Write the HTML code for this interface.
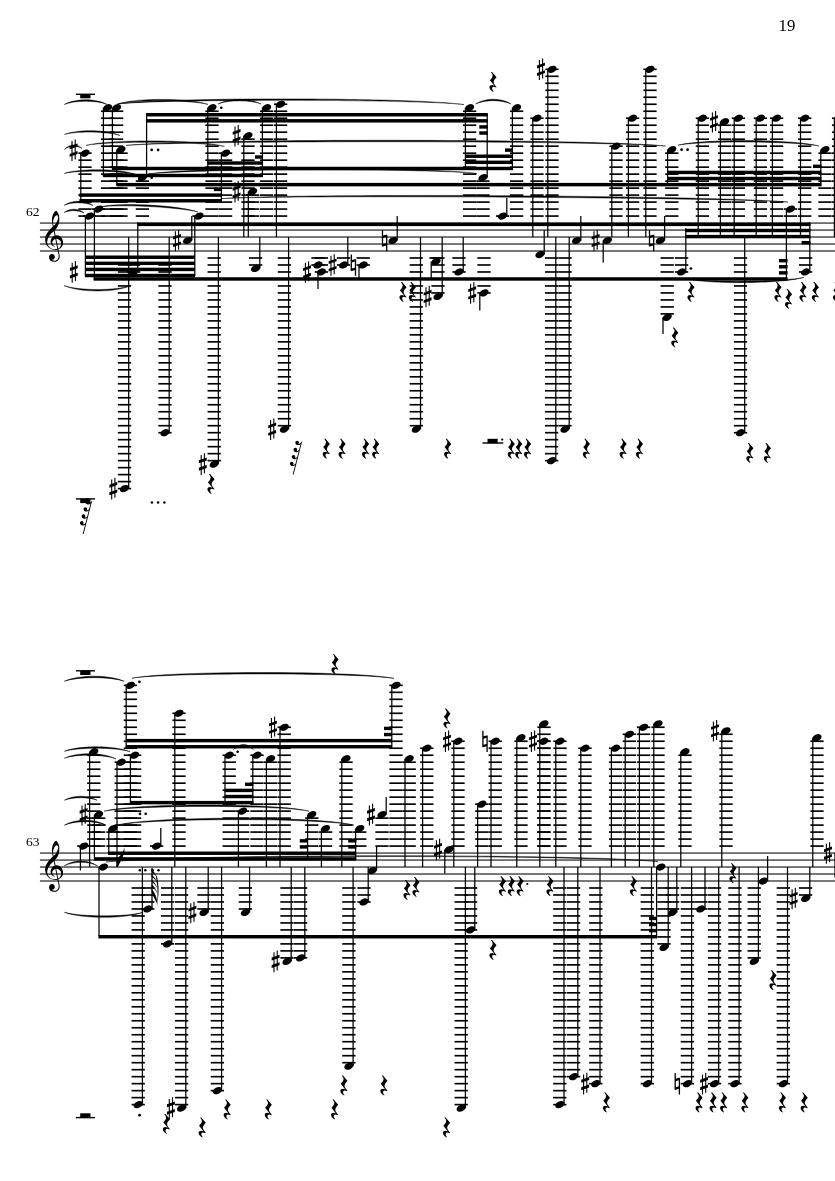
<!DOCTYPE html>
<html><head><meta charset="utf-8"><title>19</title>
<style>
html,body{margin:0;padding:0;background:#fff}
body{width:835px;height:1181px;overflow:hidden}
svg{display:block}
text{font-family:"Liberation Serif","DejaVu Serif",serif;fill:#000;filter:grayscale(1)}
</style></head>
<body>
<svg width="835" height="1181" viewBox="0 0 835 1181" fill="#000">
<rect x="0" y="0" width="835" height="1181" fill="#fff"/>
<text x="778.6" y="31.2" font-size="16.2" textLength="16.8" lengthAdjust="spacingAndGlyphs">19</text>
<rect x="39.9" y="250.48" width="795.1" height="1.05"/>
<rect x="39.9" y="243.49" width="795.1" height="1.05"/>
<rect x="39.9" y="236.5" width="795.1" height="1.05"/>
<rect x="39.9" y="229.52" width="795.1" height="1.05"/>
<rect x="39.9" y="222.53" width="795.1" height="1.05"/>
<path transform="translate(43.62 250.11) scale(0.02943 -0.02943)" d="M314 801Q300 854 291.0 906.0Q282 958 282 1012Q282 1059 288.5 1100.5Q295 1142 307 1177Q320 1217 341.0 1252.5Q362 1288 385.5 1311.0Q409 1334 427 1334Q451 1334 493 1249Q514 1206 524.0 1156.0Q534 1106 534 1049Q534 978 515.0 907.5Q496 837 459.5 775.0Q423 713 372 666L407 498Q422 500 432.0 501.0Q442 502 447 502Q508 502 556.0 467.5Q604 433 632.5 377.0Q661 321 661 254Q661 177 621.5 115.5Q582 54 503 25Q508 8 532 -117Q538 -147 541.0 -164.5Q544 -182 545.0 -195.0Q546 -208 546 -225Q546 -275 521.5 -314.5Q497 -354 455.5 -376.0Q414 -398 363 -398Q311 -398 271.0 -378.5Q231 -359 208.0 -324.5Q185 -290 185 -245Q185 -197 211.5 -165.0Q238 -133 287 -133Q329 -133 355.5 -163.5Q382 -194 382 -236Q382 -272 357.0 -299.0Q332 -326 292 -326H282Q308 -365 364 -365Q433 -365 472.0 -320.0Q511 -275 511 -205Q511 -188 507.0 -159.5Q503 -131 493 -91Q483 -51 477.5 -25.0Q472 1 470 12Q436 2 390 2Q304 2 222 52Q142 102 96.0 184.0Q50 266 50 361Q50 451 91 530Q132 609 192.5 675.0Q253 741 314 801ZM341 826Q364 838 390.0 870.5Q416 903 440.0 945.0Q464 987 479.0 1029.5Q494 1072 494 1106Q494 1142 483.0 1163.0Q472 1184 445 1184Q421 1184 398.5 1162.0Q376 1140 358.5 1103.5Q341 1067 331.0 1022.0Q321 977 321 930Q321 898 327.5 872.0Q334 846 341 826ZM398 379Q371 373 347.0 353.5Q323 334 308.5 306.5Q294 279 294 248Q294 223 307.0 196.5Q320 170 339 154Q352 142 365 136Q380 129 380 123Q380 120 370 117Q332 126 301.5 151.0Q271 176 253.5 211.5Q236 247 236 287Q236 330 253.5 370.0Q271 410 302.5 442.0Q334 474 374 490L345 641Q229 547 174.5 456.5Q120 366 120 277Q120 212 154.0 156.0Q188 100 247.0 65.5Q306 31 380 31Q400 31 420.5 35.0Q441 39 464 45ZM495 55Q593 97 593 227Q593 270 571.0 305.5Q549 341 512.0 362.0Q475 383 429 383Z"/>
<path d="M71.65 262.7h1.1v20.0h-1.1zM74.85 261.1h1.1v20.0h-1.1zM69.85 268.1l7.9 -2.8v2.9l-7.9 2.8zM69.85 275.6l7.9 -2.8v2.9l-7.9 2.8z"/>
<text x="26" y="216" font-size="13.2" textLength="13.6" lengthAdjust="spacingAndGlyphs">62</text>
<rect x="76" y="93.6" width="19" height="1.4"/>
<rect x="80.2" y="94.1" width="10.3" height="4.2"/>
<rect x="100.95" y="215.24" width="13.3" height="1.65"/>
<rect x="100.95" y="208.25" width="13.3" height="1.65"/>
<rect x="100.95" y="201.27" width="13.3" height="1.65"/>
<rect x="100.95" y="194.28" width="13.3" height="1.65"/>
<rect x="100.95" y="187.29" width="13.3" height="1.65"/>
<rect x="100.95" y="180.3" width="13.3" height="1.65"/>
<rect x="100.95" y="173.31" width="13.3" height="1.65"/>
<rect x="100.95" y="166.32" width="13.3" height="1.65"/>
<rect x="100.95" y="159.34" width="13.3" height="1.65"/>
<rect x="100.95" y="152.35" width="13.3" height="1.65"/>
<rect x="100.95" y="145.36" width="13.3" height="1.65"/>
<rect x="100.95" y="138.37" width="13.3" height="1.65"/>
<rect x="100.95" y="131.38" width="13.3" height="1.65"/>
<rect x="100.95" y="124.4" width="13.3" height="1.65"/>
<rect x="100.95" y="117.41" width="13.3" height="1.65"/>
<rect x="100.95" y="110.42" width="13.3" height="1.65"/>
<rect x="102.77" y="107.75" width="1.25" height="68.85"/>
<ellipse cx="107.6" cy="107.75" rx="4.85" ry="3.3" transform="rotate(-25 107.6 107.75)"/>
<rect x="109.95" y="215.24" width="13.3" height="1.65"/>
<rect x="109.95" y="208.25" width="13.3" height="1.65"/>
<rect x="109.95" y="201.27" width="13.3" height="1.65"/>
<rect x="109.95" y="194.28" width="13.3" height="1.65"/>
<rect x="109.95" y="187.29" width="13.3" height="1.65"/>
<rect x="109.95" y="180.3" width="13.3" height="1.65"/>
<rect x="109.95" y="173.31" width="13.3" height="1.65"/>
<rect x="109.95" y="166.32" width="13.3" height="1.65"/>
<rect x="109.95" y="159.34" width="13.3" height="1.65"/>
<rect x="109.95" y="152.35" width="13.3" height="1.65"/>
<rect x="109.95" y="145.36" width="13.3" height="1.65"/>
<rect x="109.95" y="138.37" width="13.3" height="1.65"/>
<rect x="109.95" y="131.38" width="13.3" height="1.65"/>
<rect x="109.95" y="124.4" width="13.3" height="1.65"/>
<rect x="109.95" y="117.41" width="13.3" height="1.65"/>
<rect x="109.95" y="110.42" width="13.3" height="1.65"/>
<rect x="111.77" y="107.75" width="1.25" height="62.05"/>
<ellipse cx="116.6" cy="107.75" rx="4.85" ry="3.3" transform="rotate(-25 116.6 107.75)"/>
<rect x="114.35" y="215.24" width="13.3" height="1.65"/>
<rect x="114.35" y="208.25" width="13.3" height="1.65"/>
<rect x="114.35" y="201.27" width="13.3" height="1.65"/>
<rect x="114.35" y="194.28" width="13.3" height="1.65"/>
<rect x="114.35" y="187.29" width="13.3" height="1.65"/>
<rect x="114.35" y="180.3" width="13.3" height="1.65"/>
<rect x="114.35" y="173.31" width="13.3" height="1.65"/>
<rect x="114.35" y="166.32" width="13.3" height="1.65"/>
<rect x="114.35" y="159.34" width="13.3" height="1.65"/>
<rect x="114.35" y="152.35" width="13.3" height="1.65"/>
<rect x="116.17" y="149.68" width="1.25" height="36.12"/>
<ellipse cx="121" cy="149.68" rx="4.85" ry="3.3" transform="rotate(-25 121 149.68)"/>
<rect x="78.35" y="215.24" width="13.3" height="1.65"/>
<rect x="78.35" y="208.25" width="13.3" height="1.65"/>
<rect x="78.35" y="201.27" width="13.3" height="1.65"/>
<rect x="78.35" y="194.28" width="13.3" height="1.65"/>
<rect x="78.35" y="187.29" width="13.3" height="1.65"/>
<rect x="78.35" y="180.3" width="13.3" height="1.65"/>
<rect x="78.35" y="173.31" width="13.3" height="1.65"/>
<rect x="78.35" y="166.32" width="13.3" height="1.65"/>
<rect x="78.35" y="159.34" width="13.3" height="1.65"/>
<rect x="78.35" y="152.35" width="13.3" height="1.65"/>
<rect x="80.17" y="153.17" width="1.25" height="48.83"/>
<ellipse cx="85" cy="153.17" rx="4.85" ry="3.3" transform="rotate(-25 85 153.17)"/>
<path d="M71.45 141h1.1v20.0h-1.1zM74.65 139.4h1.1v20.0h-1.1zM69.65 146.4l7.9 -2.8v2.9l-7.9 2.8zM69.65 153.9l7.9 -2.8v2.9l-7.9 2.8z"/>
<rect x="135.75" y="215.24" width="13.3" height="1.65"/>
<rect x="135.75" y="208.25" width="13.3" height="1.65"/>
<rect x="135.75" y="201.27" width="13.3" height="1.65"/>
<rect x="135.75" y="194.28" width="13.3" height="1.65"/>
<rect x="135.75" y="187.29" width="13.3" height="1.65"/>
<rect x="135.75" y="180.3" width="13.3" height="1.65"/>
<rect x="145.97" y="113.4" width="1.25" height="64.23"/>
<ellipse cx="142.4" cy="177.63" rx="4.85" ry="3.3" transform="rotate(-25 142.4 177.63)"/>
<circle cx="151.7" cy="177.63" r="1.35"/>
<rect x="205.35" y="215.24" width="13.3" height="1.65"/>
<rect x="205.35" y="208.25" width="13.3" height="1.65"/>
<rect x="205.35" y="201.27" width="13.3" height="1.65"/>
<rect x="205.35" y="194.28" width="13.3" height="1.65"/>
<rect x="205.35" y="187.29" width="13.3" height="1.65"/>
<rect x="205.35" y="180.3" width="13.3" height="1.65"/>
<rect x="205.35" y="173.31" width="13.3" height="1.65"/>
<rect x="205.35" y="166.32" width="13.3" height="1.65"/>
<rect x="205.35" y="159.34" width="13.3" height="1.65"/>
<rect x="205.35" y="152.35" width="13.3" height="1.65"/>
<rect x="205.35" y="145.36" width="13.3" height="1.65"/>
<rect x="205.35" y="138.37" width="13.3" height="1.65"/>
<rect x="205.35" y="131.38" width="13.3" height="1.65"/>
<rect x="205.35" y="124.4" width="13.3" height="1.65"/>
<rect x="205.35" y="117.41" width="13.3" height="1.65"/>
<rect x="205.35" y="110.42" width="13.3" height="1.65"/>
<rect x="207.18" y="107.75" width="1.25" height="68.85"/>
<ellipse cx="212" cy="107.75" rx="4.85" ry="3.3" transform="rotate(-25 212 107.75)"/>
<circle cx="221.3" cy="107.75" r="1.35"/>
<rect x="218.95" y="215.24" width="13.3" height="1.65"/>
<rect x="218.95" y="208.25" width="13.3" height="1.65"/>
<rect x="218.95" y="201.27" width="13.3" height="1.65"/>
<rect x="218.95" y="194.28" width="13.3" height="1.65"/>
<rect x="218.95" y="187.29" width="13.3" height="1.65"/>
<rect x="218.95" y="180.3" width="13.3" height="1.65"/>
<rect x="218.95" y="173.31" width="13.3" height="1.65"/>
<rect x="218.95" y="166.32" width="13.3" height="1.65"/>
<rect x="218.95" y="159.34" width="13.3" height="1.65"/>
<rect x="218.95" y="152.35" width="13.3" height="1.65"/>
<rect x="220.78" y="153.17" width="1.25" height="48.83"/>
<ellipse cx="225.6" cy="153.17" rx="4.85" ry="3.3" transform="rotate(-25 225.6 153.17)"/>
<rect x="241.35" y="215.24" width="13.3" height="1.65"/>
<rect x="241.35" y="208.25" width="13.3" height="1.65"/>
<rect x="241.35" y="201.27" width="13.3" height="1.65"/>
<rect x="241.35" y="194.28" width="13.3" height="1.65"/>
<rect x="241.35" y="187.29" width="13.3" height="1.65"/>
<rect x="241.35" y="180.3" width="13.3" height="1.65"/>
<rect x="241.35" y="173.31" width="13.3" height="1.65"/>
<rect x="241.35" y="166.32" width="13.3" height="1.65"/>
<rect x="241.35" y="159.34" width="13.3" height="1.65"/>
<rect x="241.35" y="152.35" width="13.3" height="1.65"/>
<rect x="241.35" y="145.36" width="13.3" height="1.65"/>
<rect x="241.35" y="138.37" width="13.3" height="1.65"/>
<rect x="243.18" y="135.7" width="1.25" height="101.33"/>
<ellipse cx="248" cy="135.7" rx="4.85" ry="3.3" transform="rotate(-25 248 135.7)"/>
<path d="M234.45 126.5h1.1v20.0h-1.1zM237.65 124.9h1.1v20.0h-1.1zM232.65 131.9l7.9 -2.8v2.9l-7.9 2.8zM232.65 139.4l7.9 -2.8v2.9l-7.9 2.8z"/>
<rect x="245.95" y="215.24" width="13.3" height="1.65"/>
<rect x="245.95" y="208.25" width="13.3" height="1.65"/>
<rect x="245.95" y="201.27" width="13.3" height="1.65"/>
<rect x="245.95" y="194.28" width="13.3" height="1.65"/>
<rect x="247.68" y="191.61" width="1.25" height="45.42"/>
<ellipse cx="252.6" cy="191.61" rx="4.85" ry="3.3" transform="rotate(-25 252.6 191.61)"/>
<path d="M234.45 182.41h1.1v20.0h-1.1zM237.65 180.81h1.1v20.0h-1.1zM232.65 187.81l7.9 -2.8v2.9l-7.9 2.8zM232.65 195.31l7.9 -2.8v2.9l-7.9 2.8z"/>
<rect x="259.95" y="215.24" width="13.3" height="1.65"/>
<rect x="259.95" y="208.25" width="13.3" height="1.65"/>
<rect x="259.95" y="201.27" width="13.3" height="1.65"/>
<rect x="259.95" y="194.28" width="13.3" height="1.65"/>
<rect x="259.95" y="187.29" width="13.3" height="1.65"/>
<rect x="259.95" y="180.3" width="13.3" height="1.65"/>
<rect x="259.95" y="173.31" width="13.3" height="1.65"/>
<rect x="259.95" y="166.32" width="13.3" height="1.65"/>
<rect x="259.95" y="159.34" width="13.3" height="1.65"/>
<rect x="259.95" y="152.35" width="13.3" height="1.65"/>
<rect x="259.95" y="145.36" width="13.3" height="1.65"/>
<rect x="259.95" y="138.37" width="13.3" height="1.65"/>
<rect x="259.95" y="131.38" width="13.3" height="1.65"/>
<rect x="259.95" y="124.4" width="13.3" height="1.65"/>
<rect x="259.95" y="117.41" width="13.3" height="1.65"/>
<rect x="259.95" y="110.42" width="13.3" height="1.65"/>
<rect x="261.78" y="107.75" width="1.25" height="68.85"/>
<ellipse cx="266.6" cy="107.75" rx="4.85" ry="3.3" transform="rotate(-25 266.6 107.75)"/>
<rect x="273.95" y="215.24" width="13.3" height="1.65"/>
<rect x="273.95" y="208.25" width="13.3" height="1.65"/>
<rect x="273.95" y="201.27" width="13.3" height="1.65"/>
<rect x="273.95" y="194.28" width="13.3" height="1.65"/>
<rect x="273.95" y="187.29" width="13.3" height="1.65"/>
<rect x="273.95" y="180.3" width="13.3" height="1.65"/>
<rect x="273.95" y="173.31" width="13.3" height="1.65"/>
<rect x="273.95" y="166.32" width="13.3" height="1.65"/>
<rect x="273.95" y="159.34" width="13.3" height="1.65"/>
<rect x="273.95" y="152.35" width="13.3" height="1.65"/>
<rect x="273.95" y="145.36" width="13.3" height="1.65"/>
<rect x="273.95" y="138.37" width="13.3" height="1.65"/>
<rect x="273.95" y="131.38" width="13.3" height="1.65"/>
<rect x="273.95" y="124.4" width="13.3" height="1.65"/>
<rect x="273.95" y="117.41" width="13.3" height="1.65"/>
<rect x="273.95" y="110.42" width="13.3" height="1.65"/>
<rect x="273.95" y="103.43" width="13.3" height="1.65"/>
<rect x="275.78" y="104.26" width="1.25" height="132.77"/>
<ellipse cx="280.6" cy="104.26" rx="4.85" ry="3.3" transform="rotate(-25 280.6 104.26)"/>
<rect x="462.95" y="215.24" width="13.3" height="1.65"/>
<rect x="462.95" y="208.25" width="13.3" height="1.65"/>
<rect x="462.95" y="201.27" width="13.3" height="1.65"/>
<rect x="462.95" y="194.28" width="13.3" height="1.65"/>
<rect x="462.95" y="187.29" width="13.3" height="1.65"/>
<rect x="462.95" y="180.3" width="13.3" height="1.65"/>
<rect x="462.95" y="173.31" width="13.3" height="1.65"/>
<rect x="462.95" y="166.32" width="13.3" height="1.65"/>
<rect x="462.95" y="159.34" width="13.3" height="1.65"/>
<rect x="462.95" y="152.35" width="13.3" height="1.65"/>
<rect x="462.95" y="145.36" width="13.3" height="1.65"/>
<rect x="462.95" y="138.37" width="13.3" height="1.65"/>
<rect x="462.95" y="131.38" width="13.3" height="1.65"/>
<rect x="462.95" y="124.4" width="13.3" height="1.65"/>
<rect x="462.95" y="117.41" width="13.3" height="1.65"/>
<rect x="462.95" y="110.42" width="13.3" height="1.65"/>
<rect x="464.78" y="107.75" width="1.25" height="62.05"/>
<ellipse cx="469.6" cy="107.75" rx="4.85" ry="3.3" transform="rotate(-25 469.6 107.75)"/>
<rect x="476.35" y="215.24" width="13.3" height="1.65"/>
<rect x="476.35" y="208.25" width="13.3" height="1.65"/>
<rect x="476.35" y="201.27" width="13.3" height="1.65"/>
<rect x="476.35" y="194.28" width="13.3" height="1.65"/>
<rect x="476.35" y="187.29" width="13.3" height="1.65"/>
<rect x="476.35" y="180.3" width="13.3" height="1.65"/>
<rect x="486.57" y="113.4" width="1.25" height="64.23"/>
<ellipse cx="483" cy="177.63" rx="4.85" ry="3.3" transform="rotate(-25 483 177.63)"/>
<rect x="509.95" y="215.24" width="13.3" height="1.65"/>
<rect x="509.95" y="208.25" width="13.3" height="1.65"/>
<rect x="509.95" y="201.27" width="13.3" height="1.65"/>
<rect x="509.95" y="194.28" width="13.3" height="1.65"/>
<rect x="509.95" y="187.29" width="13.3" height="1.65"/>
<rect x="509.95" y="180.3" width="13.3" height="1.65"/>
<rect x="509.95" y="173.31" width="13.3" height="1.65"/>
<rect x="509.95" y="166.32" width="13.3" height="1.65"/>
<rect x="509.95" y="159.34" width="13.3" height="1.65"/>
<rect x="509.95" y="152.35" width="13.3" height="1.65"/>
<rect x="509.95" y="145.36" width="13.3" height="1.65"/>
<rect x="509.95" y="138.37" width="13.3" height="1.65"/>
<rect x="509.95" y="131.38" width="13.3" height="1.65"/>
<rect x="509.95" y="124.4" width="13.3" height="1.65"/>
<rect x="509.95" y="117.41" width="13.3" height="1.65"/>
<rect x="509.95" y="110.42" width="13.3" height="1.65"/>
<rect x="511.77" y="107.75" width="1.25" height="62.05"/>
<ellipse cx="516.6" cy="107.75" rx="4.85" ry="3.3" transform="rotate(-25 516.6 107.75)"/>
<rect x="530.35" y="215.24" width="13.3" height="1.65"/>
<rect x="530.35" y="208.25" width="13.3" height="1.65"/>
<rect x="530.35" y="201.27" width="13.3" height="1.65"/>
<rect x="530.35" y="194.28" width="13.3" height="1.65"/>
<rect x="530.35" y="187.29" width="13.3" height="1.65"/>
<rect x="530.35" y="180.3" width="13.3" height="1.65"/>
<rect x="530.35" y="173.31" width="13.3" height="1.65"/>
<rect x="530.35" y="166.32" width="13.3" height="1.65"/>
<rect x="530.35" y="159.34" width="13.3" height="1.65"/>
<rect x="530.35" y="152.35" width="13.3" height="1.65"/>
<rect x="530.35" y="145.36" width="13.3" height="1.65"/>
<rect x="530.35" y="138.37" width="13.3" height="1.65"/>
<rect x="530.35" y="131.38" width="13.3" height="1.65"/>
<rect x="530.35" y="124.4" width="13.3" height="1.65"/>
<rect x="530.35" y="117.41" width="13.3" height="1.65"/>
<rect x="532.17" y="118.23" width="1.25" height="118.8"/>
<ellipse cx="537" cy="118.23" rx="4.85" ry="3.3" transform="rotate(-25 537 118.23)"/>
<rect x="545.35" y="215.24" width="13.3" height="1.65"/>
<rect x="545.35" y="208.25" width="13.3" height="1.65"/>
<rect x="545.35" y="201.27" width="13.3" height="1.65"/>
<rect x="545.35" y="194.28" width="13.3" height="1.65"/>
<rect x="545.35" y="187.29" width="13.3" height="1.65"/>
<rect x="545.35" y="180.3" width="13.3" height="1.65"/>
<rect x="545.35" y="173.31" width="13.3" height="1.65"/>
<rect x="545.35" y="166.32" width="13.3" height="1.65"/>
<rect x="545.35" y="159.34" width="13.3" height="1.65"/>
<rect x="545.35" y="152.35" width="13.3" height="1.65"/>
<rect x="545.35" y="145.36" width="13.3" height="1.65"/>
<rect x="545.35" y="138.37" width="13.3" height="1.65"/>
<rect x="545.35" y="131.38" width="13.3" height="1.65"/>
<rect x="545.35" y="124.4" width="13.3" height="1.65"/>
<rect x="545.35" y="117.41" width="13.3" height="1.65"/>
<rect x="545.35" y="110.42" width="13.3" height="1.65"/>
<rect x="545.35" y="103.43" width="13.3" height="1.65"/>
<rect x="545.35" y="96.44" width="13.3" height="1.65"/>
<rect x="545.35" y="89.46" width="13.3" height="1.65"/>
<rect x="545.35" y="82.47" width="13.3" height="1.65"/>
<rect x="545.35" y="75.48" width="13.3" height="1.65"/>
<rect x="545.35" y="68.49" width="13.3" height="1.65"/>
<rect x="547.17" y="69.32" width="1.25" height="167.71"/>
<ellipse cx="552" cy="69.32" rx="4.85" ry="3.3" transform="rotate(-25 552 69.32)"/>
<path d="M538.85 60.12h1.1v20.0h-1.1zM542.05 58.52h1.1v20.0h-1.1zM537.05 65.52l7.9 -2.8v2.9l-7.9 2.8zM537.05 73.02l7.9 -2.8v2.9l-7.9 2.8z"/>
<rect x="609.35" y="215.24" width="13.3" height="1.65"/>
<rect x="609.35" y="208.25" width="13.3" height="1.65"/>
<rect x="609.35" y="201.27" width="13.3" height="1.65"/>
<rect x="609.35" y="194.28" width="13.3" height="1.65"/>
<rect x="609.35" y="187.29" width="13.3" height="1.65"/>
<rect x="609.35" y="180.3" width="13.3" height="1.65"/>
<rect x="609.35" y="173.31" width="13.3" height="1.65"/>
<rect x="609.35" y="166.32" width="13.3" height="1.65"/>
<rect x="609.35" y="159.34" width="13.3" height="1.65"/>
<rect x="609.35" y="152.35" width="13.3" height="1.65"/>
<rect x="609.35" y="145.36" width="13.3" height="1.65"/>
<rect x="611.17" y="146.19" width="1.25" height="90.84"/>
<ellipse cx="616" cy="146.19" rx="4.85" ry="3.3" transform="rotate(-25 616 146.19)"/>
<rect x="625.95" y="215.24" width="13.3" height="1.65"/>
<rect x="625.95" y="208.25" width="13.3" height="1.65"/>
<rect x="625.95" y="201.27" width="13.3" height="1.65"/>
<rect x="625.95" y="194.28" width="13.3" height="1.65"/>
<rect x="625.95" y="187.29" width="13.3" height="1.65"/>
<rect x="625.95" y="180.3" width="13.3" height="1.65"/>
<rect x="625.95" y="173.31" width="13.3" height="1.65"/>
<rect x="625.95" y="166.32" width="13.3" height="1.65"/>
<rect x="625.95" y="159.34" width="13.3" height="1.65"/>
<rect x="625.95" y="152.35" width="13.3" height="1.65"/>
<rect x="625.95" y="145.36" width="13.3" height="1.65"/>
<rect x="625.95" y="138.37" width="13.3" height="1.65"/>
<rect x="625.95" y="131.38" width="13.3" height="1.65"/>
<rect x="625.95" y="124.4" width="13.3" height="1.65"/>
<rect x="625.95" y="117.41" width="13.3" height="1.65"/>
<rect x="627.77" y="118.23" width="1.25" height="118.8"/>
<ellipse cx="632.6" cy="118.23" rx="4.85" ry="3.3" transform="rotate(-25 632.6 118.23)"/>
<rect x="643.35" y="215.24" width="13.3" height="1.65"/>
<rect x="643.35" y="208.25" width="13.3" height="1.65"/>
<rect x="643.35" y="201.27" width="13.3" height="1.65"/>
<rect x="643.35" y="194.28" width="13.3" height="1.65"/>
<rect x="643.35" y="187.29" width="13.3" height="1.65"/>
<rect x="643.35" y="180.3" width="13.3" height="1.65"/>
<rect x="643.35" y="173.31" width="13.3" height="1.65"/>
<rect x="643.35" y="166.32" width="13.3" height="1.65"/>
<rect x="643.35" y="159.34" width="13.3" height="1.65"/>
<rect x="643.35" y="152.35" width="13.3" height="1.65"/>
<rect x="643.35" y="145.36" width="13.3" height="1.65"/>
<rect x="643.35" y="138.37" width="13.3" height="1.65"/>
<rect x="643.35" y="131.38" width="13.3" height="1.65"/>
<rect x="643.35" y="124.4" width="13.3" height="1.65"/>
<rect x="643.35" y="117.41" width="13.3" height="1.65"/>
<rect x="643.35" y="110.42" width="13.3" height="1.65"/>
<rect x="643.35" y="103.43" width="13.3" height="1.65"/>
<rect x="643.35" y="96.44" width="13.3" height="1.65"/>
<rect x="643.35" y="89.46" width="13.3" height="1.65"/>
<rect x="643.35" y="82.47" width="13.3" height="1.65"/>
<rect x="643.35" y="75.48" width="13.3" height="1.65"/>
<rect x="643.35" y="68.49" width="13.3" height="1.65"/>
<rect x="645.17" y="69.32" width="1.25" height="167.71"/>
<ellipse cx="650" cy="69.32" rx="4.85" ry="3.3" transform="rotate(-25 650 69.32)"/>
<rect x="665.15" y="215.24" width="13.3" height="1.65"/>
<rect x="665.15" y="208.25" width="13.3" height="1.65"/>
<rect x="665.15" y="201.27" width="13.3" height="1.65"/>
<rect x="665.15" y="194.28" width="13.3" height="1.65"/>
<rect x="665.15" y="187.29" width="13.3" height="1.65"/>
<rect x="665.15" y="180.3" width="13.3" height="1.65"/>
<rect x="665.15" y="173.31" width="13.3" height="1.65"/>
<rect x="665.15" y="166.32" width="13.3" height="1.65"/>
<rect x="665.15" y="159.34" width="13.3" height="1.65"/>
<rect x="665.15" y="152.35" width="13.3" height="1.65"/>
<rect x="666.97" y="149.68" width="1.25" height="36.12"/>
<ellipse cx="671.8" cy="149.68" rx="4.85" ry="3.3" transform="rotate(-25 671.8 149.68)"/>
<circle cx="681.6" cy="149.68" r="1.35"/>
<circle cx="687.6" cy="149.68" r="1.35"/>
<rect x="695.75" y="215.24" width="13.3" height="1.65"/>
<rect x="695.75" y="208.25" width="13.3" height="1.65"/>
<rect x="695.75" y="201.27" width="13.3" height="1.65"/>
<rect x="695.75" y="194.28" width="13.3" height="1.65"/>
<rect x="695.75" y="187.29" width="13.3" height="1.65"/>
<rect x="695.75" y="180.3" width="13.3" height="1.65"/>
<rect x="695.75" y="173.31" width="13.3" height="1.65"/>
<rect x="695.75" y="166.32" width="13.3" height="1.65"/>
<rect x="695.75" y="159.34" width="13.3" height="1.65"/>
<rect x="695.75" y="152.35" width="13.3" height="1.65"/>
<rect x="695.75" y="145.36" width="13.3" height="1.65"/>
<rect x="695.75" y="138.37" width="13.3" height="1.65"/>
<rect x="695.75" y="131.38" width="13.3" height="1.65"/>
<rect x="695.75" y="124.4" width="13.3" height="1.65"/>
<rect x="695.75" y="117.41" width="13.3" height="1.65"/>
<rect x="697.57" y="118.23" width="1.25" height="118.8"/>
<ellipse cx="702.4" cy="118.23" rx="4.85" ry="3.3" transform="rotate(-25 702.4 118.23)"/>
<rect x="717.95" y="215.24" width="13.3" height="1.65"/>
<rect x="717.95" y="208.25" width="13.3" height="1.65"/>
<rect x="717.95" y="201.27" width="13.3" height="1.65"/>
<rect x="717.95" y="194.28" width="13.3" height="1.65"/>
<rect x="717.95" y="187.29" width="13.3" height="1.65"/>
<rect x="717.95" y="180.3" width="13.3" height="1.65"/>
<rect x="717.95" y="173.31" width="13.3" height="1.65"/>
<rect x="717.95" y="166.32" width="13.3" height="1.65"/>
<rect x="717.95" y="159.34" width="13.3" height="1.65"/>
<rect x="717.95" y="152.35" width="13.3" height="1.65"/>
<rect x="717.95" y="145.36" width="13.3" height="1.65"/>
<rect x="717.95" y="138.37" width="13.3" height="1.65"/>
<rect x="717.95" y="131.38" width="13.3" height="1.65"/>
<rect x="717.95" y="124.4" width="13.3" height="1.65"/>
<rect x="719.77" y="121.73" width="1.25" height="115.3"/>
<ellipse cx="724.6" cy="121.73" rx="4.85" ry="3.3" transform="rotate(-25 724.6 121.73)"/>
<path d="M711.85 112.53h1.1v20.0h-1.1zM715.05 110.93h1.1v20.0h-1.1zM710.05 117.93l7.9 -2.8v2.9l-7.9 2.8zM710.05 125.43l7.9 -2.8v2.9l-7.9 2.8z"/>
<rect x="731.75" y="215.24" width="13.3" height="1.65"/>
<rect x="731.75" y="208.25" width="13.3" height="1.65"/>
<rect x="731.75" y="201.27" width="13.3" height="1.65"/>
<rect x="731.75" y="194.28" width="13.3" height="1.65"/>
<rect x="731.75" y="187.29" width="13.3" height="1.65"/>
<rect x="731.75" y="180.3" width="13.3" height="1.65"/>
<rect x="731.75" y="173.31" width="13.3" height="1.65"/>
<rect x="731.75" y="166.32" width="13.3" height="1.65"/>
<rect x="731.75" y="159.34" width="13.3" height="1.65"/>
<rect x="731.75" y="152.35" width="13.3" height="1.65"/>
<rect x="731.75" y="145.36" width="13.3" height="1.65"/>
<rect x="731.75" y="138.37" width="13.3" height="1.65"/>
<rect x="731.75" y="131.38" width="13.3" height="1.65"/>
<rect x="731.75" y="124.4" width="13.3" height="1.65"/>
<rect x="731.75" y="117.41" width="13.3" height="1.65"/>
<rect x="733.57" y="118.23" width="1.25" height="118.8"/>
<ellipse cx="738.4" cy="118.23" rx="4.85" ry="3.3" transform="rotate(-25 738.4 118.23)"/>
<rect x="753.75" y="215.24" width="13.3" height="1.65"/>
<rect x="753.75" y="208.25" width="13.3" height="1.65"/>
<rect x="753.75" y="201.27" width="13.3" height="1.65"/>
<rect x="753.75" y="194.28" width="13.3" height="1.65"/>
<rect x="753.75" y="187.29" width="13.3" height="1.65"/>
<rect x="753.75" y="180.3" width="13.3" height="1.65"/>
<rect x="753.75" y="173.31" width="13.3" height="1.65"/>
<rect x="753.75" y="166.32" width="13.3" height="1.65"/>
<rect x="753.75" y="159.34" width="13.3" height="1.65"/>
<rect x="753.75" y="152.35" width="13.3" height="1.65"/>
<rect x="753.75" y="145.36" width="13.3" height="1.65"/>
<rect x="753.75" y="138.37" width="13.3" height="1.65"/>
<rect x="753.75" y="131.38" width="13.3" height="1.65"/>
<rect x="753.75" y="124.4" width="13.3" height="1.65"/>
<rect x="753.75" y="117.41" width="13.3" height="1.65"/>
<rect x="755.57" y="118.23" width="1.25" height="118.8"/>
<ellipse cx="760.4" cy="118.23" rx="4.85" ry="3.3" transform="rotate(-25 760.4 118.23)"/>
<rect x="769.95" y="215.24" width="13.3" height="1.65"/>
<rect x="769.95" y="208.25" width="13.3" height="1.65"/>
<rect x="769.95" y="201.27" width="13.3" height="1.65"/>
<rect x="769.95" y="194.28" width="13.3" height="1.65"/>
<rect x="769.95" y="187.29" width="13.3" height="1.65"/>
<rect x="769.95" y="180.3" width="13.3" height="1.65"/>
<rect x="769.95" y="173.31" width="13.3" height="1.65"/>
<rect x="769.95" y="166.32" width="13.3" height="1.65"/>
<rect x="769.95" y="159.34" width="13.3" height="1.65"/>
<rect x="769.95" y="152.35" width="13.3" height="1.65"/>
<rect x="769.95" y="145.36" width="13.3" height="1.65"/>
<rect x="769.95" y="138.37" width="13.3" height="1.65"/>
<rect x="769.95" y="131.38" width="13.3" height="1.65"/>
<rect x="769.95" y="124.4" width="13.3" height="1.65"/>
<rect x="769.95" y="117.41" width="13.3" height="1.65"/>
<rect x="771.77" y="118.23" width="1.25" height="118.8"/>
<ellipse cx="776.6" cy="118.23" rx="4.85" ry="3.3" transform="rotate(-25 776.6 118.23)"/>
<rect x="798.05" y="215.24" width="13.3" height="1.65"/>
<rect x="798.05" y="208.25" width="13.3" height="1.65"/>
<rect x="798.05" y="201.27" width="13.3" height="1.65"/>
<rect x="798.05" y="194.28" width="13.3" height="1.65"/>
<rect x="798.05" y="187.29" width="13.3" height="1.65"/>
<rect x="798.05" y="180.3" width="13.3" height="1.65"/>
<rect x="798.05" y="173.31" width="13.3" height="1.65"/>
<rect x="798.05" y="166.32" width="13.3" height="1.65"/>
<rect x="798.05" y="159.34" width="13.3" height="1.65"/>
<rect x="798.05" y="152.35" width="13.3" height="1.65"/>
<rect x="798.05" y="145.36" width="13.3" height="1.65"/>
<rect x="798.05" y="138.37" width="13.3" height="1.65"/>
<rect x="798.05" y="131.38" width="13.3" height="1.65"/>
<rect x="798.05" y="124.4" width="13.3" height="1.65"/>
<rect x="798.05" y="117.41" width="13.3" height="1.65"/>
<rect x="799.88" y="118.23" width="1.25" height="118.8"/>
<ellipse cx="804.7" cy="118.23" rx="4.85" ry="3.3" transform="rotate(-25 804.7 118.23)"/>
<rect x="818.35" y="215.24" width="13.3" height="1.65"/>
<rect x="818.35" y="208.25" width="13.3" height="1.65"/>
<rect x="818.35" y="201.27" width="13.3" height="1.65"/>
<rect x="818.35" y="194.28" width="13.3" height="1.65"/>
<rect x="818.35" y="187.29" width="13.3" height="1.65"/>
<rect x="818.35" y="180.3" width="13.3" height="1.65"/>
<rect x="818.35" y="173.31" width="13.3" height="1.65"/>
<rect x="818.35" y="166.32" width="13.3" height="1.65"/>
<rect x="818.35" y="159.34" width="13.3" height="1.65"/>
<rect x="818.35" y="152.35" width="13.3" height="1.65"/>
<rect x="820.17" y="149.68" width="1.25" height="36.12"/>
<ellipse cx="825" cy="149.68" rx="4.85" ry="3.3" transform="rotate(-25 825 149.68)"/>
<rect x="831.95" y="215.24" width="13.3" height="1.65"/>
<rect x="831.95" y="208.25" width="13.3" height="1.65"/>
<rect x="831.95" y="201.27" width="13.3" height="1.65"/>
<rect x="831.95" y="194.28" width="13.3" height="1.65"/>
<rect x="831.95" y="187.29" width="13.3" height="1.65"/>
<rect x="831.95" y="180.3" width="13.3" height="1.65"/>
<rect x="831.95" y="173.31" width="13.3" height="1.65"/>
<rect x="831.95" y="166.32" width="13.3" height="1.65"/>
<rect x="831.95" y="159.34" width="13.3" height="1.65"/>
<rect x="831.95" y="152.35" width="13.3" height="1.65"/>
<rect x="831.95" y="145.36" width="13.3" height="1.65"/>
<rect x="831.95" y="138.37" width="13.3" height="1.65"/>
<rect x="831.95" y="131.38" width="13.3" height="1.65"/>
<rect x="831.95" y="124.4" width="13.3" height="1.65"/>
<rect x="831.95" y="117.41" width="13.3" height="1.65"/>
<rect x="833.77" y="118.23" width="1.25" height="118.8"/>
<ellipse cx="838.6" cy="118.23" rx="4.85" ry="3.3" transform="rotate(-25 838.6 118.23)"/>
<circle cx="151.7" cy="149.9" r="1.35"/>
<circle cx="158.1" cy="149.9" r="1.35"/>
<rect x="146.2" y="113" width="341.5" height="3.45"/>
<rect x="146.2" y="119.1" width="341.5" height="3.45"/>
<rect x="479.3" y="125.2" width="8.4" height="3.45"/>
<rect x="479.3" y="131.3" width="8.4" height="3.45"/>
<rect x="103.2" y="173.75" width="159.8" height="3.45"/>
<rect x="112" y="166.76" width="401" height="3.45"/>
<rect x="116.8" y="182.9" width="704.6" height="3.45"/>
<rect x="79.4" y="193.38" width="142.6" height="3.45"/>
<rect x="79.4" y="199.04" width="142.6" height="3.45"/>
<rect x="213.8" y="187.7" width="8.2" height="3.45"/>
<rect x="207.4" y="161.3" width="55.6" height="3.45"/>
<rect x="255" y="155.3" width="8" height="3.45"/>
<rect x="465" y="154.5" width="48" height="3.45"/>
<rect x="465" y="160.6" width="48" height="3.45"/>
<rect x="505" y="148.4" width="8" height="3.45"/>
<rect x="667.2" y="170.7" width="154.2" height="3.45"/>
<rect x="667.2" y="176.8" width="154.2" height="3.45"/>
<rect x="813" y="164.6" width="8.4" height="3.45"/>
<rect x="137.2" y="222.66" width="673.2" height="3.45"/>
<rect x="685" y="228.76" width="125.4" height="3.45"/>
<rect x="685" y="234.86" width="125.4" height="3.45"/>
<rect x="801.6" y="240.96" width="8.8" height="3.45"/>
<rect x="85" y="255.5" width="110" height="3.45"/>
<rect x="85" y="261.6" width="110" height="3.45"/>
<rect x="85" y="267.7" width="110" height="3.45"/>
<rect x="85" y="273.8" width="110" height="3.45"/>
<rect x="93.6" y="277.24" width="694" height="3.45"/>
<rect x="779" y="271.14" width="8.6" height="3.45"/>
<rect x="779" y="265.04" width="8.6" height="3.45"/>
<rect x="779" y="258.94" width="8.6" height="3.45"/>
<rect x="82.95" y="215.24" width="13.3" height="1.65"/>
<rect x="84.77" y="216.07" width="1.25" height="59.93"/>
<ellipse cx="89.6" cy="216.07" rx="4.85" ry="3.3" transform="rotate(-25 89.6 216.07)"/>
<rect x="91.95" y="215.24" width="13.3" height="1.65"/>
<rect x="91.95" y="208.25" width="13.3" height="1.65"/>
<rect x="93.77" y="209.08" width="1.25" height="70.92"/>
<ellipse cx="98.6" cy="209.08" rx="4.85" ry="3.3" transform="rotate(-25 98.6 209.08)"/>
<rect x="126.95" y="257.17" width="13.3" height="1.65"/>
<rect x="126.95" y="264.16" width="13.3" height="1.65"/>
<rect x="126.95" y="271.15" width="13.3" height="1.65"/>
<rect x="137.17" y="222.3" width="1.25" height="49.67"/>
<ellipse cx="133.6" cy="271.97" rx="4.85" ry="3.3" transform="rotate(-25 133.6 271.97)"/>
<rect x="191.17" y="216" width="1.25" height="24.52"/>
<ellipse cx="187.6" cy="240.52" rx="4.85" ry="3.3" transform="rotate(-25 187.6 240.52)"/>
<path d="M174.85 231.32h1.1v20.0h-1.1zM178.05 229.72h1.1v20.0h-1.1zM173.05 236.72l7.9 -2.8v2.9l-7.9 2.8zM173.05 244.22l7.9 -2.8v2.9l-7.9 2.8z"/>
<rect x="192.35" y="215.24" width="13.3" height="1.65"/>
<rect x="194.18" y="216.07" width="1.25" height="59.93"/>
<ellipse cx="199" cy="216.07" rx="4.85" ry="3.3" transform="rotate(-25 199 216.07)"/>
<rect x="248.95" y="257.17" width="13.3" height="1.65"/>
<rect x="248.95" y="264.16" width="13.3" height="1.65"/>
<rect x="259.18" y="237.03" width="1.25" height="31.45"/>
<ellipse cx="255.6" cy="268.48" rx="4.85" ry="3.3" transform="rotate(-25 255.6 268.48)"/>
<rect x="311.35" y="257.17" width="13.3" height="1.65"/>
<rect x="311.35" y="264.16" width="13.3" height="1.65"/>
<ellipse cx="318" cy="264.98" rx="4.85" ry="3.3" transform="rotate(-25 318 264.98)"/>
<rect x="314.75" y="257.17" width="13.3" height="1.65"/>
<rect x="314.75" y="264.16" width="13.3" height="1.65"/>
<rect x="314.75" y="271.15" width="13.3" height="1.65"/>
<rect x="317.38" y="271.97" width="1.25" height="17.03"/>
<ellipse cx="321.4" cy="271.97" rx="4.85" ry="3.3" transform="rotate(-25 321.4 271.97)"/>
<path d="M304.85 262.77h1.1v20.0h-1.1zM308.05 261.17h1.1v20.0h-1.1zM303.05 268.17l7.9 -2.8v2.9l-7.9 2.8zM303.05 275.67l7.9 -2.8v2.9l-7.9 2.8z"/>
<rect x="336.95" y="257.17" width="13.3" height="1.65"/>
<rect x="336.95" y="264.16" width="13.3" height="1.65"/>
<rect x="347.18" y="237.03" width="1.25" height="27.95"/>
<ellipse cx="343.6" cy="264.98" rx="4.85" ry="3.3" transform="rotate(-25 343.6 264.98)"/>
<path d="M330.45 255.78h1.1v20.0h-1.1zM333.65 254.18h1.1v20.0h-1.1zM328.65 261.18l7.9 -2.8v2.9l-7.9 2.8zM328.65 268.68l7.9 -2.8v2.9l-7.9 2.8z"/>
<rect x="356.55" y="257.17" width="13.3" height="1.65"/>
<rect x="356.55" y="264.16" width="13.3" height="1.65"/>
<rect x="358.38" y="264.98" width="1.25" height="15.02"/>
<ellipse cx="363.2" cy="264.98" rx="4.85" ry="3.3" transform="rotate(-25 363.2 264.98)"/>
<path fill-rule="evenodd" d="M350.65 254.38h1.3v5.7l2.9 -0.9h1.3v16.6h-1.3v-5.7l-2.9 0.9h-1.3zM351.95 262.48l2.9 -0.9v6.1l-2.9 0.9z"/>
<rect x="396.57" y="216" width="1.25" height="24.52"/>
<ellipse cx="393" cy="240.52" rx="4.85" ry="3.3" transform="rotate(-25 393 240.52)"/>
<path fill-rule="evenodd" d="M381.85 229.92h1.3v5.7l2.9 -0.9h1.3v16.6h-1.3v-5.7l-2.9 0.9h-1.3zM383.15 238.02l2.9 -0.9v6.1l-2.9 0.9z"/>
<rect x="429.35" y="257.17" width="13.3" height="1.65"/>
<rect x="430.57" y="261.49" width="1.25" height="17.51"/>
<ellipse cx="436" cy="261.49" rx="4.85" ry="3.3" transform="rotate(-25 436 261.49)"/>
<rect x="431.35" y="257.17" width="13.3" height="1.65"/>
<rect x="431.35" y="264.16" width="13.3" height="1.65"/>
<rect x="431.35" y="271.15" width="13.3" height="1.65"/>
<rect x="431.35" y="278.13" width="13.3" height="1.65"/>
<rect x="431.35" y="285.12" width="13.3" height="1.65"/>
<rect x="431.35" y="292.11" width="13.3" height="1.65"/>
<rect x="441.57" y="237.03" width="1.25" height="59.4"/>
<ellipse cx="438" cy="296.43" rx="4.85" ry="3.3" transform="rotate(-25 438 296.43)"/>
<path d="M425.45 287.23h1.1v20.0h-1.1zM428.65 285.63h1.1v20.0h-1.1zM423.65 292.63l7.9 -2.8v2.9l-7.9 2.8zM423.65 300.13l7.9 -2.8v2.9l-7.9 2.8z"/>
<rect x="452.35" y="257.17" width="13.3" height="1.65"/>
<rect x="452.35" y="264.16" width="13.3" height="1.65"/>
<rect x="452.35" y="271.15" width="13.3" height="1.65"/>
<rect x="462.57" y="237.03" width="1.25" height="34.94"/>
<ellipse cx="459" cy="271.97" rx="4.85" ry="3.3" transform="rotate(-25 459 271.97)"/>
<rect x="477.35" y="257.17" width="13.3" height="1.65"/>
<rect x="477.35" y="264.16" width="13.3" height="1.65"/>
<rect x="477.35" y="271.15" width="13.3" height="1.65"/>
<rect x="477.35" y="278.13" width="13.3" height="1.65"/>
<rect x="477.35" y="285.12" width="13.3" height="1.65"/>
<rect x="477.35" y="292.11" width="13.3" height="1.65"/>
<rect x="479.18" y="292.93" width="1.25" height="17.67"/>
<ellipse cx="484" cy="292.93" rx="4.85" ry="3.3" transform="rotate(-25 484 292.93)"/>
<path d="M470.05 283.73h1.1v20.0h-1.1zM473.25 282.13h1.1v20.0h-1.1zM468.25 289.13l7.9 -2.8v2.9l-7.9 2.8zM468.25 296.63l7.9 -2.8v2.9l-7.9 2.8z"/>
<rect x="495.95" y="215.24" width="13.3" height="1.65"/>
<rect x="506.18" y="198" width="1.25" height="18.07"/>
<ellipse cx="502.6" cy="216.07" rx="4.85" ry="3.3" transform="rotate(-25 502.6 216.07)"/>
<rect x="543.58" y="230" width="1.25" height="24.5"/>
<ellipse cx="540" cy="254.5" rx="4.85" ry="3.3" transform="rotate(-25 540 254.5)"/>
<rect x="580.18" y="216" width="1.25" height="24.52"/>
<ellipse cx="576.6" cy="240.52" rx="4.85" ry="3.3" transform="rotate(-25 576.6 240.52)"/>
<rect x="602.57" y="240.52" width="1.25" height="22.08"/>
<ellipse cx="607.4" cy="240.52" rx="4.85" ry="3.3" transform="rotate(-25 607.4 240.52)"/>
<path d="M593.45 231.32h1.1v20.0h-1.1zM596.65 229.72h1.1v20.0h-1.1zM591.65 236.72l7.9 -2.8v2.9l-7.9 2.8zM591.65 244.22l7.9 -2.8v2.9l-7.9 2.8z"/>
<rect x="663.98" y="216" width="1.25" height="24.52"/>
<ellipse cx="660.4" cy="240.52" rx="4.85" ry="3.3" transform="rotate(-25 660.4 240.52)"/>
<path fill-rule="evenodd" d="M648.85 229.92h1.3v5.7l2.9 -0.9h1.3v16.6h-1.3v-5.7l-2.9 0.9h-1.3zM650.15 238.02l2.9 -0.9v6.1l-2.9 0.9z"/>
<rect x="660.55" y="257.17" width="13.3" height="1.65"/>
<rect x="660.55" y="264.16" width="13.3" height="1.65"/>
<rect x="660.55" y="271.15" width="13.3" height="1.65"/>
<rect x="660.55" y="278.13" width="13.3" height="1.65"/>
<rect x="660.55" y="285.12" width="13.3" height="1.65"/>
<rect x="660.55" y="292.11" width="13.3" height="1.65"/>
<rect x="660.55" y="299.1" width="13.3" height="1.65"/>
<rect x="660.55" y="306.09" width="13.3" height="1.65"/>
<rect x="660.55" y="313.07" width="13.3" height="1.65"/>
<rect x="662.38" y="317.39" width="1.25" height="16.61"/>
<ellipse cx="667.2" cy="317.39" rx="4.85" ry="3.3" transform="rotate(-25 667.2 317.39)"/>
<rect x="674.95" y="257.17" width="13.3" height="1.65"/>
<rect x="674.95" y="264.16" width="13.3" height="1.65"/>
<rect x="674.95" y="271.15" width="13.3" height="1.65"/>
<rect x="685.18" y="228.2" width="1.25" height="43.77"/>
<ellipse cx="681.6" cy="271.97" rx="4.85" ry="3.3" transform="rotate(-25 681.6 271.97)"/>
<circle cx="690.9" cy="268.48" r="1.35"/>
<rect x="783.95" y="215.24" width="13.3" height="1.65"/>
<rect x="783.95" y="208.25" width="13.3" height="1.65"/>
<rect x="785.77" y="209.08" width="1.25" height="70.92"/>
<ellipse cx="790.6" cy="209.08" rx="4.85" ry="3.3" transform="rotate(-25 790.6 209.08)"/>
<rect x="798.95" y="257.17" width="13.3" height="1.65"/>
<rect x="798.95" y="264.16" width="13.3" height="1.65"/>
<rect x="798.95" y="271.15" width="13.3" height="1.65"/>
<rect x="809.18" y="222.3" width="1.25" height="49.67"/>
<ellipse cx="805.6" cy="271.97" rx="4.85" ry="3.3" transform="rotate(-25 805.6 271.97)"/>
<rect x="117.85" y="257.17" width="13.3" height="1.65"/>
<rect x="117.85" y="264.16" width="13.3" height="1.65"/>
<rect x="117.85" y="271.15" width="13.3" height="1.65"/>
<rect x="117.85" y="278.13" width="13.3" height="1.65"/>
<rect x="117.85" y="285.12" width="13.3" height="1.65"/>
<rect x="117.85" y="292.11" width="13.3" height="1.65"/>
<rect x="117.85" y="299.1" width="13.3" height="1.65"/>
<rect x="117.85" y="306.09" width="13.3" height="1.65"/>
<rect x="117.85" y="313.07" width="13.3" height="1.65"/>
<rect x="117.85" y="320.06" width="13.3" height="1.65"/>
<rect x="117.85" y="327.05" width="13.3" height="1.65"/>
<rect x="117.85" y="334.04" width="13.3" height="1.65"/>
<rect x="117.85" y="341.03" width="13.3" height="1.65"/>
<rect x="117.85" y="348.01" width="13.3" height="1.65"/>
<rect x="117.85" y="355" width="13.3" height="1.65"/>
<rect x="117.85" y="361.99" width="13.3" height="1.65"/>
<rect x="117.85" y="368.98" width="13.3" height="1.65"/>
<rect x="117.85" y="375.97" width="13.3" height="1.65"/>
<rect x="117.85" y="382.95" width="13.3" height="1.65"/>
<rect x="117.85" y="389.94" width="13.3" height="1.65"/>
<rect x="117.85" y="396.93" width="13.3" height="1.65"/>
<rect x="117.85" y="403.92" width="13.3" height="1.65"/>
<rect x="117.85" y="410.91" width="13.3" height="1.65"/>
<rect x="117.85" y="417.89" width="13.3" height="1.65"/>
<rect x="117.85" y="424.88" width="13.3" height="1.65"/>
<rect x="117.85" y="431.87" width="13.3" height="1.65"/>
<rect x="117.85" y="438.86" width="13.3" height="1.65"/>
<rect x="117.85" y="445.85" width="13.3" height="1.65"/>
<rect x="117.85" y="452.83" width="13.3" height="1.65"/>
<rect x="117.85" y="459.82" width="13.3" height="1.65"/>
<rect x="117.85" y="466.81" width="13.3" height="1.65"/>
<rect x="117.85" y="473.8" width="13.3" height="1.65"/>
<rect x="117.85" y="480.79" width="13.3" height="1.65"/>
<rect x="117.85" y="487.77" width="13.3" height="1.65"/>
<rect x="128.07" y="237.03" width="1.25" height="251.57"/>
<ellipse cx="124.5" cy="488.6" rx="4.85" ry="3.3" transform="rotate(-25 124.5 488.6)"/>
<path d="M111.15 479.4h1.1v20.0h-1.1zM114.35 477.8h1.1v20.0h-1.1zM109.35 484.8l7.9 -2.8v2.9l-7.9 2.8zM109.35 492.3l7.9 -2.8v2.9l-7.9 2.8z"/>
<rect x="158.35" y="257.17" width="13.3" height="1.65"/>
<rect x="158.35" y="264.16" width="13.3" height="1.65"/>
<rect x="158.35" y="271.15" width="13.3" height="1.65"/>
<rect x="158.35" y="278.13" width="13.3" height="1.65"/>
<rect x="158.35" y="285.12" width="13.3" height="1.65"/>
<rect x="158.35" y="292.11" width="13.3" height="1.65"/>
<rect x="158.35" y="299.1" width="13.3" height="1.65"/>
<rect x="158.35" y="306.09" width="13.3" height="1.65"/>
<rect x="158.35" y="313.07" width="13.3" height="1.65"/>
<rect x="158.35" y="320.06" width="13.3" height="1.65"/>
<rect x="158.35" y="327.05" width="13.3" height="1.65"/>
<rect x="158.35" y="334.04" width="13.3" height="1.65"/>
<rect x="158.35" y="341.03" width="13.3" height="1.65"/>
<rect x="158.35" y="348.01" width="13.3" height="1.65"/>
<rect x="158.35" y="355" width="13.3" height="1.65"/>
<rect x="158.35" y="361.99" width="13.3" height="1.65"/>
<rect x="158.35" y="368.98" width="13.3" height="1.65"/>
<rect x="158.35" y="375.97" width="13.3" height="1.65"/>
<rect x="158.35" y="382.95" width="13.3" height="1.65"/>
<rect x="158.35" y="389.94" width="13.3" height="1.65"/>
<rect x="158.35" y="396.93" width="13.3" height="1.65"/>
<rect x="158.35" y="403.92" width="13.3" height="1.65"/>
<rect x="158.35" y="410.91" width="13.3" height="1.65"/>
<rect x="158.35" y="417.89" width="13.3" height="1.65"/>
<rect x="158.35" y="424.88" width="13.3" height="1.65"/>
<rect x="158.35" y="431.87" width="13.3" height="1.65"/>
<rect x="168.57" y="237.03" width="1.25" height="195.66"/>
<ellipse cx="165" cy="432.69" rx="4.85" ry="3.3" transform="rotate(-25 165 432.69)"/>
<rect x="207.55" y="257.17" width="13.3" height="1.65"/>
<rect x="207.55" y="264.16" width="13.3" height="1.65"/>
<rect x="207.55" y="271.15" width="13.3" height="1.65"/>
<rect x="207.55" y="278.13" width="13.3" height="1.65"/>
<rect x="207.55" y="285.12" width="13.3" height="1.65"/>
<rect x="207.55" y="292.11" width="13.3" height="1.65"/>
<rect x="207.55" y="299.1" width="13.3" height="1.65"/>
<rect x="207.55" y="306.09" width="13.3" height="1.65"/>
<rect x="207.55" y="313.07" width="13.3" height="1.65"/>
<rect x="207.55" y="320.06" width="13.3" height="1.65"/>
<rect x="207.55" y="327.05" width="13.3" height="1.65"/>
<rect x="207.55" y="334.04" width="13.3" height="1.65"/>
<rect x="207.55" y="341.03" width="13.3" height="1.65"/>
<rect x="207.55" y="348.01" width="13.3" height="1.65"/>
<rect x="207.55" y="355" width="13.3" height="1.65"/>
<rect x="207.55" y="361.99" width="13.3" height="1.65"/>
<rect x="207.55" y="368.98" width="13.3" height="1.65"/>
<rect x="207.55" y="375.97" width="13.3" height="1.65"/>
<rect x="207.55" y="382.95" width="13.3" height="1.65"/>
<rect x="207.55" y="389.94" width="13.3" height="1.65"/>
<rect x="207.55" y="396.93" width="13.3" height="1.65"/>
<rect x="207.55" y="403.92" width="13.3" height="1.65"/>
<rect x="207.55" y="410.91" width="13.3" height="1.65"/>
<rect x="207.55" y="417.89" width="13.3" height="1.65"/>
<rect x="207.55" y="424.88" width="13.3" height="1.65"/>
<rect x="207.55" y="431.87" width="13.3" height="1.65"/>
<rect x="207.55" y="438.86" width="13.3" height="1.65"/>
<rect x="207.55" y="445.85" width="13.3" height="1.65"/>
<rect x="207.55" y="452.83" width="13.3" height="1.65"/>
<rect x="207.55" y="459.82" width="13.3" height="1.65"/>
<rect x="217.77" y="237.03" width="1.25" height="227.11"/>
<ellipse cx="214.2" cy="464.14" rx="4.85" ry="3.3" transform="rotate(-25 214.2 464.14)"/>
<path d="M200.65 454.94h1.1v20.0h-1.1zM203.85 453.34h1.1v20.0h-1.1zM198.85 460.34l7.9 -2.8v2.9l-7.9 2.8zM198.85 467.84l7.9 -2.8v2.9l-7.9 2.8z"/>
<rect x="277.75" y="257.17" width="13.3" height="1.65"/>
<rect x="277.75" y="264.16" width="13.3" height="1.65"/>
<rect x="277.75" y="271.15" width="13.3" height="1.65"/>
<rect x="277.75" y="278.13" width="13.3" height="1.65"/>
<rect x="277.75" y="285.12" width="13.3" height="1.65"/>
<rect x="277.75" y="292.11" width="13.3" height="1.65"/>
<rect x="277.75" y="299.1" width="13.3" height="1.65"/>
<rect x="277.75" y="306.09" width="13.3" height="1.65"/>
<rect x="277.75" y="313.07" width="13.3" height="1.65"/>
<rect x="277.75" y="320.06" width="13.3" height="1.65"/>
<rect x="277.75" y="327.05" width="13.3" height="1.65"/>
<rect x="277.75" y="334.04" width="13.3" height="1.65"/>
<rect x="277.75" y="341.03" width="13.3" height="1.65"/>
<rect x="277.75" y="348.01" width="13.3" height="1.65"/>
<rect x="277.75" y="355" width="13.3" height="1.65"/>
<rect x="277.75" y="361.99" width="13.3" height="1.65"/>
<rect x="277.75" y="368.98" width="13.3" height="1.65"/>
<rect x="277.75" y="375.97" width="13.3" height="1.65"/>
<rect x="277.75" y="382.95" width="13.3" height="1.65"/>
<rect x="277.75" y="389.94" width="13.3" height="1.65"/>
<rect x="277.75" y="396.93" width="13.3" height="1.65"/>
<rect x="277.75" y="403.92" width="13.3" height="1.65"/>
<rect x="277.75" y="410.91" width="13.3" height="1.65"/>
<rect x="277.75" y="417.89" width="13.3" height="1.65"/>
<rect x="277.75" y="424.88" width="13.3" height="1.65"/>
<rect x="287.97" y="237.03" width="1.25" height="192.17"/>
<ellipse cx="284.4" cy="429.2" rx="4.85" ry="3.3" transform="rotate(-25 284.4 429.2)"/>
<path d="M270.05 420h1.1v20.0h-1.1zM273.25 418.4h1.1v20.0h-1.1zM268.25 425.4l7.9 -2.8v2.9l-7.9 2.8zM268.25 432.9l7.9 -2.8v2.9l-7.9 2.8z"/>
<rect x="409.65" y="257.17" width="13.3" height="1.65"/>
<rect x="409.65" y="264.16" width="13.3" height="1.65"/>
<rect x="409.65" y="271.15" width="13.3" height="1.65"/>
<rect x="409.65" y="278.13" width="13.3" height="1.65"/>
<rect x="409.65" y="285.12" width="13.3" height="1.65"/>
<rect x="409.65" y="292.11" width="13.3" height="1.65"/>
<rect x="409.65" y="299.1" width="13.3" height="1.65"/>
<rect x="409.65" y="306.09" width="13.3" height="1.65"/>
<rect x="409.65" y="313.07" width="13.3" height="1.65"/>
<rect x="409.65" y="320.06" width="13.3" height="1.65"/>
<rect x="409.65" y="327.05" width="13.3" height="1.65"/>
<rect x="409.65" y="334.04" width="13.3" height="1.65"/>
<rect x="409.65" y="341.03" width="13.3" height="1.65"/>
<rect x="409.65" y="348.01" width="13.3" height="1.65"/>
<rect x="409.65" y="355" width="13.3" height="1.65"/>
<rect x="409.65" y="361.99" width="13.3" height="1.65"/>
<rect x="409.65" y="368.98" width="13.3" height="1.65"/>
<rect x="409.65" y="375.97" width="13.3" height="1.65"/>
<rect x="409.65" y="382.95" width="13.3" height="1.65"/>
<rect x="409.65" y="389.94" width="13.3" height="1.65"/>
<rect x="409.65" y="396.93" width="13.3" height="1.65"/>
<rect x="409.65" y="403.92" width="13.3" height="1.65"/>
<rect x="409.65" y="410.91" width="13.3" height="1.65"/>
<rect x="409.65" y="417.89" width="13.3" height="1.65"/>
<rect x="409.65" y="424.88" width="13.3" height="1.65"/>
<rect x="419.88" y="237.03" width="1.25" height="192.17"/>
<ellipse cx="416.3" cy="429.2" rx="4.85" ry="3.3" transform="rotate(-25 416.3 429.2)"/>
<rect x="544.95" y="257.17" width="13.3" height="1.65"/>
<rect x="544.95" y="264.16" width="13.3" height="1.65"/>
<rect x="544.95" y="271.15" width="13.3" height="1.65"/>
<rect x="544.95" y="278.13" width="13.3" height="1.65"/>
<rect x="544.95" y="285.12" width="13.3" height="1.65"/>
<rect x="544.95" y="292.11" width="13.3" height="1.65"/>
<rect x="544.95" y="299.1" width="13.3" height="1.65"/>
<rect x="544.95" y="306.09" width="13.3" height="1.65"/>
<rect x="544.95" y="313.07" width="13.3" height="1.65"/>
<rect x="544.95" y="320.06" width="13.3" height="1.65"/>
<rect x="544.95" y="327.05" width="13.3" height="1.65"/>
<rect x="544.95" y="334.04" width="13.3" height="1.65"/>
<rect x="544.95" y="341.03" width="13.3" height="1.65"/>
<rect x="544.95" y="348.01" width="13.3" height="1.65"/>
<rect x="544.95" y="355" width="13.3" height="1.65"/>
<rect x="544.95" y="361.99" width="13.3" height="1.65"/>
<rect x="544.95" y="368.98" width="13.3" height="1.65"/>
<rect x="544.95" y="375.97" width="13.3" height="1.65"/>
<rect x="544.95" y="382.95" width="13.3" height="1.65"/>
<rect x="544.95" y="389.94" width="13.3" height="1.65"/>
<rect x="544.95" y="396.93" width="13.3" height="1.65"/>
<rect x="544.95" y="403.92" width="13.3" height="1.65"/>
<rect x="544.95" y="410.91" width="13.3" height="1.65"/>
<rect x="544.95" y="417.89" width="13.3" height="1.65"/>
<rect x="544.95" y="424.88" width="13.3" height="1.65"/>
<rect x="544.95" y="431.87" width="13.3" height="1.65"/>
<rect x="544.95" y="438.86" width="13.3" height="1.65"/>
<rect x="544.95" y="445.85" width="13.3" height="1.65"/>
<rect x="544.95" y="452.83" width="13.3" height="1.65"/>
<rect x="544.95" y="459.82" width="13.3" height="1.65"/>
<rect x="555.18" y="237.03" width="1.25" height="223.62"/>
<ellipse cx="551.6" cy="460.65" rx="4.85" ry="3.3" transform="rotate(-25 551.6 460.65)"/>
<rect x="558.35" y="257.17" width="13.3" height="1.65"/>
<rect x="558.35" y="264.16" width="13.3" height="1.65"/>
<rect x="558.35" y="271.15" width="13.3" height="1.65"/>
<rect x="558.35" y="278.13" width="13.3" height="1.65"/>
<rect x="558.35" y="285.12" width="13.3" height="1.65"/>
<rect x="558.35" y="292.11" width="13.3" height="1.65"/>
<rect x="558.35" y="299.1" width="13.3" height="1.65"/>
<rect x="558.35" y="306.09" width="13.3" height="1.65"/>
<rect x="558.35" y="313.07" width="13.3" height="1.65"/>
<rect x="558.35" y="320.06" width="13.3" height="1.65"/>
<rect x="558.35" y="327.05" width="13.3" height="1.65"/>
<rect x="558.35" y="334.04" width="13.3" height="1.65"/>
<rect x="558.35" y="341.03" width="13.3" height="1.65"/>
<rect x="558.35" y="348.01" width="13.3" height="1.65"/>
<rect x="558.35" y="355" width="13.3" height="1.65"/>
<rect x="558.35" y="361.99" width="13.3" height="1.65"/>
<rect x="558.35" y="368.98" width="13.3" height="1.65"/>
<rect x="558.35" y="375.97" width="13.3" height="1.65"/>
<rect x="558.35" y="382.95" width="13.3" height="1.65"/>
<rect x="558.35" y="389.94" width="13.3" height="1.65"/>
<rect x="558.35" y="396.93" width="13.3" height="1.65"/>
<rect x="558.35" y="403.92" width="13.3" height="1.65"/>
<rect x="558.35" y="410.91" width="13.3" height="1.65"/>
<rect x="558.35" y="417.89" width="13.3" height="1.65"/>
<rect x="558.35" y="424.88" width="13.3" height="1.65"/>
<rect x="568.58" y="237.03" width="1.25" height="192.17"/>
<ellipse cx="565" cy="429.2" rx="4.85" ry="3.3" transform="rotate(-25 565 429.2)"/>
<rect x="733.85" y="257.17" width="13.3" height="1.65"/>
<rect x="733.85" y="264.16" width="13.3" height="1.65"/>
<rect x="733.85" y="271.15" width="13.3" height="1.65"/>
<rect x="733.85" y="278.13" width="13.3" height="1.65"/>
<rect x="733.85" y="285.12" width="13.3" height="1.65"/>
<rect x="733.85" y="292.11" width="13.3" height="1.65"/>
<rect x="733.85" y="299.1" width="13.3" height="1.65"/>
<rect x="733.85" y="306.09" width="13.3" height="1.65"/>
<rect x="733.85" y="313.07" width="13.3" height="1.65"/>
<rect x="733.85" y="320.06" width="13.3" height="1.65"/>
<rect x="733.85" y="327.05" width="13.3" height="1.65"/>
<rect x="733.85" y="334.04" width="13.3" height="1.65"/>
<rect x="733.85" y="341.03" width="13.3" height="1.65"/>
<rect x="733.85" y="348.01" width="13.3" height="1.65"/>
<rect x="733.85" y="355" width="13.3" height="1.65"/>
<rect x="733.85" y="361.99" width="13.3" height="1.65"/>
<rect x="733.85" y="368.98" width="13.3" height="1.65"/>
<rect x="733.85" y="375.97" width="13.3" height="1.65"/>
<rect x="733.85" y="382.95" width="13.3" height="1.65"/>
<rect x="733.85" y="389.94" width="13.3" height="1.65"/>
<rect x="733.85" y="396.93" width="13.3" height="1.65"/>
<rect x="733.85" y="403.92" width="13.3" height="1.65"/>
<rect x="733.85" y="410.91" width="13.3" height="1.65"/>
<rect x="733.85" y="417.89" width="13.3" height="1.65"/>
<rect x="733.85" y="424.88" width="13.3" height="1.65"/>
<rect x="733.85" y="431.87" width="13.3" height="1.65"/>
<rect x="744.08" y="237.03" width="1.25" height="195.66"/>
<ellipse cx="740.5" cy="432.69" rx="4.85" ry="3.3" transform="rotate(-25 740.5 432.69)"/>
<path transform="translate(488.01 95.28) scale(0.02788 -0.02655)" d="M147 878 307 683Q257 624 230.0 581.0Q203 538 203 494Q203 457 227.0 416.5Q251 376 303 314L287 292Q243 320 205 320Q177 320 163.0 301.5Q149 283 149 257Q149 225 162.5 196.5Q176 168 199 142L186 123Q117 173 84.0 214.0Q51 255 51 303Q51 346 78.0 366.0Q105 386 143 386Q173 386 221 363V365L67 570Q168 659 168 736Q168 797 104 878Z"/>
<path transform="translate(398.01 305.28) scale(0.02788 -0.02655)" d="M147 878 307 683Q257 624 230.0 581.0Q203 538 203 494Q203 457 227.0 416.5Q251 376 303 314L287 292Q243 320 205 320Q177 320 163.0 301.5Q149 283 149 257Q149 225 162.5 196.5Q176 168 199 142L186 123Q117 173 84.0 214.0Q51 255 51 303Q51 346 78.0 366.0Q105 386 143 386Q173 386 221 363V365L67 570Q168 659 168 736Q168 797 104 878Z"/>
<path transform="translate(407.41 305.28) scale(0.02788 -0.02655)" d="M147 878 307 683Q257 624 230.0 581.0Q203 538 203 494Q203 457 227.0 416.5Q251 376 303 314L287 292Q243 320 205 320Q177 320 163.0 301.5Q149 283 149 257Q149 225 162.5 196.5Q176 168 199 142L186 123Q117 173 84.0 214.0Q51 255 51 303Q51 346 78.0 366.0Q105 386 143 386Q173 386 221 363V365L67 570Q168 659 168 736Q168 797 104 878Z"/>
<path transform="translate(686.01 305.28) scale(0.02788 -0.02655)" d="M147 878 307 683Q257 624 230.0 581.0Q203 538 203 494Q203 457 227.0 416.5Q251 376 303 314L287 292Q243 320 205 320Q177 320 163.0 301.5Q149 283 149 257Q149 225 162.5 196.5Q176 168 199 142L186 123Q117 173 84.0 214.0Q51 255 51 303Q51 346 78.0 366.0Q105 386 143 386Q173 386 221 363V365L67 570Q168 659 168 736Q168 797 104 878Z"/>
<path transform="translate(773.01 305.28) scale(0.02788 -0.02655)" d="M147 878 307 683Q257 624 230.0 581.0Q203 538 203 494Q203 457 227.0 416.5Q251 376 303 314L287 292Q243 320 205 320Q177 320 163.0 301.5Q149 283 149 257Q149 225 162.5 196.5Q176 168 199 142L186 123Q117 173 84.0 214.0Q51 255 51 303Q51 346 78.0 366.0Q105 386 143 386Q173 386 221 363V365L67 570Q168 659 168 736Q168 797 104 878Z"/>
<path transform="translate(798.01 305.28) scale(0.02788 -0.02655)" d="M147 878 307 683Q257 624 230.0 581.0Q203 538 203 494Q203 457 227.0 416.5Q251 376 303 314L287 292Q243 320 205 320Q177 320 163.0 301.5Q149 283 149 257Q149 225 162.5 196.5Q176 168 199 142L186 123Q117 173 84.0 214.0Q51 255 51 303Q51 346 78.0 366.0Q105 386 143 386Q173 386 221 363V365L67 570Q168 659 168 736Q168 797 104 878Z"/>
<path transform="translate(810.41 305.28) scale(0.02788 -0.02655)" d="M147 878 307 683Q257 624 230.0 581.0Q203 538 203 494Q203 457 227.0 416.5Q251 376 303 314L287 292Q243 320 205 320Q177 320 163.0 301.5Q149 283 149 257Q149 225 162.5 196.5Q176 168 199 142L186 123Q117 173 84.0 214.0Q51 255 51 303Q51 346 78.0 366.0Q105 386 143 386Q173 386 221 363V365L67 570Q168 659 168 736Q168 797 104 878Z"/>
<path transform="translate(783.61 312.28) scale(0.02788 -0.02655)" d="M147 878 307 683Q257 624 230.0 581.0Q203 538 203 494Q203 457 227.0 416.5Q251 376 303 314L287 292Q243 320 205 320Q177 320 163.0 301.5Q149 283 149 257Q149 225 162.5 196.5Q176 168 199 142L186 123Q117 173 84.0 214.0Q51 255 51 303Q51 346 78.0 366.0Q105 386 143 386Q173 386 221 363V365L67 570Q168 659 168 736Q168 797 104 878Z"/>
<path transform="translate(831.51 305.28) scale(0.02788 -0.02655)" d="M147 878 307 683Q257 624 230.0 581.0Q203 538 203 494Q203 457 227.0 416.5Q251 376 303 314L287 292Q243 320 205 320Q177 320 163.0 301.5Q149 283 149 257Q149 225 162.5 196.5Q176 168 199 142L186 123Q117 173 84.0 214.0Q51 255 51 303Q51 346 78.0 366.0Q105 386 143 386Q173 386 221 363V365L67 570Q168 659 168 736Q168 797 104 878Z"/>
<path transform="translate(669.81 350.78) scale(0.02788 -0.02655)" d="M147 878 307 683Q257 624 230.0 581.0Q203 538 203 494Q203 457 227.0 416.5Q251 376 303 314L287 292Q243 320 205 320Q177 320 163.0 301.5Q149 283 149 257Q149 225 162.5 196.5Q176 168 199 142L186 123Q117 173 84.0 214.0Q51 255 51 303Q51 346 78.0 366.0Q105 386 143 386Q173 386 221 363V365L67 570Q168 659 168 736Q168 797 104 878Z"/>
<path transform="translate(206.01 497.28) scale(0.02788 -0.02655)" d="M147 878 307 683Q257 624 230.0 581.0Q203 538 203 494Q203 457 227.0 416.5Q251 376 303 314L287 292Q243 320 205 320Q177 320 163.0 301.5Q149 283 149 257Q149 225 162.5 196.5Q176 168 199 142L186 123Q117 173 84.0 214.0Q51 255 51 303Q51 346 78.0 366.0Q105 386 143 386Q173 386 221 363V365L67 570Q168 659 168 736Q168 797 104 878Z"/>
<path transform="translate(321.31 462.08) scale(0.02788 -0.02655)" d="M147 878 307 683Q257 624 230.0 581.0Q203 538 203 494Q203 457 227.0 416.5Q251 376 303 314L287 292Q243 320 205 320Q177 320 163.0 301.5Q149 283 149 257Q149 225 162.5 196.5Q176 168 199 142L186 123Q117 173 84.0 214.0Q51 255 51 303Q51 346 78.0 366.0Q105 386 143 386Q173 386 221 363V365L67 570Q168 659 168 736Q168 797 104 878Z"/>
<path transform="translate(337.11 462.08) scale(0.02788 -0.02655)" d="M147 878 307 683Q257 624 230.0 581.0Q203 538 203 494Q203 457 227.0 416.5Q251 376 303 314L287 292Q243 320 205 320Q177 320 163.0 301.5Q149 283 149 257Q149 225 162.5 196.5Q176 168 199 142L186 123Q117 173 84.0 214.0Q51 255 51 303Q51 346 78.0 366.0Q105 386 143 386Q173 386 221 363V365L67 570Q168 659 168 736Q168 797 104 878Z"/>
<path transform="translate(360.61 462.08) scale(0.02788 -0.02655)" d="M147 878 307 683Q257 624 230.0 581.0Q203 538 203 494Q203 457 227.0 416.5Q251 376 303 314L287 292Q243 320 205 320Q177 320 163.0 301.5Q149 283 149 257Q149 225 162.5 196.5Q176 168 199 142L186 123Q117 173 84.0 214.0Q51 255 51 303Q51 346 78.0 366.0Q105 386 143 386Q173 386 221 363V365L67 570Q168 659 168 736Q168 797 104 878Z"/>
<path transform="translate(370.71 462.08) scale(0.02788 -0.02655)" d="M147 878 307 683Q257 624 230.0 581.0Q203 538 203 494Q203 457 227.0 416.5Q251 376 303 314L287 292Q243 320 205 320Q177 320 163.0 301.5Q149 283 149 257Q149 225 162.5 196.5Q176 168 199 142L186 123Q117 173 84.0 214.0Q51 255 51 303Q51 346 78.0 366.0Q105 386 143 386Q173 386 221 363V365L67 570Q168 659 168 736Q168 797 104 878Z"/>
<path transform="translate(442.71 462.08) scale(0.02788 -0.02655)" d="M147 878 307 683Q257 624 230.0 581.0Q203 538 203 494Q203 457 227.0 416.5Q251 376 303 314L287 292Q243 320 205 320Q177 320 163.0 301.5Q149 283 149 257Q149 225 162.5 196.5Q176 168 199 142L186 123Q117 173 84.0 214.0Q51 255 51 303Q51 346 78.0 366.0Q105 386 143 386Q173 386 221 363V365L67 570Q168 659 168 736Q168 797 104 878Z"/>
<path transform="translate(506.31 462.08) scale(0.02788 -0.02655)" d="M147 878 307 683Q257 624 230.0 581.0Q203 538 203 494Q203 457 227.0 416.5Q251 376 303 314L287 292Q243 320 205 320Q177 320 163.0 301.5Q149 283 149 257Q149 225 162.5 196.5Q176 168 199 142L186 123Q117 173 84.0 214.0Q51 255 51 303Q51 346 78.0 366.0Q105 386 143 386Q173 386 221 363V365L67 570Q168 659 168 736Q168 797 104 878Z"/>
<path transform="translate(513.81 462.08) scale(0.02788 -0.02655)" d="M147 878 307 683Q257 624 230.0 581.0Q203 538 203 494Q203 457 227.0 416.5Q251 376 303 314L287 292Q243 320 205 320Q177 320 163.0 301.5Q149 283 149 257Q149 225 162.5 196.5Q176 168 199 142L186 123Q117 173 84.0 214.0Q51 255 51 303Q51 346 78.0 366.0Q105 386 143 386Q173 386 221 363V365L67 570Q168 659 168 736Q168 797 104 878Z"/>
<path transform="translate(522.61 462.08) scale(0.02788 -0.02655)" d="M147 878 307 683Q257 624 230.0 581.0Q203 538 203 494Q203 457 227.0 416.5Q251 376 303 314L287 292Q243 320 205 320Q177 320 163.0 301.5Q149 283 149 257Q149 225 162.5 196.5Q176 168 199 142L186 123Q117 173 84.0 214.0Q51 255 51 303Q51 346 78.0 366.0Q105 386 143 386Q173 386 221 363V365L67 570Q168 659 168 736Q168 797 104 878Z"/>
<path transform="translate(581.41 462.08) scale(0.02788 -0.02655)" d="M147 878 307 683Q257 624 230.0 581.0Q203 538 203 494Q203 457 227.0 416.5Q251 376 303 314L287 292Q243 320 205 320Q177 320 163.0 301.5Q149 283 149 257Q149 225 162.5 196.5Q176 168 199 142L186 123Q117 173 84.0 214.0Q51 255 51 303Q51 346 78.0 366.0Q105 386 143 386Q173 386 221 363V365L67 570Q168 659 168 736Q168 797 104 878Z"/>
<path transform="translate(618.21 462.08) scale(0.02788 -0.02655)" d="M147 878 307 683Q257 624 230.0 581.0Q203 538 203 494Q203 457 227.0 416.5Q251 376 303 314L287 292Q243 320 205 320Q177 320 163.0 301.5Q149 283 149 257Q149 225 162.5 196.5Q176 168 199 142L186 123Q117 173 84.0 214.0Q51 255 51 303Q51 346 78.0 366.0Q105 386 143 386Q173 386 221 363V365L67 570Q168 659 168 736Q168 797 104 878Z"/>
<path transform="translate(634.51 462.08) scale(0.02788 -0.02655)" d="M147 878 307 683Q257 624 230.0 581.0Q203 538 203 494Q203 457 227.0 416.5Q251 376 303 314L287 292Q243 320 205 320Q177 320 163.0 301.5Q149 283 149 257Q149 225 162.5 196.5Q176 168 199 142L186 123Q117 173 84.0 214.0Q51 255 51 303Q51 346 78.0 366.0Q105 386 143 386Q173 386 221 363V365L67 570Q168 659 168 736Q168 797 104 878Z"/>
<path transform="translate(744.91 466.28) scale(0.02788 -0.02655)" d="M147 878 307 683Q257 624 230.0 581.0Q203 538 203 494Q203 457 227.0 416.5Q251 376 303 314L287 292Q243 320 205 320Q177 320 163.0 301.5Q149 283 149 257Q149 225 162.5 196.5Q176 168 199 142L186 123Q117 173 84.0 214.0Q51 255 51 303Q51 346 78.0 366.0Q105 386 143 386Q173 386 221 363V365L67 570Q168 659 168 736Q168 797 104 878Z"/>
<path transform="translate(762.41 466.28) scale(0.02788 -0.02655)" d="M147 878 307 683Q257 624 230.0 581.0Q203 538 203 494Q203 457 227.0 416.5Q251 376 303 314L287 292Q243 320 205 320Q177 320 163.0 301.5Q149 283 149 257Q149 225 162.5 196.5Q176 168 199 142L186 123Q117 173 84.0 214.0Q51 255 51 303Q51 346 78.0 366.0Q105 386 143 386Q173 386 221 363V365L67 570Q168 659 168 736Q168 797 104 878Z"/>
<rect x="482.5" y="442.3" width="20.8" height="1.4"/>
<rect x="487.5" y="438.8" width="10.2" height="4.4"/>
<circle cx="502.2" cy="439.6" r="1.1"/>
<circle cx="151.9" cy="502.6" r="1.25"/>
<circle cx="158.1" cy="502.6" r="1.25"/>
<circle cx="164.4" cy="502.6" r="1.25"/>
<rect x="75.8" y="498.2" width="19.2" height="1.4"/>
<rect x="80.2" y="498.7" width="10.3" height="4.4"/>
<path transform="translate(78.7 530.37) scale(0.02572 -0.02795)" d="M155 -130 251 210Q230 191 203.5 183.0Q177 175 151 175Q108 175 79.0 198.0Q50 221 50 264Q50 291 70.0 311.0Q90 331 121 331Q150 331 168.5 312.5Q187 294 187 263Q187 241 177 224Q177 218 189 218Q230 218 267 264L319 454Q298 435 271.5 427.0Q245 419 219 419Q176 419 147.0 442.0Q118 465 118 508Q118 537 138.0 556.0Q158 575 189 575Q219 575 237.0 556.0Q255 537 255 507Q255 497 252.0 486.5Q249 476 245 468Q245 462 257 462Q298 462 334 507L390 708Q369 689 342.5 681.0Q316 673 290 673Q247 673 218.0 696.0Q189 719 189 762Q189 791 209.0 810.0Q229 829 260 829Q290 829 308.0 810.0Q326 791 326 761Q326 751 323.0 740.5Q320 730 316 722Q316 716 328 716Q368 716 405 761L460 960Q439 941 412.5 933.0Q386 925 360 925Q317 925 288.0 948.0Q259 971 259 1014Q259 1041 279.0 1061.0Q299 1081 330 1081Q359 1081 377.5 1062.5Q396 1044 396 1013Q396 991 386 974Q386 968 398 968Q453 968 503 1054H521L191 -130Z"/>
<path transform="translate(288.7 470.97) scale(0.02572 -0.02795)" d="M155 -130 251 210Q230 191 203.5 183.0Q177 175 151 175Q108 175 79.0 198.0Q50 221 50 264Q50 291 70.0 311.0Q90 331 121 331Q150 331 168.5 312.5Q187 294 187 263Q187 241 177 224Q177 218 189 218Q230 218 267 264L319 454Q298 435 271.5 427.0Q245 419 219 419Q176 419 147.0 442.0Q118 465 118 508Q118 537 138.0 556.0Q158 575 189 575Q219 575 237.0 556.0Q255 537 255 507Q255 497 252.0 486.5Q249 476 245 468Q245 462 257 462Q298 462 334 507L390 708Q369 689 342.5 681.0Q316 673 290 673Q247 673 218.0 696.0Q189 719 189 762Q189 791 209.0 810.0Q229 829 260 829Q290 829 308.0 810.0Q326 791 326 761Q326 751 323.0 740.5Q320 730 316 722Q316 716 328 716Q368 716 405 761L460 960Q439 941 412.5 933.0Q386 925 360 925Q317 925 288.0 948.0Q259 971 259 1014Q259 1041 279.0 1061.0Q299 1081 330 1081Q359 1081 377.5 1062.5Q396 1044 396 1013Q396 991 386 974Q386 968 398 968Q453 968 503 1054H521L191 -130Z"/>
<path d="M64.4 104.4C75.25 98.27 96.15 98.27 107 104.4C96.15 100.2 75.25 100.2 64.4 104.4Z" stroke="#000" stroke-width="0.45"/>
<path d="M117.6 104C135.97 97.68 189.63 97.92 208 104.4C189.63 99.85 135.97 99.61 117.6 104Z" stroke="#000" stroke-width="0.45"/>
<path d="M117.6 104C164.11 96.88 417.49 97.32 464 104.6C417.49 99.25 164.11 98.81 117.6 104Z" stroke="#000" stroke-width="0.45"/>
<path d="M218 104C228.92 97.87 250.08 97.87 261 104C250.08 99.8 228.92 99.8 218 104Z" stroke="#000" stroke-width="0.45"/>
<path d="M475.6 104C484.98 97.6 501.62 97.6 511 104C501.62 99.53 484.98 99.53 475.6 104Z" stroke="#000" stroke-width="0.45"/>
<path d="M64.4 134.4C77.62 129.04 106.78 129.56 120 135.4C106.78 131.5 77.62 130.97 64.4 134.4Z" stroke="#000" stroke-width="0.45"/>
<path d="M64.4 149.4C69.58 143.77 76.82 143.36 82 148.4C76.82 145.29 69.58 145.71 64.4 149.4Z" stroke="#000" stroke-width="0.45"/>
<path d="M86 145.4C109.94 138.91 200.46 139.56 224.4 146.4C200.46 141.49 109.94 140.84 86 145.4Z" stroke="#000" stroke-width="0.45"/>
<path d="M126 145.4C196.42 138.28 595.18 138.72 665.6 146C595.18 140.66 196.42 140.21 126 145.4Z" stroke="#000" stroke-width="0.45"/>
<path d="M64.4 173.4C80.47 167.88 121.93 168.78 138 175C121.93 170.72 80.47 169.82 64.4 173.4Z" stroke="#000" stroke-width="0.45"/>
<path d="M148 174C192.47 166.75 432.53 166.45 477 173.6C432.53 168.39 192.47 168.68 148 174Z" stroke="#000" stroke-width="0.45"/>
<path d="M678 145.2C702.22 138.67 794.78 139.2 819 146C794.78 141.13 702.22 140.6 678 145.2Z" stroke="#000" stroke-width="0.45"/>
<path d="M64.3 205.2C72.2 199.92 85.1 200.01 93 205.4C85.1 201.94 72.2 201.86 64.3 205.2Z" stroke="#000" stroke-width="0.45"/>
<path d="M64.3 212.4C70.03 207.98 78.27 208.15 84 212.8C78.27 210.08 70.03 209.92 64.3 212.4Z" stroke="#000" stroke-width="0.45"/>
<path d="M100 207C119.34 202.12 178.66 205.15 198 212C178.66 207.08 119.34 204.05 100 207Z" stroke="#000" stroke-width="0.45"/>
<path d="M222 198.6C295.79 192.91 714.21 195.42 788 202C714.21 197.36 295.79 194.84 222 198.6Z" stroke="#000" stroke-width="0.45"/>
<path d="M64 285.6C79.07 292.8 115.93 292.8 131 285.6C115.93 290.87 79.07 290.87 64 285.6Z" stroke="#000" stroke-width="0.45"/>
<path d="M686 278.6C707.7 284.51 782.3 283.75 804 277.4C782.3 281.82 707.7 282.58 686 278.6Z" stroke="#000" stroke-width="0.45"/>
<rect x="39.9" y="880.48" width="795.1" height="1.05"/>
<rect x="39.9" y="873.49" width="795.1" height="1.05"/>
<rect x="39.9" y="866.5" width="795.1" height="1.05"/>
<rect x="39.9" y="859.52" width="795.1" height="1.05"/>
<rect x="39.9" y="852.53" width="795.1" height="1.05"/>
<path transform="translate(43.62 880.11) scale(0.02943 -0.02943)" d="M314 801Q300 854 291.0 906.0Q282 958 282 1012Q282 1059 288.5 1100.5Q295 1142 307 1177Q320 1217 341.0 1252.5Q362 1288 385.5 1311.0Q409 1334 427 1334Q451 1334 493 1249Q514 1206 524.0 1156.0Q534 1106 534 1049Q534 978 515.0 907.5Q496 837 459.5 775.0Q423 713 372 666L407 498Q422 500 432.0 501.0Q442 502 447 502Q508 502 556.0 467.5Q604 433 632.5 377.0Q661 321 661 254Q661 177 621.5 115.5Q582 54 503 25Q508 8 532 -117Q538 -147 541.0 -164.5Q544 -182 545.0 -195.0Q546 -208 546 -225Q546 -275 521.5 -314.5Q497 -354 455.5 -376.0Q414 -398 363 -398Q311 -398 271.0 -378.5Q231 -359 208.0 -324.5Q185 -290 185 -245Q185 -197 211.5 -165.0Q238 -133 287 -133Q329 -133 355.5 -163.5Q382 -194 382 -236Q382 -272 357.0 -299.0Q332 -326 292 -326H282Q308 -365 364 -365Q433 -365 472.0 -320.0Q511 -275 511 -205Q511 -188 507.0 -159.5Q503 -131 493 -91Q483 -51 477.5 -25.0Q472 1 470 12Q436 2 390 2Q304 2 222 52Q142 102 96.0 184.0Q50 266 50 361Q50 451 91 530Q132 609 192.5 675.0Q253 741 314 801ZM341 826Q364 838 390.0 870.5Q416 903 440.0 945.0Q464 987 479.0 1029.5Q494 1072 494 1106Q494 1142 483.0 1163.0Q472 1184 445 1184Q421 1184 398.5 1162.0Q376 1140 358.5 1103.5Q341 1067 331.0 1022.0Q321 977 321 930Q321 898 327.5 872.0Q334 846 341 826ZM398 379Q371 373 347.0 353.5Q323 334 308.5 306.5Q294 279 294 248Q294 223 307.0 196.5Q320 170 339 154Q352 142 365 136Q380 129 380 123Q380 120 370 117Q332 126 301.5 151.0Q271 176 253.5 211.5Q236 247 236 287Q236 330 253.5 370.0Q271 410 302.5 442.0Q334 474 374 490L345 641Q229 547 174.5 456.5Q120 366 120 277Q120 212 154.0 156.0Q188 100 247.0 65.5Q306 31 380 31Q400 31 420.5 35.0Q441 39 464 45ZM495 55Q593 97 593 227Q593 270 571.0 305.5Q549 341 512.0 362.0Q475 383 429 383Z"/>
<text x="26" y="846" font-size="13.2" textLength="13.6" lengthAdjust="spacingAndGlyphs">63</text>
<rect x="76" y="670.1" width="19" height="1.4"/>
<rect x="80.2" y="670.6" width="10.3" height="4.4"/>
<rect x="75.8" y="1116.9" width="19.2" height="1.4"/>
<rect x="80.2" y="1113.3" width="10.3" height="4.4"/>
<rect x="123.75" y="845.24" width="13.3" height="1.65"/>
<rect x="123.75" y="838.25" width="13.3" height="1.65"/>
<rect x="123.75" y="831.26" width="13.3" height="1.65"/>
<rect x="123.75" y="824.28" width="13.3" height="1.65"/>
<rect x="123.75" y="817.29" width="13.3" height="1.65"/>
<rect x="123.75" y="810.3" width="13.3" height="1.65"/>
<rect x="123.75" y="803.31" width="13.3" height="1.65"/>
<rect x="123.75" y="796.32" width="13.3" height="1.65"/>
<rect x="123.75" y="789.34" width="13.3" height="1.65"/>
<rect x="123.75" y="782.35" width="13.3" height="1.65"/>
<rect x="123.75" y="775.36" width="13.3" height="1.65"/>
<rect x="123.75" y="768.37" width="13.3" height="1.65"/>
<rect x="123.75" y="761.38" width="13.3" height="1.65"/>
<rect x="123.75" y="754.4" width="13.3" height="1.65"/>
<rect x="123.75" y="747.41" width="13.3" height="1.65"/>
<rect x="123.75" y="740.42" width="13.3" height="1.65"/>
<rect x="123.75" y="733.43" width="13.3" height="1.65"/>
<rect x="123.75" y="726.44" width="13.3" height="1.65"/>
<rect x="123.75" y="719.46" width="13.3" height="1.65"/>
<rect x="123.75" y="712.47" width="13.3" height="1.65"/>
<rect x="123.75" y="705.48" width="13.3" height="1.65"/>
<rect x="123.75" y="698.49" width="13.3" height="1.65"/>
<rect x="123.75" y="691.5" width="13.3" height="1.65"/>
<rect x="123.75" y="684.52" width="13.3" height="1.65"/>
<rect x="125.58" y="685.34" width="1.25" height="63.06"/>
<ellipse cx="130.4" cy="685.34" rx="4.85" ry="3.3" transform="rotate(-25 130.4 685.34)"/>
<circle cx="139.4" cy="681.85" r="1.35"/>
<rect x="172.35" y="845.24" width="13.3" height="1.65"/>
<rect x="172.35" y="838.25" width="13.3" height="1.65"/>
<rect x="172.35" y="831.26" width="13.3" height="1.65"/>
<rect x="172.35" y="824.28" width="13.3" height="1.65"/>
<rect x="172.35" y="817.29" width="13.3" height="1.65"/>
<rect x="172.35" y="810.3" width="13.3" height="1.65"/>
<rect x="172.35" y="803.31" width="13.3" height="1.65"/>
<rect x="172.35" y="796.32" width="13.3" height="1.65"/>
<rect x="172.35" y="789.34" width="13.3" height="1.65"/>
<rect x="172.35" y="782.35" width="13.3" height="1.65"/>
<rect x="172.35" y="775.36" width="13.3" height="1.65"/>
<rect x="172.35" y="768.37" width="13.3" height="1.65"/>
<rect x="172.35" y="761.38" width="13.3" height="1.65"/>
<rect x="172.35" y="754.4" width="13.3" height="1.65"/>
<rect x="172.35" y="747.41" width="13.3" height="1.65"/>
<rect x="172.35" y="740.42" width="13.3" height="1.65"/>
<rect x="172.35" y="733.43" width="13.3" height="1.65"/>
<rect x="172.35" y="726.44" width="13.3" height="1.65"/>
<rect x="172.35" y="719.46" width="13.3" height="1.65"/>
<rect x="172.35" y="712.47" width="13.3" height="1.65"/>
<rect x="174.18" y="713.29" width="1.25" height="153.74"/>
<ellipse cx="179" cy="713.29" rx="4.85" ry="3.3" transform="rotate(-25 179 713.29)"/>
<rect x="87.15" y="845.24" width="13.3" height="1.65"/>
<rect x="87.15" y="838.25" width="13.3" height="1.65"/>
<rect x="87.15" y="831.26" width="13.3" height="1.65"/>
<rect x="87.15" y="824.28" width="13.3" height="1.65"/>
<rect x="87.15" y="817.29" width="13.3" height="1.65"/>
<rect x="87.15" y="810.3" width="13.3" height="1.65"/>
<rect x="87.15" y="803.31" width="13.3" height="1.65"/>
<rect x="87.15" y="796.32" width="13.3" height="1.65"/>
<rect x="87.15" y="789.34" width="13.3" height="1.65"/>
<rect x="87.15" y="782.35" width="13.3" height="1.65"/>
<rect x="87.15" y="775.36" width="13.3" height="1.65"/>
<rect x="87.15" y="768.37" width="13.3" height="1.65"/>
<rect x="87.15" y="761.38" width="13.3" height="1.65"/>
<rect x="87.15" y="754.4" width="13.3" height="1.65"/>
<rect x="88.97" y="751.73" width="1.25" height="115.3"/>
<ellipse cx="93.8" cy="751.73" rx="4.85" ry="3.3" transform="rotate(-25 93.8 751.73)"/>
<rect x="114.55" y="845.24" width="13.3" height="1.65"/>
<rect x="114.55" y="838.25" width="13.3" height="1.65"/>
<rect x="114.55" y="831.26" width="13.3" height="1.65"/>
<rect x="114.55" y="824.28" width="13.3" height="1.65"/>
<rect x="114.55" y="817.29" width="13.3" height="1.65"/>
<rect x="114.55" y="810.3" width="13.3" height="1.65"/>
<rect x="114.55" y="803.31" width="13.3" height="1.65"/>
<rect x="114.55" y="796.32" width="13.3" height="1.65"/>
<rect x="114.55" y="789.34" width="13.3" height="1.65"/>
<rect x="114.55" y="782.35" width="13.3" height="1.65"/>
<rect x="114.55" y="775.36" width="13.3" height="1.65"/>
<rect x="114.55" y="768.37" width="13.3" height="1.65"/>
<rect x="114.55" y="761.38" width="13.3" height="1.65"/>
<rect x="116.38" y="762.21" width="1.25" height="104.82"/>
<ellipse cx="121.2" cy="762.21" rx="4.85" ry="3.3" transform="rotate(-25 121.2 762.21)"/>
<rect x="127.95" y="845.24" width="13.3" height="1.65"/>
<rect x="127.95" y="838.25" width="13.3" height="1.65"/>
<rect x="127.95" y="831.26" width="13.3" height="1.65"/>
<rect x="127.95" y="824.28" width="13.3" height="1.65"/>
<rect x="127.95" y="817.29" width="13.3" height="1.65"/>
<rect x="127.95" y="810.3" width="13.3" height="1.65"/>
<rect x="127.95" y="803.31" width="13.3" height="1.65"/>
<rect x="127.95" y="796.32" width="13.3" height="1.65"/>
<rect x="127.95" y="789.34" width="13.3" height="1.65"/>
<rect x="127.95" y="782.35" width="13.3" height="1.65"/>
<rect x="127.95" y="775.36" width="13.3" height="1.65"/>
<rect x="127.95" y="768.37" width="13.3" height="1.65"/>
<rect x="127.95" y="761.38" width="13.3" height="1.65"/>
<rect x="127.95" y="754.4" width="13.3" height="1.65"/>
<rect x="129.78" y="755.22" width="1.25" height="49.08"/>
<ellipse cx="134.6" cy="755.22" rx="4.85" ry="3.3" transform="rotate(-25 134.6 755.22)"/>
<rect x="222.55" y="845.24" width="13.3" height="1.65"/>
<rect x="222.55" y="838.25" width="13.3" height="1.65"/>
<rect x="222.55" y="831.26" width="13.3" height="1.65"/>
<rect x="222.55" y="824.28" width="13.3" height="1.65"/>
<rect x="222.55" y="817.29" width="13.3" height="1.65"/>
<rect x="222.55" y="810.3" width="13.3" height="1.65"/>
<rect x="222.55" y="803.31" width="13.3" height="1.65"/>
<rect x="222.55" y="796.32" width="13.3" height="1.65"/>
<rect x="222.55" y="789.34" width="13.3" height="1.65"/>
<rect x="222.55" y="782.35" width="13.3" height="1.65"/>
<rect x="222.55" y="775.36" width="13.3" height="1.65"/>
<rect x="222.55" y="768.37" width="13.3" height="1.65"/>
<rect x="222.55" y="761.38" width="13.3" height="1.65"/>
<rect x="222.55" y="754.4" width="13.3" height="1.65"/>
<rect x="224.38" y="755.22" width="1.25" height="49.08"/>
<ellipse cx="229.2" cy="755.22" rx="4.85" ry="3.3" transform="rotate(-25 229.2 755.22)"/>
<circle cx="237.6" cy="751.73" r="1.35"/>
<rect x="250.35" y="845.24" width="13.3" height="1.65"/>
<rect x="250.35" y="838.25" width="13.3" height="1.65"/>
<rect x="250.35" y="831.26" width="13.3" height="1.65"/>
<rect x="250.35" y="824.28" width="13.3" height="1.65"/>
<rect x="250.35" y="817.29" width="13.3" height="1.65"/>
<rect x="250.35" y="810.3" width="13.3" height="1.65"/>
<rect x="250.35" y="803.31" width="13.3" height="1.65"/>
<rect x="250.35" y="796.32" width="13.3" height="1.65"/>
<rect x="250.35" y="789.34" width="13.3" height="1.65"/>
<rect x="250.35" y="782.35" width="13.3" height="1.65"/>
<rect x="250.35" y="775.36" width="13.3" height="1.65"/>
<rect x="250.35" y="768.37" width="13.3" height="1.65"/>
<rect x="250.35" y="761.38" width="13.3" height="1.65"/>
<rect x="250.35" y="754.4" width="13.3" height="1.65"/>
<rect x="252.18" y="755.22" width="1.25" height="49.08"/>
<ellipse cx="257" cy="755.22" rx="4.85" ry="3.3" transform="rotate(-25 257 755.22)"/>
<rect x="263.95" y="845.24" width="13.3" height="1.65"/>
<rect x="263.95" y="838.25" width="13.3" height="1.65"/>
<rect x="263.95" y="831.26" width="13.3" height="1.65"/>
<rect x="263.95" y="824.28" width="13.3" height="1.65"/>
<rect x="263.95" y="817.29" width="13.3" height="1.65"/>
<rect x="263.95" y="810.3" width="13.3" height="1.65"/>
<rect x="263.95" y="803.31" width="13.3" height="1.65"/>
<rect x="263.95" y="796.32" width="13.3" height="1.65"/>
<rect x="263.95" y="789.34" width="13.3" height="1.65"/>
<rect x="263.95" y="782.35" width="13.3" height="1.65"/>
<rect x="263.95" y="775.36" width="13.3" height="1.65"/>
<rect x="263.95" y="768.37" width="13.3" height="1.65"/>
<rect x="263.95" y="761.38" width="13.3" height="1.65"/>
<rect x="265.78" y="758.72" width="1.25" height="108.31"/>
<ellipse cx="270.6" cy="758.72" rx="4.85" ry="3.3" transform="rotate(-25 270.6 758.72)"/>
<rect x="277.55" y="845.24" width="13.3" height="1.65"/>
<rect x="277.55" y="838.25" width="13.3" height="1.65"/>
<rect x="277.55" y="831.26" width="13.3" height="1.65"/>
<rect x="277.55" y="824.28" width="13.3" height="1.65"/>
<rect x="277.55" y="817.29" width="13.3" height="1.65"/>
<rect x="277.55" y="810.3" width="13.3" height="1.65"/>
<rect x="277.55" y="803.31" width="13.3" height="1.65"/>
<rect x="277.55" y="796.32" width="13.3" height="1.65"/>
<rect x="277.55" y="789.34" width="13.3" height="1.65"/>
<rect x="277.55" y="782.35" width="13.3" height="1.65"/>
<rect x="277.55" y="775.36" width="13.3" height="1.65"/>
<rect x="277.55" y="768.37" width="13.3" height="1.65"/>
<rect x="277.55" y="761.38" width="13.3" height="1.65"/>
<rect x="277.55" y="754.4" width="13.3" height="1.65"/>
<rect x="277.55" y="747.41" width="13.3" height="1.65"/>
<rect x="277.55" y="740.42" width="13.3" height="1.65"/>
<rect x="277.55" y="733.43" width="13.3" height="1.65"/>
<rect x="277.55" y="726.44" width="13.3" height="1.65"/>
<rect x="279.38" y="727.27" width="1.25" height="139.76"/>
<ellipse cx="284.2" cy="727.27" rx="4.85" ry="3.3" transform="rotate(-25 284.2 727.27)"/>
<path d="M270.85 718.07h1.1v20.0h-1.1zM274.05 716.47h1.1v20.0h-1.1zM269.05 723.47l7.9 -2.8v2.9l-7.9 2.8zM269.05 730.97l7.9 -2.8v2.9l-7.9 2.8z"/>
<rect x="339.35" y="845.24" width="13.3" height="1.65"/>
<rect x="339.35" y="838.25" width="13.3" height="1.65"/>
<rect x="339.35" y="831.26" width="13.3" height="1.65"/>
<rect x="339.35" y="824.28" width="13.3" height="1.65"/>
<rect x="339.35" y="817.29" width="13.3" height="1.65"/>
<rect x="339.35" y="810.3" width="13.3" height="1.65"/>
<rect x="339.35" y="803.31" width="13.3" height="1.65"/>
<rect x="339.35" y="796.32" width="13.3" height="1.65"/>
<rect x="339.35" y="789.34" width="13.3" height="1.65"/>
<rect x="339.35" y="782.35" width="13.3" height="1.65"/>
<rect x="339.35" y="775.36" width="13.3" height="1.65"/>
<rect x="339.35" y="768.37" width="13.3" height="1.65"/>
<rect x="339.35" y="761.38" width="13.3" height="1.65"/>
<rect x="341.18" y="758.72" width="1.25" height="108.31"/>
<ellipse cx="346" cy="758.72" rx="4.85" ry="3.3" transform="rotate(-25 346 758.72)"/>
<rect x="389.35" y="845.24" width="13.3" height="1.65"/>
<rect x="389.35" y="838.25" width="13.3" height="1.65"/>
<rect x="389.35" y="831.26" width="13.3" height="1.65"/>
<rect x="389.35" y="824.28" width="13.3" height="1.65"/>
<rect x="389.35" y="817.29" width="13.3" height="1.65"/>
<rect x="389.35" y="810.3" width="13.3" height="1.65"/>
<rect x="389.35" y="803.31" width="13.3" height="1.65"/>
<rect x="389.35" y="796.32" width="13.3" height="1.65"/>
<rect x="389.35" y="789.34" width="13.3" height="1.65"/>
<rect x="389.35" y="782.35" width="13.3" height="1.65"/>
<rect x="389.35" y="775.36" width="13.3" height="1.65"/>
<rect x="389.35" y="768.37" width="13.3" height="1.65"/>
<rect x="389.35" y="761.38" width="13.3" height="1.65"/>
<rect x="389.35" y="754.4" width="13.3" height="1.65"/>
<rect x="389.35" y="747.41" width="13.3" height="1.65"/>
<rect x="389.35" y="740.42" width="13.3" height="1.65"/>
<rect x="389.35" y="733.43" width="13.3" height="1.65"/>
<rect x="389.35" y="726.44" width="13.3" height="1.65"/>
<rect x="389.35" y="719.46" width="13.3" height="1.65"/>
<rect x="389.35" y="712.47" width="13.3" height="1.65"/>
<rect x="389.35" y="705.48" width="13.3" height="1.65"/>
<rect x="389.35" y="698.49" width="13.3" height="1.65"/>
<rect x="389.35" y="691.5" width="13.3" height="1.65"/>
<rect x="389.35" y="684.52" width="13.3" height="1.65"/>
<rect x="391.18" y="685.34" width="1.25" height="63.06"/>
<ellipse cx="396" cy="685.34" rx="4.85" ry="3.3" transform="rotate(-25 396 685.34)"/>
<rect x="402.55" y="845.24" width="13.3" height="1.65"/>
<rect x="402.55" y="838.25" width="13.3" height="1.65"/>
<rect x="402.55" y="831.26" width="13.3" height="1.65"/>
<rect x="402.55" y="824.28" width="13.3" height="1.65"/>
<rect x="402.55" y="817.29" width="13.3" height="1.65"/>
<rect x="402.55" y="810.3" width="13.3" height="1.65"/>
<rect x="402.55" y="803.31" width="13.3" height="1.65"/>
<rect x="402.55" y="796.32" width="13.3" height="1.65"/>
<rect x="402.55" y="789.34" width="13.3" height="1.65"/>
<rect x="402.55" y="782.35" width="13.3" height="1.65"/>
<rect x="402.55" y="775.36" width="13.3" height="1.65"/>
<rect x="402.55" y="768.37" width="13.3" height="1.65"/>
<rect x="402.55" y="761.38" width="13.3" height="1.65"/>
<rect x="404.38" y="758.72" width="1.25" height="108.31"/>
<ellipse cx="409.2" cy="758.72" rx="4.85" ry="3.3" transform="rotate(-25 409.2 758.72)"/>
<rect x="420.15" y="845.24" width="13.3" height="1.65"/>
<rect x="420.15" y="838.25" width="13.3" height="1.65"/>
<rect x="420.15" y="831.26" width="13.3" height="1.65"/>
<rect x="420.15" y="824.28" width="13.3" height="1.65"/>
<rect x="420.15" y="817.29" width="13.3" height="1.65"/>
<rect x="420.15" y="810.3" width="13.3" height="1.65"/>
<rect x="420.15" y="803.31" width="13.3" height="1.65"/>
<rect x="420.15" y="796.32" width="13.3" height="1.65"/>
<rect x="420.15" y="789.34" width="13.3" height="1.65"/>
<rect x="420.15" y="782.35" width="13.3" height="1.65"/>
<rect x="420.15" y="775.36" width="13.3" height="1.65"/>
<rect x="420.15" y="768.37" width="13.3" height="1.65"/>
<rect x="420.15" y="761.38" width="13.3" height="1.65"/>
<rect x="420.15" y="754.4" width="13.3" height="1.65"/>
<rect x="420.15" y="747.41" width="13.3" height="1.65"/>
<rect x="421.98" y="748.23" width="1.25" height="118.8"/>
<ellipse cx="426.8" cy="748.23" rx="4.85" ry="3.3" transform="rotate(-25 426.8 748.23)"/>
<rect x="451.35" y="845.24" width="13.3" height="1.65"/>
<rect x="451.35" y="838.25" width="13.3" height="1.65"/>
<rect x="451.35" y="831.26" width="13.3" height="1.65"/>
<rect x="451.35" y="824.28" width="13.3" height="1.65"/>
<rect x="451.35" y="817.29" width="13.3" height="1.65"/>
<rect x="451.35" y="810.3" width="13.3" height="1.65"/>
<rect x="451.35" y="803.31" width="13.3" height="1.65"/>
<rect x="451.35" y="796.32" width="13.3" height="1.65"/>
<rect x="451.35" y="789.34" width="13.3" height="1.65"/>
<rect x="451.35" y="782.35" width="13.3" height="1.65"/>
<rect x="451.35" y="775.36" width="13.3" height="1.65"/>
<rect x="451.35" y="768.37" width="13.3" height="1.65"/>
<rect x="451.35" y="761.38" width="13.3" height="1.65"/>
<rect x="451.35" y="754.4" width="13.3" height="1.65"/>
<rect x="451.35" y="747.41" width="13.3" height="1.65"/>
<rect x="451.35" y="740.42" width="13.3" height="1.65"/>
<rect x="453.18" y="741.25" width="1.25" height="125.78"/>
<ellipse cx="458" cy="741.25" rx="4.85" ry="3.3" transform="rotate(-25 458 741.25)"/>
<path d="M444.85 732.05h1.1v20.0h-1.1zM448.05 730.45h1.1v20.0h-1.1zM443.05 737.45l7.9 -2.8v2.9l-7.9 2.8zM443.05 744.95l7.9 -2.8v2.9l-7.9 2.8z"/>
<rect x="488.55" y="845.24" width="13.3" height="1.65"/>
<rect x="488.55" y="838.25" width="13.3" height="1.65"/>
<rect x="488.55" y="831.26" width="13.3" height="1.65"/>
<rect x="488.55" y="824.28" width="13.3" height="1.65"/>
<rect x="488.55" y="817.29" width="13.3" height="1.65"/>
<rect x="488.55" y="810.3" width="13.3" height="1.65"/>
<rect x="488.55" y="803.31" width="13.3" height="1.65"/>
<rect x="488.55" y="796.32" width="13.3" height="1.65"/>
<rect x="488.55" y="789.34" width="13.3" height="1.65"/>
<rect x="488.55" y="782.35" width="13.3" height="1.65"/>
<rect x="488.55" y="775.36" width="13.3" height="1.65"/>
<rect x="488.55" y="768.37" width="13.3" height="1.65"/>
<rect x="488.55" y="761.38" width="13.3" height="1.65"/>
<rect x="488.55" y="754.4" width="13.3" height="1.65"/>
<rect x="488.55" y="747.41" width="13.3" height="1.65"/>
<rect x="488.55" y="740.42" width="13.3" height="1.65"/>
<rect x="490.38" y="741.25" width="1.25" height="125.78"/>
<ellipse cx="495.2" cy="741.25" rx="4.85" ry="3.3" transform="rotate(-25 495.2 741.25)"/>
<path fill-rule="evenodd" d="M482.25 730.65h1.3v5.7l2.9 -0.9h1.3v16.6h-1.3v-5.7l-2.9 0.9h-1.3zM483.55 738.75l2.9 -0.9v6.1l-2.9 0.9z"/>
<rect x="514.35" y="845.24" width="13.3" height="1.65"/>
<rect x="514.35" y="838.25" width="13.3" height="1.65"/>
<rect x="514.35" y="831.26" width="13.3" height="1.65"/>
<rect x="514.35" y="824.28" width="13.3" height="1.65"/>
<rect x="514.35" y="817.29" width="13.3" height="1.65"/>
<rect x="514.35" y="810.3" width="13.3" height="1.65"/>
<rect x="514.35" y="803.31" width="13.3" height="1.65"/>
<rect x="514.35" y="796.32" width="13.3" height="1.65"/>
<rect x="514.35" y="789.34" width="13.3" height="1.65"/>
<rect x="514.35" y="782.35" width="13.3" height="1.65"/>
<rect x="514.35" y="775.36" width="13.3" height="1.65"/>
<rect x="514.35" y="768.37" width="13.3" height="1.65"/>
<rect x="514.35" y="761.38" width="13.3" height="1.65"/>
<rect x="514.35" y="754.4" width="13.3" height="1.65"/>
<rect x="514.35" y="747.41" width="13.3" height="1.65"/>
<rect x="514.35" y="740.42" width="13.3" height="1.65"/>
<rect x="516.17" y="737.75" width="1.25" height="129.28"/>
<ellipse cx="521" cy="737.75" rx="4.85" ry="3.3" transform="rotate(-25 521 737.75)"/>
<rect x="537.35" y="845.24" width="13.3" height="1.65"/>
<rect x="537.35" y="838.25" width="13.3" height="1.65"/>
<rect x="537.35" y="831.26" width="13.3" height="1.65"/>
<rect x="537.35" y="824.28" width="13.3" height="1.65"/>
<rect x="537.35" y="817.29" width="13.3" height="1.65"/>
<rect x="537.35" y="810.3" width="13.3" height="1.65"/>
<rect x="537.35" y="803.31" width="13.3" height="1.65"/>
<rect x="537.35" y="796.32" width="13.3" height="1.65"/>
<rect x="537.35" y="789.34" width="13.3" height="1.65"/>
<rect x="537.35" y="782.35" width="13.3" height="1.65"/>
<rect x="537.35" y="775.36" width="13.3" height="1.65"/>
<rect x="537.35" y="768.37" width="13.3" height="1.65"/>
<rect x="537.35" y="761.38" width="13.3" height="1.65"/>
<rect x="537.35" y="754.4" width="13.3" height="1.65"/>
<rect x="537.35" y="747.41" width="13.3" height="1.65"/>
<rect x="537.35" y="740.42" width="13.3" height="1.65"/>
<rect x="537.35" y="733.43" width="13.3" height="1.65"/>
<rect x="537.35" y="726.44" width="13.3" height="1.65"/>
<rect x="539.17" y="723.78" width="1.25" height="143.25"/>
<ellipse cx="544" cy="723.78" rx="4.85" ry="3.3" transform="rotate(-25 544 723.78)"/>
<rect x="537.15" y="845.24" width="13.3" height="1.65"/>
<rect x="537.15" y="838.25" width="13.3" height="1.65"/>
<rect x="537.15" y="831.26" width="13.3" height="1.65"/>
<rect x="537.15" y="824.28" width="13.3" height="1.65"/>
<rect x="537.15" y="817.29" width="13.3" height="1.65"/>
<rect x="537.15" y="810.3" width="13.3" height="1.65"/>
<rect x="537.15" y="803.31" width="13.3" height="1.65"/>
<rect x="537.15" y="796.32" width="13.3" height="1.65"/>
<rect x="537.15" y="789.34" width="13.3" height="1.65"/>
<rect x="537.15" y="782.35" width="13.3" height="1.65"/>
<rect x="537.15" y="775.36" width="13.3" height="1.65"/>
<rect x="537.15" y="768.37" width="13.3" height="1.65"/>
<rect x="537.15" y="761.38" width="13.3" height="1.65"/>
<rect x="537.15" y="754.4" width="13.3" height="1.65"/>
<rect x="537.15" y="747.41" width="13.3" height="1.65"/>
<rect x="537.15" y="740.42" width="13.3" height="1.65"/>
<ellipse cx="543.8" cy="741.25" rx="4.85" ry="3.3" transform="rotate(-25 543.8 741.25)"/>
<path d="M530.85 732.05h1.1v20.0h-1.1zM534.05 730.45h1.1v20.0h-1.1zM529.05 737.45l7.9 -2.8v2.9l-7.9 2.8zM529.05 744.95l7.9 -2.8v2.9l-7.9 2.8z"/>
<rect x="553.35" y="845.24" width="13.3" height="1.65"/>
<rect x="553.35" y="838.25" width="13.3" height="1.65"/>
<rect x="553.35" y="831.26" width="13.3" height="1.65"/>
<rect x="553.35" y="824.28" width="13.3" height="1.65"/>
<rect x="553.35" y="817.29" width="13.3" height="1.65"/>
<rect x="553.35" y="810.3" width="13.3" height="1.65"/>
<rect x="553.35" y="803.31" width="13.3" height="1.65"/>
<rect x="553.35" y="796.32" width="13.3" height="1.65"/>
<rect x="553.35" y="789.34" width="13.3" height="1.65"/>
<rect x="553.35" y="782.35" width="13.3" height="1.65"/>
<rect x="553.35" y="775.36" width="13.3" height="1.65"/>
<rect x="553.35" y="768.37" width="13.3" height="1.65"/>
<rect x="553.35" y="761.38" width="13.3" height="1.65"/>
<rect x="553.35" y="754.4" width="13.3" height="1.65"/>
<rect x="553.35" y="747.41" width="13.3" height="1.65"/>
<rect x="553.35" y="740.42" width="13.3" height="1.65"/>
<rect x="555.17" y="741.25" width="1.25" height="125.78"/>
<ellipse cx="560" cy="741.25" rx="4.85" ry="3.3" transform="rotate(-25 560 741.25)"/>
<rect x="578.35" y="845.24" width="13.3" height="1.65"/>
<rect x="578.35" y="838.25" width="13.3" height="1.65"/>
<rect x="578.35" y="831.26" width="13.3" height="1.65"/>
<rect x="578.35" y="824.28" width="13.3" height="1.65"/>
<rect x="578.35" y="817.29" width="13.3" height="1.65"/>
<rect x="578.35" y="810.3" width="13.3" height="1.65"/>
<rect x="578.35" y="803.31" width="13.3" height="1.65"/>
<rect x="578.35" y="796.32" width="13.3" height="1.65"/>
<rect x="578.35" y="789.34" width="13.3" height="1.65"/>
<rect x="578.35" y="782.35" width="13.3" height="1.65"/>
<rect x="578.35" y="775.36" width="13.3" height="1.65"/>
<rect x="578.35" y="768.37" width="13.3" height="1.65"/>
<rect x="578.35" y="761.38" width="13.3" height="1.65"/>
<rect x="578.35" y="754.4" width="13.3" height="1.65"/>
<rect x="578.35" y="747.41" width="13.3" height="1.65"/>
<rect x="580.17" y="748.23" width="1.25" height="118.8"/>
<ellipse cx="585" cy="748.23" rx="4.85" ry="3.3" transform="rotate(-25 585 748.23)"/>
<rect x="608.95" y="845.24" width="13.3" height="1.65"/>
<rect x="608.95" y="838.25" width="13.3" height="1.65"/>
<rect x="608.95" y="831.26" width="13.3" height="1.65"/>
<rect x="608.95" y="824.28" width="13.3" height="1.65"/>
<rect x="608.95" y="817.29" width="13.3" height="1.65"/>
<rect x="608.95" y="810.3" width="13.3" height="1.65"/>
<rect x="608.95" y="803.31" width="13.3" height="1.65"/>
<rect x="608.95" y="796.32" width="13.3" height="1.65"/>
<rect x="608.95" y="789.34" width="13.3" height="1.65"/>
<rect x="608.95" y="782.35" width="13.3" height="1.65"/>
<rect x="608.95" y="775.36" width="13.3" height="1.65"/>
<rect x="608.95" y="768.37" width="13.3" height="1.65"/>
<rect x="608.95" y="761.38" width="13.3" height="1.65"/>
<rect x="608.95" y="754.4" width="13.3" height="1.65"/>
<rect x="608.95" y="747.41" width="13.3" height="1.65"/>
<rect x="610.77" y="748.23" width="1.25" height="118.8"/>
<ellipse cx="615.6" cy="748.23" rx="4.85" ry="3.3" transform="rotate(-25 615.6 748.23)"/>
<rect x="622.75" y="845.24" width="13.3" height="1.65"/>
<rect x="622.75" y="838.25" width="13.3" height="1.65"/>
<rect x="622.75" y="831.26" width="13.3" height="1.65"/>
<rect x="622.75" y="824.28" width="13.3" height="1.65"/>
<rect x="622.75" y="817.29" width="13.3" height="1.65"/>
<rect x="622.75" y="810.3" width="13.3" height="1.65"/>
<rect x="622.75" y="803.31" width="13.3" height="1.65"/>
<rect x="622.75" y="796.32" width="13.3" height="1.65"/>
<rect x="622.75" y="789.34" width="13.3" height="1.65"/>
<rect x="622.75" y="782.35" width="13.3" height="1.65"/>
<rect x="622.75" y="775.36" width="13.3" height="1.65"/>
<rect x="622.75" y="768.37" width="13.3" height="1.65"/>
<rect x="622.75" y="761.38" width="13.3" height="1.65"/>
<rect x="622.75" y="754.4" width="13.3" height="1.65"/>
<rect x="622.75" y="747.41" width="13.3" height="1.65"/>
<rect x="622.75" y="740.42" width="13.3" height="1.65"/>
<rect x="622.75" y="733.43" width="13.3" height="1.65"/>
<rect x="624.57" y="734.26" width="1.25" height="132.77"/>
<ellipse cx="629.4" cy="734.26" rx="4.85" ry="3.3" transform="rotate(-25 629.4 734.26)"/>
<rect x="636.95" y="845.24" width="13.3" height="1.65"/>
<rect x="636.95" y="838.25" width="13.3" height="1.65"/>
<rect x="636.95" y="831.26" width="13.3" height="1.65"/>
<rect x="636.95" y="824.28" width="13.3" height="1.65"/>
<rect x="636.95" y="817.29" width="13.3" height="1.65"/>
<rect x="636.95" y="810.3" width="13.3" height="1.65"/>
<rect x="636.95" y="803.31" width="13.3" height="1.65"/>
<rect x="636.95" y="796.32" width="13.3" height="1.65"/>
<rect x="636.95" y="789.34" width="13.3" height="1.65"/>
<rect x="636.95" y="782.35" width="13.3" height="1.65"/>
<rect x="636.95" y="775.36" width="13.3" height="1.65"/>
<rect x="636.95" y="768.37" width="13.3" height="1.65"/>
<rect x="636.95" y="761.38" width="13.3" height="1.65"/>
<rect x="636.95" y="754.4" width="13.3" height="1.65"/>
<rect x="636.95" y="747.41" width="13.3" height="1.65"/>
<rect x="636.95" y="740.42" width="13.3" height="1.65"/>
<rect x="636.95" y="733.43" width="13.3" height="1.65"/>
<rect x="636.95" y="726.44" width="13.3" height="1.65"/>
<rect x="638.77" y="727.27" width="1.25" height="139.76"/>
<ellipse cx="643.6" cy="727.27" rx="4.85" ry="3.3" transform="rotate(-25 643.6 727.27)"/>
<rect x="651.35" y="845.24" width="13.3" height="1.65"/>
<rect x="651.35" y="838.25" width="13.3" height="1.65"/>
<rect x="651.35" y="831.26" width="13.3" height="1.65"/>
<rect x="651.35" y="824.28" width="13.3" height="1.65"/>
<rect x="651.35" y="817.29" width="13.3" height="1.65"/>
<rect x="651.35" y="810.3" width="13.3" height="1.65"/>
<rect x="651.35" y="803.31" width="13.3" height="1.65"/>
<rect x="651.35" y="796.32" width="13.3" height="1.65"/>
<rect x="651.35" y="789.34" width="13.3" height="1.65"/>
<rect x="651.35" y="782.35" width="13.3" height="1.65"/>
<rect x="651.35" y="775.36" width="13.3" height="1.65"/>
<rect x="651.35" y="768.37" width="13.3" height="1.65"/>
<rect x="651.35" y="761.38" width="13.3" height="1.65"/>
<rect x="651.35" y="754.4" width="13.3" height="1.65"/>
<rect x="651.35" y="747.41" width="13.3" height="1.65"/>
<rect x="651.35" y="740.42" width="13.3" height="1.65"/>
<rect x="651.35" y="733.43" width="13.3" height="1.65"/>
<rect x="651.35" y="726.44" width="13.3" height="1.65"/>
<rect x="653.17" y="723.78" width="1.25" height="143.25"/>
<ellipse cx="658" cy="723.78" rx="4.85" ry="3.3" transform="rotate(-25 658 723.78)"/>
<rect x="678.35" y="845.24" width="13.3" height="1.65"/>
<rect x="678.35" y="838.25" width="13.3" height="1.65"/>
<rect x="678.35" y="831.26" width="13.3" height="1.65"/>
<rect x="678.35" y="824.28" width="13.3" height="1.65"/>
<rect x="678.35" y="817.29" width="13.3" height="1.65"/>
<rect x="678.35" y="810.3" width="13.3" height="1.65"/>
<rect x="678.35" y="803.31" width="13.3" height="1.65"/>
<rect x="678.35" y="796.32" width="13.3" height="1.65"/>
<rect x="678.35" y="789.34" width="13.3" height="1.65"/>
<rect x="678.35" y="782.35" width="13.3" height="1.65"/>
<rect x="678.35" y="775.36" width="13.3" height="1.65"/>
<rect x="678.35" y="768.37" width="13.3" height="1.65"/>
<rect x="678.35" y="761.38" width="13.3" height="1.65"/>
<rect x="678.35" y="754.4" width="13.3" height="1.65"/>
<rect x="680.17" y="751.73" width="1.25" height="115.3"/>
<ellipse cx="685" cy="751.73" rx="4.85" ry="3.3" transform="rotate(-25 685 751.73)"/>
<rect x="719.35" y="845.24" width="13.3" height="1.65"/>
<rect x="719.35" y="838.25" width="13.3" height="1.65"/>
<rect x="719.35" y="831.26" width="13.3" height="1.65"/>
<rect x="719.35" y="824.28" width="13.3" height="1.65"/>
<rect x="719.35" y="817.29" width="13.3" height="1.65"/>
<rect x="719.35" y="810.3" width="13.3" height="1.65"/>
<rect x="719.35" y="803.31" width="13.3" height="1.65"/>
<rect x="719.35" y="796.32" width="13.3" height="1.65"/>
<rect x="719.35" y="789.34" width="13.3" height="1.65"/>
<rect x="719.35" y="782.35" width="13.3" height="1.65"/>
<rect x="719.35" y="775.36" width="13.3" height="1.65"/>
<rect x="719.35" y="768.37" width="13.3" height="1.65"/>
<rect x="719.35" y="761.38" width="13.3" height="1.65"/>
<rect x="719.35" y="754.4" width="13.3" height="1.65"/>
<rect x="719.35" y="747.41" width="13.3" height="1.65"/>
<rect x="719.35" y="740.42" width="13.3" height="1.65"/>
<rect x="719.35" y="733.43" width="13.3" height="1.65"/>
<rect x="721.17" y="730.76" width="1.25" height="136.27"/>
<ellipse cx="726" cy="730.76" rx="4.85" ry="3.3" transform="rotate(-25 726 730.76)"/>
<path d="M712.85 721.56h1.1v20.0h-1.1zM716.05 719.96h1.1v20.0h-1.1zM711.05 726.96l7.9 -2.8v2.9l-7.9 2.8zM711.05 734.46l7.9 -2.8v2.9l-7.9 2.8z"/>
<rect x="810.35" y="845.24" width="13.3" height="1.65"/>
<rect x="810.35" y="838.25" width="13.3" height="1.65"/>
<rect x="810.35" y="831.26" width="13.3" height="1.65"/>
<rect x="810.35" y="824.28" width="13.3" height="1.65"/>
<rect x="810.35" y="817.29" width="13.3" height="1.65"/>
<rect x="810.35" y="810.3" width="13.3" height="1.65"/>
<rect x="810.35" y="803.31" width="13.3" height="1.65"/>
<rect x="810.35" y="796.32" width="13.3" height="1.65"/>
<rect x="810.35" y="789.34" width="13.3" height="1.65"/>
<rect x="810.35" y="782.35" width="13.3" height="1.65"/>
<rect x="810.35" y="775.36" width="13.3" height="1.65"/>
<rect x="810.35" y="768.37" width="13.3" height="1.65"/>
<rect x="810.35" y="761.38" width="13.3" height="1.65"/>
<rect x="810.35" y="754.4" width="13.3" height="1.65"/>
<rect x="810.35" y="747.41" width="13.3" height="1.65"/>
<rect x="810.35" y="740.42" width="13.3" height="1.65"/>
<rect x="812.17" y="737.75" width="1.25" height="129.28"/>
<ellipse cx="817" cy="737.75" rx="4.85" ry="3.3" transform="rotate(-25 817 737.75)"/>
<rect x="125.8" y="738.9" width="266.2" height="3.45"/>
<rect x="125.8" y="745" width="266.2" height="3.45"/>
<rect x="384" y="726.7" width="8" height="3.45"/>
<rect x="384" y="732.8" width="8" height="3.45"/>
<rect x="130.2" y="800.9" width="123.2" height="3.45"/>
<rect x="224.6" y="794.8" width="28.8" height="3.45"/>
<rect x="224.6" y="788.7" width="28.8" height="3.45"/>
<rect x="245" y="782.6" width="8.4" height="3.45"/>
<rect x="94" y="857.2" width="262.2" height="3.45"/>
<rect x="108" y="851.5" width="248.2" height="3.45"/>
<rect x="299.8" y="845.2" width="8.2" height="3.45"/>
<rect x="299.8" y="839.1" width="8.2" height="3.45"/>
<rect x="348.2" y="845.2" width="8.2" height="3.45"/>
<rect x="348.2" y="839.1" width="8.2" height="3.45"/>
<rect x="98.4" y="935" width="558.6" height="3.45"/>
<rect x="649" y="928.9" width="8" height="3.45"/>
<rect x="649" y="922.8" width="8" height="3.45"/>
<rect x="649" y="916.7" width="8" height="3.45"/>
<rect x="77.15" y="845.24" width="13.3" height="1.65"/>
<rect x="79.78" y="846.07" width="1.25" height="24.43"/>
<ellipse cx="83.8" cy="846.07" rx="4.85" ry="3.3" transform="rotate(-25 83.8 846.07)"/>
<rect x="91.95" y="845.24" width="13.3" height="1.65"/>
<rect x="91.95" y="838.25" width="13.3" height="1.65"/>
<rect x="91.95" y="831.26" width="13.3" height="1.65"/>
<rect x="91.95" y="824.28" width="13.3" height="1.65"/>
<rect x="91.95" y="817.29" width="13.3" height="1.65"/>
<rect x="93.77" y="814.62" width="1.25" height="43.38"/>
<ellipse cx="98.6" cy="814.62" rx="4.85" ry="3.3" transform="rotate(-25 98.6 814.62)"/>
<path d="M81.45 805.42h1.1v20.0h-1.1zM84.65 803.82h1.1v20.0h-1.1zM79.65 810.82l7.9 -2.8v2.9l-7.9 2.8zM79.65 818.32l7.9 -2.8v2.9l-7.9 2.8z"/>
<rect x="106.35" y="845.24" width="13.3" height="1.65"/>
<rect x="106.35" y="838.25" width="13.3" height="1.65"/>
<rect x="106.35" y="831.26" width="13.3" height="1.65"/>
<rect x="108.17" y="828.6" width="1.25" height="24.4"/>
<ellipse cx="113" cy="828.6" rx="4.85" ry="3.3" transform="rotate(-25 113 828.6)"/>
<rect x="98.38" y="867.03" width="1.25" height="68.97"/>
<ellipse cx="103.4" cy="867.03" rx="4.85" ry="3.3" transform="rotate(-25 103.4 867.03)"/>
<rect x="149.95" y="845.24" width="13.3" height="1.65"/>
<rect x="160.17" y="828" width="1.25" height="18.07"/>
<ellipse cx="156.6" cy="846.07" rx="4.85" ry="3.3" transform="rotate(-25 156.6 846.07)"/>
<rect x="235.95" y="845.24" width="13.3" height="1.65"/>
<rect x="235.95" y="838.25" width="13.3" height="1.65"/>
<rect x="235.95" y="831.26" width="13.3" height="1.65"/>
<rect x="235.95" y="824.28" width="13.3" height="1.65"/>
<rect x="235.95" y="817.29" width="13.3" height="1.65"/>
<rect x="235.95" y="810.3" width="13.3" height="1.65"/>
<rect x="237.78" y="811.13" width="1.25" height="55.9"/>
<ellipse cx="242.6" cy="811.13" rx="4.85" ry="3.3" transform="rotate(-25 242.6 811.13)"/>
<rect x="305.15" y="845.24" width="13.3" height="1.65"/>
<rect x="305.15" y="838.25" width="13.3" height="1.65"/>
<rect x="305.15" y="831.26" width="13.3" height="1.65"/>
<rect x="305.15" y="824.28" width="13.3" height="1.65"/>
<rect x="305.15" y="817.29" width="13.3" height="1.65"/>
<rect x="306.98" y="814.62" width="1.25" height="43.38"/>
<ellipse cx="311.8" cy="814.62" rx="4.85" ry="3.3" transform="rotate(-25 311.8 814.62)"/>
<rect x="318.95" y="845.24" width="13.3" height="1.65"/>
<rect x="318.95" y="838.25" width="13.3" height="1.65"/>
<rect x="318.95" y="831.26" width="13.3" height="1.65"/>
<rect x="320.78" y="828.6" width="1.25" height="38.43"/>
<ellipse cx="325.6" cy="828.6" rx="4.85" ry="3.3" transform="rotate(-25 325.6 828.6)"/>
<rect x="353.15" y="845.24" width="13.3" height="1.65"/>
<rect x="353.15" y="838.25" width="13.3" height="1.65"/>
<rect x="353.15" y="831.26" width="13.3" height="1.65"/>
<rect x="354.98" y="828.6" width="1.25" height="31.4"/>
<ellipse cx="359.8" cy="828.6" rx="4.85" ry="3.3" transform="rotate(-25 359.8 828.6)"/>
<rect x="375.97" y="846" width="1.25" height="24.52"/>
<ellipse cx="372.4" cy="870.52" rx="4.85" ry="3.3" transform="rotate(-25 372.4 870.52)"/>
<rect x="375.35" y="845.24" width="13.3" height="1.65"/>
<rect x="375.35" y="838.25" width="13.3" height="1.65"/>
<rect x="375.35" y="831.26" width="13.3" height="1.65"/>
<rect x="375.35" y="824.28" width="13.3" height="1.65"/>
<rect x="375.35" y="817.29" width="13.3" height="1.65"/>
<rect x="385.57" y="797" width="1.25" height="17.62"/>
<ellipse cx="382" cy="814.62" rx="4.85" ry="3.3" transform="rotate(-25 382 814.62)"/>
<path d="M368.85 805.42h1.1v20.0h-1.1zM372.05 803.82h1.1v20.0h-1.1zM367.05 810.82l7.9 -2.8v2.9l-7.9 2.8zM367.05 818.32l7.9 -2.8v2.9l-7.9 2.8z"/>
<rect x="444.18" y="849.56" width="1.25" height="23.94"/>
<ellipse cx="449" cy="849.56" rx="4.85" ry="3.3" transform="rotate(-25 449 849.56)"/>
<path d="M435.85 840.36h1.1v20.0h-1.1zM439.05 838.76h1.1v20.0h-1.1zM434.05 845.76l7.9 -2.8v2.9l-7.9 2.8zM434.05 853.26l7.9 -2.8v2.9l-7.9 2.8z"/>
<rect x="475.15" y="845.24" width="13.3" height="1.65"/>
<rect x="475.15" y="838.25" width="13.3" height="1.65"/>
<rect x="475.15" y="831.26" width="13.3" height="1.65"/>
<rect x="475.15" y="824.28" width="13.3" height="1.65"/>
<rect x="475.15" y="817.29" width="13.3" height="1.65"/>
<rect x="475.15" y="810.3" width="13.3" height="1.65"/>
<rect x="475.15" y="803.31" width="13.3" height="1.65"/>
<rect x="476.98" y="804.14" width="1.25" height="62.89"/>
<ellipse cx="481.8" cy="804.14" rx="4.85" ry="3.3" transform="rotate(-25 481.8 804.14)"/>
<rect x="655.97" y="867.03" width="1.25" height="70.97"/>
<ellipse cx="660.8" cy="867.03" rx="4.85" ry="3.3" transform="rotate(-25 660.8 867.03)"/>
<rect x="766.98" y="856" width="1.25" height="25.01"/>
<ellipse cx="763.4" cy="881.01" rx="4.85" ry="3.3" transform="rotate(-25 763.4 881.01)"/>
<rect x="834.38" y="853.05" width="1.25" height="24.45"/>
<ellipse cx="839.2" cy="853.05" rx="4.85" ry="3.3" transform="rotate(-25 839.2 853.05)"/>
<path d="M825.85 843.85h1.1v20.0h-1.1zM829.05 842.25h1.1v20.0h-1.1zM824.05 849.25l7.9 -2.8v2.9l-7.9 2.8zM824.05 856.75l7.9 -2.8v2.9l-7.9 2.8z"/>
<path d="M116.6 867.2 L116.6 859.5 C118.6 856.5 123.6 853.5 124.2 847.2 C125.6 853.5 121.6 858.5 117.8 867.2 Z"/>
<rect x="141.15" y="887.17" width="13.3" height="1.65"/>
<rect x="141.15" y="894.16" width="13.3" height="1.65"/>
<rect x="141.15" y="901.14" width="13.3" height="1.65"/>
<rect x="141.15" y="908.13" width="13.3" height="1.65"/>
<rect x="151.38" y="868.03" width="1.25" height="40.93"/>
<ellipse cx="147.8" cy="908.96" rx="4.85" ry="3.3" transform="rotate(-25 147.8 908.96)"/>
<path d="M151.6 868.6 c1.2 3.2 5.6 5.8 6.0 11.5 c-1.0 -4.6 -3.6 -6.4 -6.0 -7.9 z"/>
<path d="M151.6 873.5 c1.2 3.2 5.6 5.8 6.0 11.5 c-1.0 -4.6 -3.6 -6.4 -6.0 -7.9 z"/>
<path d="M151.6 878.4 c1.2 3.2 5.6 5.8 6.0 11.5 c-1.0 -4.6 -3.6 -6.4 -6.0 -7.9 z"/>
<path d="M151.6 883.3 c1.2 3.2 5.6 5.8 6.0 11.5 c-1.0 -4.6 -3.6 -6.4 -6.0 -7.9 z"/>
<path d="M151.6 888.2 c1.2 3.2 5.6 5.8 6.0 17.5 c-1.0 -4.6 -3.6 -6.4 -6.0 -13.9 z"/>
<path d="M156.6 876 C159.2 884 159.0 896 157.2 903 C158.0 894 157.6 884 155.8 877 Z"/>
<circle cx="139.8" cy="870.3" r="1.25"/>
<circle cx="145.3" cy="870.3" r="1.25"/>
<circle cx="152.7" cy="870.3" r="1.25"/>
<circle cx="158.5" cy="870.3" r="1.25"/>
<circle cx="140" cy="813.8" r="1.35"/>
<circle cx="145.7" cy="813.8" r="1.35"/>
<rect x="131.55" y="887.17" width="13.3" height="1.65"/>
<rect x="131.55" y="894.16" width="13.3" height="1.65"/>
<rect x="131.55" y="901.14" width="13.3" height="1.65"/>
<rect x="131.55" y="908.13" width="13.3" height="1.65"/>
<rect x="131.55" y="915.12" width="13.3" height="1.65"/>
<rect x="131.55" y="922.11" width="13.3" height="1.65"/>
<rect x="131.55" y="929.1" width="13.3" height="1.65"/>
<rect x="131.55" y="936.08" width="13.3" height="1.65"/>
<rect x="131.55" y="943.07" width="13.3" height="1.65"/>
<rect x="131.55" y="950.06" width="13.3" height="1.65"/>
<rect x="131.55" y="957.05" width="13.3" height="1.65"/>
<rect x="131.55" y="964.04" width="13.3" height="1.65"/>
<rect x="131.55" y="971.02" width="13.3" height="1.65"/>
<rect x="131.55" y="978.01" width="13.3" height="1.65"/>
<rect x="131.55" y="985" width="13.3" height="1.65"/>
<rect x="131.55" y="991.99" width="13.3" height="1.65"/>
<rect x="131.55" y="998.98" width="13.3" height="1.65"/>
<rect x="131.55" y="1005.96" width="13.3" height="1.65"/>
<rect x="131.55" y="1012.95" width="13.3" height="1.65"/>
<rect x="131.55" y="1019.94" width="13.3" height="1.65"/>
<rect x="131.55" y="1026.93" width="13.3" height="1.65"/>
<rect x="131.55" y="1033.92" width="13.3" height="1.65"/>
<rect x="131.55" y="1040.9" width="13.3" height="1.65"/>
<rect x="131.55" y="1047.89" width="13.3" height="1.65"/>
<rect x="131.55" y="1054.88" width="13.3" height="1.65"/>
<rect x="131.55" y="1061.87" width="13.3" height="1.65"/>
<rect x="131.55" y="1068.86" width="13.3" height="1.65"/>
<rect x="131.55" y="1075.85" width="13.3" height="1.65"/>
<rect x="131.55" y="1082.83" width="13.3" height="1.65"/>
<rect x="131.55" y="1089.82" width="13.3" height="1.65"/>
<rect x="131.55" y="1096.81" width="13.3" height="1.65"/>
<rect x="131.55" y="1103.8" width="13.3" height="1.65"/>
<rect x="141.77" y="867.03" width="1.25" height="237.59"/>
<ellipse cx="138.2" cy="1104.62" rx="4.85" ry="3.3" transform="rotate(-25 138.2 1104.62)"/>
<circle cx="139.6" cy="1115.2" r="1.4"/>
<rect x="160.95" y="887.17" width="13.3" height="1.65"/>
<rect x="160.95" y="894.16" width="13.3" height="1.65"/>
<rect x="160.95" y="901.14" width="13.3" height="1.65"/>
<rect x="160.95" y="908.13" width="13.3" height="1.65"/>
<rect x="160.95" y="915.12" width="13.3" height="1.65"/>
<rect x="160.95" y="922.11" width="13.3" height="1.65"/>
<rect x="160.95" y="929.1" width="13.3" height="1.65"/>
<rect x="160.95" y="936.08" width="13.3" height="1.65"/>
<rect x="160.95" y="943.07" width="13.3" height="1.65"/>
<rect x="171.17" y="867.03" width="1.25" height="76.87"/>
<ellipse cx="167.6" cy="943.9" rx="4.85" ry="3.3" transform="rotate(-25 167.6 943.9)"/>
<rect x="174.95" y="887.17" width="13.3" height="1.65"/>
<rect x="174.95" y="894.16" width="13.3" height="1.65"/>
<rect x="174.95" y="901.14" width="13.3" height="1.65"/>
<rect x="174.95" y="908.13" width="13.3" height="1.65"/>
<rect x="174.95" y="915.12" width="13.3" height="1.65"/>
<rect x="174.95" y="922.11" width="13.3" height="1.65"/>
<rect x="174.95" y="929.1" width="13.3" height="1.65"/>
<rect x="174.95" y="936.08" width="13.3" height="1.65"/>
<rect x="174.95" y="943.07" width="13.3" height="1.65"/>
<rect x="174.95" y="950.06" width="13.3" height="1.65"/>
<rect x="174.95" y="957.05" width="13.3" height="1.65"/>
<rect x="174.95" y="964.04" width="13.3" height="1.65"/>
<rect x="174.95" y="971.02" width="13.3" height="1.65"/>
<rect x="174.95" y="978.01" width="13.3" height="1.65"/>
<rect x="174.95" y="985" width="13.3" height="1.65"/>
<rect x="174.95" y="991.99" width="13.3" height="1.65"/>
<rect x="174.95" y="998.98" width="13.3" height="1.65"/>
<rect x="174.95" y="1005.96" width="13.3" height="1.65"/>
<rect x="174.95" y="1012.95" width="13.3" height="1.65"/>
<rect x="174.95" y="1019.94" width="13.3" height="1.65"/>
<rect x="174.95" y="1026.93" width="13.3" height="1.65"/>
<rect x="174.95" y="1033.92" width="13.3" height="1.65"/>
<rect x="174.95" y="1040.9" width="13.3" height="1.65"/>
<rect x="174.95" y="1047.89" width="13.3" height="1.65"/>
<rect x="174.95" y="1054.88" width="13.3" height="1.65"/>
<rect x="174.95" y="1061.87" width="13.3" height="1.65"/>
<rect x="174.95" y="1068.86" width="13.3" height="1.65"/>
<rect x="174.95" y="1075.85" width="13.3" height="1.65"/>
<rect x="174.95" y="1082.83" width="13.3" height="1.65"/>
<rect x="174.95" y="1089.82" width="13.3" height="1.65"/>
<rect x="174.95" y="1096.81" width="13.3" height="1.65"/>
<rect x="174.95" y="1103.8" width="13.3" height="1.65"/>
<rect x="185.17" y="867.03" width="1.25" height="241.09"/>
<ellipse cx="181.6" cy="1108.12" rx="4.85" ry="3.3" transform="rotate(-25 181.6 1108.12)"/>
<path d="M168.75 1098.92h1.1v20.0h-1.1zM171.95 1097.32h1.1v20.0h-1.1zM166.95 1104.32l7.9 -2.8v2.9l-7.9 2.8zM166.95 1111.82l7.9 -2.8v2.9l-7.9 2.8z"/>
<rect x="197.35" y="887.17" width="13.3" height="1.65"/>
<rect x="197.35" y="894.16" width="13.3" height="1.65"/>
<rect x="197.35" y="901.14" width="13.3" height="1.65"/>
<rect x="197.35" y="908.13" width="13.3" height="1.65"/>
<rect x="207.57" y="867.03" width="1.25" height="45.42"/>
<ellipse cx="204" cy="912.45" rx="4.85" ry="3.3" transform="rotate(-25 204 912.45)"/>
<path d="M190.25 903.25h1.1v20.0h-1.1zM193.45 901.65h1.1v20.0h-1.1zM188.45 908.65l7.9 -2.8v2.9l-7.9 2.8zM188.45 916.15l7.9 -2.8v2.9l-7.9 2.8z"/>
<rect x="210.75" y="887.17" width="13.3" height="1.65"/>
<rect x="210.75" y="894.16" width="13.3" height="1.65"/>
<rect x="210.75" y="901.14" width="13.3" height="1.65"/>
<rect x="210.75" y="908.13" width="13.3" height="1.65"/>
<rect x="210.75" y="915.12" width="13.3" height="1.65"/>
<rect x="210.75" y="922.11" width="13.3" height="1.65"/>
<rect x="210.75" y="929.1" width="13.3" height="1.65"/>
<rect x="210.75" y="936.08" width="13.3" height="1.65"/>
<rect x="210.75" y="943.07" width="13.3" height="1.65"/>
<rect x="210.75" y="950.06" width="13.3" height="1.65"/>
<rect x="210.75" y="957.05" width="13.3" height="1.65"/>
<rect x="210.75" y="964.04" width="13.3" height="1.65"/>
<rect x="210.75" y="971.02" width="13.3" height="1.65"/>
<rect x="210.75" y="978.01" width="13.3" height="1.65"/>
<rect x="210.75" y="985" width="13.3" height="1.65"/>
<rect x="210.75" y="991.99" width="13.3" height="1.65"/>
<rect x="210.75" y="998.98" width="13.3" height="1.65"/>
<rect x="210.75" y="1005.96" width="13.3" height="1.65"/>
<rect x="210.75" y="1012.95" width="13.3" height="1.65"/>
<rect x="210.75" y="1019.94" width="13.3" height="1.65"/>
<rect x="210.75" y="1026.93" width="13.3" height="1.65"/>
<rect x="210.75" y="1033.92" width="13.3" height="1.65"/>
<rect x="210.75" y="1040.9" width="13.3" height="1.65"/>
<rect x="210.75" y="1047.89" width="13.3" height="1.65"/>
<rect x="210.75" y="1054.88" width="13.3" height="1.65"/>
<rect x="210.75" y="1061.87" width="13.3" height="1.65"/>
<rect x="210.75" y="1068.86" width="13.3" height="1.65"/>
<rect x="210.75" y="1075.85" width="13.3" height="1.65"/>
<rect x="210.75" y="1082.83" width="13.3" height="1.65"/>
<rect x="210.75" y="1089.82" width="13.3" height="1.65"/>
<rect x="220.97" y="867.03" width="1.25" height="223.62"/>
<ellipse cx="217.4" cy="1090.65" rx="4.85" ry="3.3" transform="rotate(-25 217.4 1090.65)"/>
<rect x="238.75" y="887.17" width="13.3" height="1.65"/>
<rect x="238.75" y="894.16" width="13.3" height="1.65"/>
<rect x="238.75" y="901.14" width="13.3" height="1.65"/>
<rect x="238.75" y="908.13" width="13.3" height="1.65"/>
<rect x="248.97" y="867.03" width="1.25" height="45.42"/>
<ellipse cx="245.4" cy="912.45" rx="4.85" ry="3.3" transform="rotate(-25 245.4 912.45)"/>
<rect x="280.35" y="887.17" width="13.3" height="1.65"/>
<rect x="280.35" y="894.16" width="13.3" height="1.65"/>
<rect x="280.35" y="901.14" width="13.3" height="1.65"/>
<rect x="280.35" y="908.13" width="13.3" height="1.65"/>
<rect x="280.35" y="915.12" width="13.3" height="1.65"/>
<rect x="280.35" y="922.11" width="13.3" height="1.65"/>
<rect x="280.35" y="929.1" width="13.3" height="1.65"/>
<rect x="280.35" y="936.08" width="13.3" height="1.65"/>
<rect x="280.35" y="943.07" width="13.3" height="1.65"/>
<rect x="280.35" y="950.06" width="13.3" height="1.65"/>
<rect x="280.35" y="957.05" width="13.3" height="1.65"/>
<rect x="290.57" y="867.03" width="1.25" height="94.34"/>
<ellipse cx="287" cy="961.37" rx="4.85" ry="3.3" transform="rotate(-25 287 961.37)"/>
<path d="M273.45 952.17h1.1v20.0h-1.1zM276.65 950.57h1.1v20.0h-1.1zM271.65 957.57l7.9 -2.8v2.9l-7.9 2.8zM271.65 965.07l7.9 -2.8v2.9l-7.9 2.8z"/>
<rect x="293.95" y="887.17" width="13.3" height="1.65"/>
<rect x="293.95" y="894.16" width="13.3" height="1.65"/>
<rect x="293.95" y="901.14" width="13.3" height="1.65"/>
<rect x="293.95" y="908.13" width="13.3" height="1.65"/>
<rect x="293.95" y="915.12" width="13.3" height="1.65"/>
<rect x="293.95" y="922.11" width="13.3" height="1.65"/>
<rect x="293.95" y="929.1" width="13.3" height="1.65"/>
<rect x="293.95" y="936.08" width="13.3" height="1.65"/>
<rect x="293.95" y="943.07" width="13.3" height="1.65"/>
<rect x="293.95" y="950.06" width="13.3" height="1.65"/>
<rect x="293.95" y="957.05" width="13.3" height="1.65"/>
<rect x="304.18" y="867.03" width="1.25" height="90.84"/>
<ellipse cx="300.6" cy="957.87" rx="4.85" ry="3.3" transform="rotate(-25 300.6 957.87)"/>
<rect x="342.25" y="887.17" width="13.3" height="1.65"/>
<rect x="342.25" y="894.16" width="13.3" height="1.65"/>
<rect x="342.25" y="901.14" width="13.3" height="1.65"/>
<rect x="342.25" y="908.13" width="13.3" height="1.65"/>
<rect x="342.25" y="915.12" width="13.3" height="1.65"/>
<rect x="342.25" y="922.11" width="13.3" height="1.65"/>
<rect x="342.25" y="929.1" width="13.3" height="1.65"/>
<rect x="342.25" y="936.08" width="13.3" height="1.65"/>
<rect x="342.25" y="943.07" width="13.3" height="1.65"/>
<rect x="342.25" y="950.06" width="13.3" height="1.65"/>
<rect x="342.25" y="957.05" width="13.3" height="1.65"/>
<rect x="342.25" y="964.04" width="13.3" height="1.65"/>
<rect x="342.25" y="971.02" width="13.3" height="1.65"/>
<rect x="342.25" y="978.01" width="13.3" height="1.65"/>
<rect x="342.25" y="985" width="13.3" height="1.65"/>
<rect x="342.25" y="991.99" width="13.3" height="1.65"/>
<rect x="342.25" y="998.98" width="13.3" height="1.65"/>
<rect x="342.25" y="1005.96" width="13.3" height="1.65"/>
<rect x="342.25" y="1012.95" width="13.3" height="1.65"/>
<rect x="342.25" y="1019.94" width="13.3" height="1.65"/>
<rect x="342.25" y="1026.93" width="13.3" height="1.65"/>
<rect x="342.25" y="1033.92" width="13.3" height="1.65"/>
<rect x="342.25" y="1040.9" width="13.3" height="1.65"/>
<rect x="342.25" y="1047.89" width="13.3" height="1.65"/>
<rect x="342.25" y="1054.88" width="13.3" height="1.65"/>
<rect x="342.25" y="1061.87" width="13.3" height="1.65"/>
<rect x="352.47" y="867.03" width="1.25" height="199.16"/>
<ellipse cx="348.9" cy="1066.19" rx="4.85" ry="3.3" transform="rotate(-25 348.9 1066.19)"/>
<rect x="357.35" y="887.17" width="13.3" height="1.65"/>
<rect x="357.35" y="894.16" width="13.3" height="1.65"/>
<rect x="357.35" y="901.14" width="13.3" height="1.65"/>
<rect x="367.57" y="867.03" width="1.25" height="34.94"/>
<ellipse cx="364" cy="901.97" rx="4.85" ry="3.3" transform="rotate(-25 364 901.97)"/>
<rect x="454.55" y="887.17" width="13.3" height="1.65"/>
<rect x="454.55" y="894.16" width="13.3" height="1.65"/>
<rect x="454.55" y="901.14" width="13.3" height="1.65"/>
<rect x="454.55" y="908.13" width="13.3" height="1.65"/>
<rect x="454.55" y="915.12" width="13.3" height="1.65"/>
<rect x="454.55" y="922.11" width="13.3" height="1.65"/>
<rect x="454.55" y="929.1" width="13.3" height="1.65"/>
<rect x="454.55" y="936.08" width="13.3" height="1.65"/>
<rect x="454.55" y="943.07" width="13.3" height="1.65"/>
<rect x="454.55" y="950.06" width="13.3" height="1.65"/>
<rect x="454.55" y="957.05" width="13.3" height="1.65"/>
<rect x="454.55" y="964.04" width="13.3" height="1.65"/>
<rect x="454.55" y="971.02" width="13.3" height="1.65"/>
<rect x="454.55" y="978.01" width="13.3" height="1.65"/>
<rect x="454.55" y="985" width="13.3" height="1.65"/>
<rect x="454.55" y="991.99" width="13.3" height="1.65"/>
<rect x="454.55" y="998.98" width="13.3" height="1.65"/>
<rect x="454.55" y="1005.96" width="13.3" height="1.65"/>
<rect x="454.55" y="1012.95" width="13.3" height="1.65"/>
<rect x="454.55" y="1019.94" width="13.3" height="1.65"/>
<rect x="454.55" y="1026.93" width="13.3" height="1.65"/>
<rect x="454.55" y="1033.92" width="13.3" height="1.65"/>
<rect x="454.55" y="1040.9" width="13.3" height="1.65"/>
<rect x="454.55" y="1047.89" width="13.3" height="1.65"/>
<rect x="454.55" y="1054.88" width="13.3" height="1.65"/>
<rect x="454.55" y="1061.87" width="13.3" height="1.65"/>
<rect x="454.55" y="1068.86" width="13.3" height="1.65"/>
<rect x="454.55" y="1075.85" width="13.3" height="1.65"/>
<rect x="454.55" y="1082.83" width="13.3" height="1.65"/>
<rect x="454.55" y="1089.82" width="13.3" height="1.65"/>
<rect x="454.55" y="1096.81" width="13.3" height="1.65"/>
<rect x="454.55" y="1103.8" width="13.3" height="1.65"/>
<rect x="464.77" y="867.03" width="1.25" height="241.09"/>
<ellipse cx="461.2" cy="1108.12" rx="4.85" ry="3.3" transform="rotate(-25 461.2 1108.12)"/>
<rect x="463.95" y="887.17" width="13.3" height="1.65"/>
<rect x="463.95" y="894.16" width="13.3" height="1.65"/>
<rect x="463.95" y="901.14" width="13.3" height="1.65"/>
<rect x="463.95" y="908.13" width="13.3" height="1.65"/>
<rect x="463.95" y="915.12" width="13.3" height="1.65"/>
<rect x="463.95" y="922.11" width="13.3" height="1.65"/>
<rect x="463.95" y="929.1" width="13.3" height="1.65"/>
<rect x="474.18" y="867.03" width="1.25" height="62.89"/>
<ellipse cx="470.6" cy="929.92" rx="4.85" ry="3.3" transform="rotate(-25 470.6 929.92)"/>
<rect x="553.15" y="887.17" width="13.3" height="1.65"/>
<rect x="553.15" y="894.16" width="13.3" height="1.65"/>
<rect x="553.15" y="901.14" width="13.3" height="1.65"/>
<rect x="553.15" y="908.13" width="13.3" height="1.65"/>
<rect x="553.15" y="915.12" width="13.3" height="1.65"/>
<rect x="553.15" y="922.11" width="13.3" height="1.65"/>
<rect x="553.15" y="929.1" width="13.3" height="1.65"/>
<rect x="553.15" y="936.08" width="13.3" height="1.65"/>
<rect x="553.15" y="943.07" width="13.3" height="1.65"/>
<rect x="553.15" y="950.06" width="13.3" height="1.65"/>
<rect x="553.15" y="957.05" width="13.3" height="1.65"/>
<rect x="553.15" y="964.04" width="13.3" height="1.65"/>
<rect x="553.15" y="971.02" width="13.3" height="1.65"/>
<rect x="553.15" y="978.01" width="13.3" height="1.65"/>
<rect x="553.15" y="985" width="13.3" height="1.65"/>
<rect x="553.15" y="991.99" width="13.3" height="1.65"/>
<rect x="553.15" y="998.98" width="13.3" height="1.65"/>
<rect x="553.15" y="1005.96" width="13.3" height="1.65"/>
<rect x="553.15" y="1012.95" width="13.3" height="1.65"/>
<rect x="553.15" y="1019.94" width="13.3" height="1.65"/>
<rect x="553.15" y="1026.93" width="13.3" height="1.65"/>
<rect x="553.15" y="1033.92" width="13.3" height="1.65"/>
<rect x="553.15" y="1040.9" width="13.3" height="1.65"/>
<rect x="553.15" y="1047.89" width="13.3" height="1.65"/>
<rect x="553.15" y="1054.88" width="13.3" height="1.65"/>
<rect x="553.15" y="1061.87" width="13.3" height="1.65"/>
<rect x="553.15" y="1068.86" width="13.3" height="1.65"/>
<rect x="553.15" y="1075.85" width="13.3" height="1.65"/>
<rect x="553.15" y="1082.83" width="13.3" height="1.65"/>
<rect x="553.15" y="1089.82" width="13.3" height="1.65"/>
<rect x="553.15" y="1096.81" width="13.3" height="1.65"/>
<rect x="553.15" y="1103.8" width="13.3" height="1.65"/>
<rect x="563.38" y="867.03" width="1.25" height="237.59"/>
<ellipse cx="559.8" cy="1104.62" rx="4.85" ry="3.3" transform="rotate(-25 559.8 1104.62)"/>
<rect x="566.95" y="887.17" width="13.3" height="1.65"/>
<rect x="566.95" y="894.16" width="13.3" height="1.65"/>
<rect x="566.95" y="901.14" width="13.3" height="1.65"/>
<rect x="566.95" y="908.13" width="13.3" height="1.65"/>
<rect x="566.95" y="915.12" width="13.3" height="1.65"/>
<rect x="566.95" y="922.11" width="13.3" height="1.65"/>
<rect x="566.95" y="929.1" width="13.3" height="1.65"/>
<rect x="566.95" y="936.08" width="13.3" height="1.65"/>
<rect x="566.95" y="943.07" width="13.3" height="1.65"/>
<rect x="566.95" y="950.06" width="13.3" height="1.65"/>
<rect x="566.95" y="957.05" width="13.3" height="1.65"/>
<rect x="566.95" y="964.04" width="13.3" height="1.65"/>
<rect x="566.95" y="971.02" width="13.3" height="1.65"/>
<rect x="566.95" y="978.01" width="13.3" height="1.65"/>
<rect x="566.95" y="985" width="13.3" height="1.65"/>
<rect x="566.95" y="991.99" width="13.3" height="1.65"/>
<rect x="566.95" y="998.98" width="13.3" height="1.65"/>
<rect x="566.95" y="1005.96" width="13.3" height="1.65"/>
<rect x="566.95" y="1012.95" width="13.3" height="1.65"/>
<rect x="566.95" y="1019.94" width="13.3" height="1.65"/>
<rect x="566.95" y="1026.93" width="13.3" height="1.65"/>
<rect x="566.95" y="1033.92" width="13.3" height="1.65"/>
<rect x="566.95" y="1040.9" width="13.3" height="1.65"/>
<rect x="566.95" y="1047.89" width="13.3" height="1.65"/>
<rect x="566.95" y="1054.88" width="13.3" height="1.65"/>
<rect x="566.95" y="1061.87" width="13.3" height="1.65"/>
<rect x="566.95" y="1068.86" width="13.3" height="1.65"/>
<rect x="566.95" y="1075.85" width="13.3" height="1.65"/>
<rect x="577.18" y="867.03" width="1.25" height="209.64"/>
<ellipse cx="573.6" cy="1076.67" rx="4.85" ry="3.3" transform="rotate(-25 573.6 1076.67)"/>
<rect x="589.15" y="887.17" width="13.3" height="1.65"/>
<rect x="589.15" y="894.16" width="13.3" height="1.65"/>
<rect x="589.15" y="901.14" width="13.3" height="1.65"/>
<rect x="589.15" y="908.13" width="13.3" height="1.65"/>
<rect x="589.15" y="915.12" width="13.3" height="1.65"/>
<rect x="589.15" y="922.11" width="13.3" height="1.65"/>
<rect x="589.15" y="929.1" width="13.3" height="1.65"/>
<rect x="589.15" y="936.08" width="13.3" height="1.65"/>
<rect x="589.15" y="943.07" width="13.3" height="1.65"/>
<rect x="589.15" y="950.06" width="13.3" height="1.65"/>
<rect x="589.15" y="957.05" width="13.3" height="1.65"/>
<rect x="589.15" y="964.04" width="13.3" height="1.65"/>
<rect x="589.15" y="971.02" width="13.3" height="1.65"/>
<rect x="589.15" y="978.01" width="13.3" height="1.65"/>
<rect x="589.15" y="985" width="13.3" height="1.65"/>
<rect x="589.15" y="991.99" width="13.3" height="1.65"/>
<rect x="589.15" y="998.98" width="13.3" height="1.65"/>
<rect x="589.15" y="1005.96" width="13.3" height="1.65"/>
<rect x="589.15" y="1012.95" width="13.3" height="1.65"/>
<rect x="589.15" y="1019.94" width="13.3" height="1.65"/>
<rect x="589.15" y="1026.93" width="13.3" height="1.65"/>
<rect x="589.15" y="1033.92" width="13.3" height="1.65"/>
<rect x="589.15" y="1040.9" width="13.3" height="1.65"/>
<rect x="589.15" y="1047.89" width="13.3" height="1.65"/>
<rect x="589.15" y="1054.88" width="13.3" height="1.65"/>
<rect x="589.15" y="1061.87" width="13.3" height="1.65"/>
<rect x="589.15" y="1068.86" width="13.3" height="1.65"/>
<rect x="589.15" y="1075.85" width="13.3" height="1.65"/>
<rect x="589.15" y="1082.83" width="13.3" height="1.65"/>
<rect x="599.38" y="867.03" width="1.25" height="216.63"/>
<ellipse cx="595.8" cy="1083.66" rx="4.85" ry="3.3" transform="rotate(-25 595.8 1083.66)"/>
<path d="M583.05 1074.46h1.1v20.0h-1.1zM586.25 1072.86h1.1v20.0h-1.1zM581.25 1079.86l7.9 -2.8v2.9l-7.9 2.8zM581.25 1087.36l7.9 -2.8v2.9l-7.9 2.8z"/>
<rect x="640.65" y="887.17" width="13.3" height="1.65"/>
<rect x="640.65" y="894.16" width="13.3" height="1.65"/>
<rect x="640.65" y="901.14" width="13.3" height="1.65"/>
<rect x="640.65" y="908.13" width="13.3" height="1.65"/>
<rect x="640.65" y="915.12" width="13.3" height="1.65"/>
<rect x="640.65" y="922.11" width="13.3" height="1.65"/>
<rect x="640.65" y="929.1" width="13.3" height="1.65"/>
<rect x="640.65" y="936.08" width="13.3" height="1.65"/>
<rect x="640.65" y="943.07" width="13.3" height="1.65"/>
<rect x="640.65" y="950.06" width="13.3" height="1.65"/>
<rect x="640.65" y="957.05" width="13.3" height="1.65"/>
<rect x="640.65" y="964.04" width="13.3" height="1.65"/>
<rect x="640.65" y="971.02" width="13.3" height="1.65"/>
<rect x="640.65" y="978.01" width="13.3" height="1.65"/>
<rect x="640.65" y="985" width="13.3" height="1.65"/>
<rect x="640.65" y="991.99" width="13.3" height="1.65"/>
<rect x="640.65" y="998.98" width="13.3" height="1.65"/>
<rect x="640.65" y="1005.96" width="13.3" height="1.65"/>
<rect x="640.65" y="1012.95" width="13.3" height="1.65"/>
<rect x="640.65" y="1019.94" width="13.3" height="1.65"/>
<rect x="640.65" y="1026.93" width="13.3" height="1.65"/>
<rect x="640.65" y="1033.92" width="13.3" height="1.65"/>
<rect x="640.65" y="1040.9" width="13.3" height="1.65"/>
<rect x="640.65" y="1047.89" width="13.3" height="1.65"/>
<rect x="640.65" y="1054.88" width="13.3" height="1.65"/>
<rect x="640.65" y="1061.87" width="13.3" height="1.65"/>
<rect x="640.65" y="1068.86" width="13.3" height="1.65"/>
<rect x="640.65" y="1075.85" width="13.3" height="1.65"/>
<rect x="640.65" y="1082.83" width="13.3" height="1.65"/>
<rect x="650.88" y="867.03" width="1.25" height="216.63"/>
<ellipse cx="647.3" cy="1083.66" rx="4.85" ry="3.3" transform="rotate(-25 647.3 1083.66)"/>
<rect x="657.35" y="887.17" width="13.3" height="1.65"/>
<rect x="657.35" y="894.16" width="13.3" height="1.65"/>
<rect x="657.35" y="901.14" width="13.3" height="1.65"/>
<rect x="657.35" y="908.13" width="13.3" height="1.65"/>
<rect x="657.35" y="915.12" width="13.3" height="1.65"/>
<rect x="657.35" y="922.11" width="13.3" height="1.65"/>
<rect x="657.35" y="929.1" width="13.3" height="1.65"/>
<rect x="657.35" y="936.08" width="13.3" height="1.65"/>
<rect x="657.35" y="943.07" width="13.3" height="1.65"/>
<rect x="667.58" y="867.03" width="1.25" height="80.36"/>
<ellipse cx="664" cy="947.39" rx="4.85" ry="3.3" transform="rotate(-25 664 947.39)"/>
<rect x="665.95" y="887.17" width="13.3" height="1.65"/>
<rect x="665.95" y="894.16" width="13.3" height="1.65"/>
<rect x="665.95" y="901.14" width="13.3" height="1.65"/>
<rect x="665.95" y="908.13" width="13.3" height="1.65"/>
<rect x="676.18" y="867.03" width="1.25" height="45.42"/>
<ellipse cx="672.6" cy="912.45" rx="4.85" ry="3.3" transform="rotate(-25 672.6 912.45)"/>
<rect x="680.75" y="887.17" width="13.3" height="1.65"/>
<rect x="680.75" y="894.16" width="13.3" height="1.65"/>
<rect x="680.75" y="901.14" width="13.3" height="1.65"/>
<rect x="680.75" y="908.13" width="13.3" height="1.65"/>
<rect x="680.75" y="915.12" width="13.3" height="1.65"/>
<rect x="680.75" y="922.11" width="13.3" height="1.65"/>
<rect x="680.75" y="929.1" width="13.3" height="1.65"/>
<rect x="680.75" y="936.08" width="13.3" height="1.65"/>
<rect x="680.75" y="943.07" width="13.3" height="1.65"/>
<rect x="680.75" y="950.06" width="13.3" height="1.65"/>
<rect x="680.75" y="957.05" width="13.3" height="1.65"/>
<rect x="680.75" y="964.04" width="13.3" height="1.65"/>
<rect x="680.75" y="971.02" width="13.3" height="1.65"/>
<rect x="680.75" y="978.01" width="13.3" height="1.65"/>
<rect x="680.75" y="985" width="13.3" height="1.65"/>
<rect x="680.75" y="991.99" width="13.3" height="1.65"/>
<rect x="680.75" y="998.98" width="13.3" height="1.65"/>
<rect x="680.75" y="1005.96" width="13.3" height="1.65"/>
<rect x="680.75" y="1012.95" width="13.3" height="1.65"/>
<rect x="680.75" y="1019.94" width="13.3" height="1.65"/>
<rect x="680.75" y="1026.93" width="13.3" height="1.65"/>
<rect x="680.75" y="1033.92" width="13.3" height="1.65"/>
<rect x="680.75" y="1040.9" width="13.3" height="1.65"/>
<rect x="680.75" y="1047.89" width="13.3" height="1.65"/>
<rect x="680.75" y="1054.88" width="13.3" height="1.65"/>
<rect x="680.75" y="1061.87" width="13.3" height="1.65"/>
<rect x="680.75" y="1068.86" width="13.3" height="1.65"/>
<rect x="680.75" y="1075.85" width="13.3" height="1.65"/>
<rect x="680.75" y="1082.83" width="13.3" height="1.65"/>
<rect x="690.98" y="867.03" width="1.25" height="216.63"/>
<ellipse cx="687.4" cy="1083.66" rx="4.85" ry="3.3" transform="rotate(-25 687.4 1083.66)"/>
<path fill-rule="evenodd" d="M674.55 1073.06h1.3v5.7l2.9 -0.9h1.3v16.6h-1.3v-5.7l-2.9 0.9h-1.3zM675.85 1081.16l2.9 -0.9v6.1l-2.9 0.9z"/>
<rect x="694.15" y="887.17" width="13.3" height="1.65"/>
<rect x="694.15" y="894.16" width="13.3" height="1.65"/>
<rect x="694.15" y="901.14" width="13.3" height="1.65"/>
<rect x="694.15" y="908.13" width="13.3" height="1.65"/>
<rect x="704.38" y="867.03" width="1.25" height="41.93"/>
<ellipse cx="700.8" cy="908.96" rx="4.85" ry="3.3" transform="rotate(-25 700.8 908.96)"/>
<rect x="707.85" y="887.17" width="13.3" height="1.65"/>
<rect x="707.85" y="894.16" width="13.3" height="1.65"/>
<rect x="707.85" y="901.14" width="13.3" height="1.65"/>
<rect x="707.85" y="908.13" width="13.3" height="1.65"/>
<rect x="707.85" y="915.12" width="13.3" height="1.65"/>
<rect x="707.85" y="922.11" width="13.3" height="1.65"/>
<rect x="707.85" y="929.1" width="13.3" height="1.65"/>
<rect x="707.85" y="936.08" width="13.3" height="1.65"/>
<rect x="707.85" y="943.07" width="13.3" height="1.65"/>
<rect x="707.85" y="950.06" width="13.3" height="1.65"/>
<rect x="707.85" y="957.05" width="13.3" height="1.65"/>
<rect x="707.85" y="964.04" width="13.3" height="1.65"/>
<rect x="707.85" y="971.02" width="13.3" height="1.65"/>
<rect x="707.85" y="978.01" width="13.3" height="1.65"/>
<rect x="707.85" y="985" width="13.3" height="1.65"/>
<rect x="707.85" y="991.99" width="13.3" height="1.65"/>
<rect x="707.85" y="998.98" width="13.3" height="1.65"/>
<rect x="707.85" y="1005.96" width="13.3" height="1.65"/>
<rect x="707.85" y="1012.95" width="13.3" height="1.65"/>
<rect x="707.85" y="1019.94" width="13.3" height="1.65"/>
<rect x="707.85" y="1026.93" width="13.3" height="1.65"/>
<rect x="707.85" y="1033.92" width="13.3" height="1.65"/>
<rect x="707.85" y="1040.9" width="13.3" height="1.65"/>
<rect x="707.85" y="1047.89" width="13.3" height="1.65"/>
<rect x="707.85" y="1054.88" width="13.3" height="1.65"/>
<rect x="707.85" y="1061.87" width="13.3" height="1.65"/>
<rect x="707.85" y="1068.86" width="13.3" height="1.65"/>
<rect x="707.85" y="1075.85" width="13.3" height="1.65"/>
<rect x="707.85" y="1082.83" width="13.3" height="1.65"/>
<rect x="718.08" y="867.03" width="1.25" height="216.63"/>
<ellipse cx="714.5" cy="1083.66" rx="4.85" ry="3.3" transform="rotate(-25 714.5 1083.66)"/>
<path d="M701.95 1074.46h1.1v20.0h-1.1zM705.15 1072.86h1.1v20.0h-1.1zM700.15 1079.86l7.9 -2.8v2.9l-7.9 2.8zM700.15 1087.36l7.9 -2.8v2.9l-7.9 2.8z"/>
<rect x="728.25" y="887.17" width="13.3" height="1.65"/>
<rect x="728.25" y="894.16" width="13.3" height="1.65"/>
<rect x="728.25" y="901.14" width="13.3" height="1.65"/>
<rect x="728.25" y="908.13" width="13.3" height="1.65"/>
<rect x="728.25" y="915.12" width="13.3" height="1.65"/>
<rect x="728.25" y="922.11" width="13.3" height="1.65"/>
<rect x="728.25" y="929.1" width="13.3" height="1.65"/>
<rect x="728.25" y="936.08" width="13.3" height="1.65"/>
<rect x="728.25" y="943.07" width="13.3" height="1.65"/>
<rect x="728.25" y="950.06" width="13.3" height="1.65"/>
<rect x="728.25" y="957.05" width="13.3" height="1.65"/>
<rect x="728.25" y="964.04" width="13.3" height="1.65"/>
<rect x="728.25" y="971.02" width="13.3" height="1.65"/>
<rect x="728.25" y="978.01" width="13.3" height="1.65"/>
<rect x="728.25" y="985" width="13.3" height="1.65"/>
<rect x="728.25" y="991.99" width="13.3" height="1.65"/>
<rect x="728.25" y="998.98" width="13.3" height="1.65"/>
<rect x="728.25" y="1005.96" width="13.3" height="1.65"/>
<rect x="728.25" y="1012.95" width="13.3" height="1.65"/>
<rect x="728.25" y="1019.94" width="13.3" height="1.65"/>
<rect x="728.25" y="1026.93" width="13.3" height="1.65"/>
<rect x="728.25" y="1033.92" width="13.3" height="1.65"/>
<rect x="728.25" y="1040.9" width="13.3" height="1.65"/>
<rect x="728.25" y="1047.89" width="13.3" height="1.65"/>
<rect x="728.25" y="1054.88" width="13.3" height="1.65"/>
<rect x="728.25" y="1061.87" width="13.3" height="1.65"/>
<rect x="728.25" y="1068.86" width="13.3" height="1.65"/>
<rect x="728.25" y="1075.85" width="13.3" height="1.65"/>
<rect x="728.25" y="1082.83" width="13.3" height="1.65"/>
<rect x="738.48" y="867.03" width="1.25" height="216.63"/>
<ellipse cx="734.9" cy="1083.66" rx="4.85" ry="3.3" transform="rotate(-25 734.9 1083.66)"/>
<rect x="747.55" y="887.17" width="13.3" height="1.65"/>
<rect x="747.55" y="894.16" width="13.3" height="1.65"/>
<rect x="747.55" y="901.14" width="13.3" height="1.65"/>
<rect x="747.55" y="908.13" width="13.3" height="1.65"/>
<rect x="747.55" y="915.12" width="13.3" height="1.65"/>
<rect x="747.55" y="922.11" width="13.3" height="1.65"/>
<rect x="747.55" y="929.1" width="13.3" height="1.65"/>
<rect x="747.55" y="936.08" width="13.3" height="1.65"/>
<rect x="747.55" y="943.07" width="13.3" height="1.65"/>
<rect x="747.55" y="950.06" width="13.3" height="1.65"/>
<rect x="747.55" y="957.05" width="13.3" height="1.65"/>
<rect x="757.78" y="867.03" width="1.25" height="94.34"/>
<ellipse cx="754.2" cy="961.37" rx="4.85" ry="3.3" transform="rotate(-25 754.2 961.37)"/>
<rect x="776.65" y="887.17" width="13.3" height="1.65"/>
<rect x="776.65" y="894.16" width="13.3" height="1.65"/>
<rect x="776.65" y="901.14" width="13.3" height="1.65"/>
<rect x="776.65" y="908.13" width="13.3" height="1.65"/>
<rect x="776.65" y="915.12" width="13.3" height="1.65"/>
<rect x="776.65" y="922.11" width="13.3" height="1.65"/>
<rect x="776.65" y="929.1" width="13.3" height="1.65"/>
<rect x="776.65" y="936.08" width="13.3" height="1.65"/>
<rect x="776.65" y="943.07" width="13.3" height="1.65"/>
<rect x="776.65" y="950.06" width="13.3" height="1.65"/>
<rect x="776.65" y="957.05" width="13.3" height="1.65"/>
<rect x="776.65" y="964.04" width="13.3" height="1.65"/>
<rect x="776.65" y="971.02" width="13.3" height="1.65"/>
<rect x="776.65" y="978.01" width="13.3" height="1.65"/>
<rect x="776.65" y="985" width="13.3" height="1.65"/>
<rect x="776.65" y="991.99" width="13.3" height="1.65"/>
<rect x="776.65" y="998.98" width="13.3" height="1.65"/>
<rect x="776.65" y="1005.96" width="13.3" height="1.65"/>
<rect x="776.65" y="1012.95" width="13.3" height="1.65"/>
<rect x="776.65" y="1019.94" width="13.3" height="1.65"/>
<rect x="776.65" y="1026.93" width="13.3" height="1.65"/>
<rect x="776.65" y="1033.92" width="13.3" height="1.65"/>
<rect x="776.65" y="1040.9" width="13.3" height="1.65"/>
<rect x="776.65" y="1047.89" width="13.3" height="1.65"/>
<rect x="776.65" y="1054.88" width="13.3" height="1.65"/>
<rect x="776.65" y="1061.87" width="13.3" height="1.65"/>
<rect x="776.65" y="1068.86" width="13.3" height="1.65"/>
<rect x="776.65" y="1075.85" width="13.3" height="1.65"/>
<rect x="776.65" y="1082.83" width="13.3" height="1.65"/>
<rect x="786.88" y="867.03" width="1.25" height="216.63"/>
<ellipse cx="783.3" cy="1083.66" rx="4.85" ry="3.3" transform="rotate(-25 783.3 1083.66)"/>
<rect x="798.95" y="887.17" width="13.3" height="1.65"/>
<rect x="798.95" y="894.16" width="13.3" height="1.65"/>
<rect x="809.18" y="867.03" width="1.25" height="31.45"/>
<ellipse cx="805.6" cy="898.48" rx="4.85" ry="3.3" transform="rotate(-25 805.6 898.48)"/>
<path d="M791.55 889.28h1.1v20.0h-1.1zM794.75 887.68h1.1v20.0h-1.1zM789.75 894.68l7.9 -2.8v2.9l-7.9 2.8zM789.75 902.18l7.9 -2.8v2.9l-7.9 2.8z"/>
<path transform="translate(330.01 677.58) scale(0.02788 -0.02655)" d="M147 878 307 683Q257 624 230.0 581.0Q203 538 203 494Q203 457 227.0 416.5Q251 376 303 314L287 292Q243 320 205 320Q177 320 163.0 301.5Q149 283 149 257Q149 225 162.5 196.5Q176 168 199 142L186 123Q117 173 84.0 214.0Q51 255 51 303Q51 346 78.0 366.0Q105 386 143 386Q173 386 221 363V365L67 570Q168 659 168 736Q168 797 104 878Z"/>
<path transform="translate(442.01 731.88) scale(0.02788 -0.02655)" d="M147 878 307 683Q257 624 230.0 581.0Q203 538 203 494Q203 457 227.0 416.5Q251 376 303 314L287 292Q243 320 205 320Q177 320 163.0 301.5Q149 283 149 257Q149 225 162.5 196.5Q176 168 199 142L186 123Q117 173 84.0 214.0Q51 255 51 303Q51 346 78.0 366.0Q105 386 143 386Q173 386 221 363V365L67 570Q168 659 168 736Q168 797 104 878Z"/>
<path transform="translate(402.01 903.28) scale(0.02788 -0.02655)" d="M147 878 307 683Q257 624 230.0 581.0Q203 538 203 494Q203 457 227.0 416.5Q251 376 303 314L287 292Q243 320 205 320Q177 320 163.0 301.5Q149 283 149 257Q149 225 162.5 196.5Q176 168 199 142L186 123Q117 173 84.0 214.0Q51 255 51 303Q51 346 78.0 366.0Q105 386 143 386Q173 386 221 363V365L67 570Q168 659 168 736Q168 797 104 878Z"/>
<path transform="translate(411.01 900.28) scale(0.02788 -0.02655)" d="M147 878 307 683Q257 624 230.0 581.0Q203 538 203 494Q203 457 227.0 416.5Q251 376 303 314L287 292Q243 320 205 320Q177 320 163.0 301.5Q149 283 149 257Q149 225 162.5 196.5Q176 168 199 142L186 123Q117 173 84.0 214.0Q51 255 51 303Q51 346 78.0 366.0Q105 386 143 386Q173 386 221 363V365L67 570Q168 659 168 736Q168 797 104 878Z"/>
<path transform="translate(497.41 899.48) scale(0.02788 -0.02655)" d="M147 878 307 683Q257 624 230.0 581.0Q203 538 203 494Q203 457 227.0 416.5Q251 376 303 314L287 292Q243 320 205 320Q177 320 163.0 301.5Q149 283 149 257Q149 225 162.5 196.5Q176 168 199 142L186 123Q117 173 84.0 214.0Q51 255 51 303Q51 346 78.0 366.0Q105 386 143 386Q173 386 221 363V365L67 570Q168 659 168 736Q168 797 104 878Z"/>
<path transform="translate(506.41 899.48) scale(0.02788 -0.02655)" d="M147 878 307 683Q257 624 230.0 581.0Q203 538 203 494Q203 457 227.0 416.5Q251 376 303 314L287 292Q243 320 205 320Q177 320 163.0 301.5Q149 283 149 257Q149 225 162.5 196.5Q176 168 199 142L186 123Q117 173 84.0 214.0Q51 255 51 303Q51 346 78.0 366.0Q105 386 143 386Q173 386 221 363V365L67 570Q168 659 168 736Q168 797 104 878Z"/>
<path transform="translate(515.21 899.48) scale(0.02788 -0.02655)" d="M147 878 307 683Q257 624 230.0 581.0Q203 538 203 494Q203 457 227.0 416.5Q251 376 303 314L287 292Q243 320 205 320Q177 320 163.0 301.5Q149 283 149 257Q149 225 162.5 196.5Q176 168 199 142L186 123Q117 173 84.0 214.0Q51 255 51 303Q51 346 78.0 366.0Q105 386 143 386Q173 386 221 363V365L67 570Q168 659 168 736Q168 797 104 878Z"/>
<path transform="translate(545.01 899.48) scale(0.02788 -0.02655)" d="M147 878 307 683Q257 624 230.0 581.0Q203 538 203 494Q203 457 227.0 416.5Q251 376 303 314L287 292Q243 320 205 320Q177 320 163.0 301.5Q149 283 149 257Q149 225 162.5 196.5Q176 168 199 142L186 123Q117 173 84.0 214.0Q51 255 51 303Q51 346 78.0 366.0Q105 386 143 386Q173 386 221 363V365L67 570Q168 659 168 736Q168 797 104 878Z"/>
<path transform="translate(628.41 899.48) scale(0.02788 -0.02655)" d="M147 878 307 683Q257 624 230.0 581.0Q203 538 203 494Q203 457 227.0 416.5Q251 376 303 314L287 292Q243 320 205 320Q177 320 163.0 301.5Q149 283 149 257Q149 225 162.5 196.5Q176 168 199 142L186 123Q117 173 84.0 214.0Q51 255 51 303Q51 346 78.0 366.0Q105 386 143 386Q173 386 221 363V365L67 570Q168 659 168 736Q168 797 104 878Z"/>
<circle cx="527.3" cy="884" r="1.1"/>
<path transform="translate(488.01 963.28) scale(0.02788 -0.02655)" d="M147 878 307 683Q257 624 230.0 581.0Q203 538 203 494Q203 457 227.0 416.5Q251 376 303 314L287 292Q243 320 205 320Q177 320 163.0 301.5Q149 283 149 257Q149 225 162.5 196.5Q176 168 199 142L186 123Q117 173 84.0 214.0Q51 255 51 303Q51 346 78.0 366.0Q105 386 143 386Q173 386 221 363V365L67 570Q168 659 168 736Q168 797 104 878Z"/>
<path transform="translate(728.01 886.48) scale(0.02788 -0.02655)" d="M147 878 307 683Q257 624 230.0 581.0Q203 538 203 494Q203 457 227.0 416.5Q251 376 303 314L287 292Q243 320 205 320Q177 320 163.0 301.5Q149 283 149 257Q149 225 162.5 196.5Q176 168 199 142L186 123Q117 173 84.0 214.0Q51 255 51 303Q51 346 78.0 366.0Q105 386 143 386Q173 386 221 363V365L67 570Q168 659 168 736Q168 797 104 878Z"/>
<path transform="translate(768.01 993.58) scale(0.02788 -0.02655)" d="M147 878 307 683Q257 624 230.0 581.0Q203 538 203 494Q203 457 227.0 416.5Q251 376 303 314L287 292Q243 320 205 320Q177 320 163.0 301.5Q149 283 149 257Q149 225 162.5 196.5Q176 168 199 142L186 123Q117 173 84.0 214.0Q51 255 51 303Q51 346 78.0 366.0Q105 386 143 386Q173 386 221 363V365L67 570Q168 659 168 736Q168 797 104 878Z"/>
<path transform="translate(161.41 1137.28) scale(0.02788 -0.02655)" d="M147 878 307 683Q257 624 230.0 581.0Q203 538 203 494Q203 457 227.0 416.5Q251 376 303 314L287 292Q243 320 205 320Q177 320 163.0 301.5Q149 283 149 257Q149 225 162.5 196.5Q176 168 199 142L186 123Q117 173 84.0 214.0Q51 255 51 303Q51 346 78.0 366.0Q105 386 143 386Q173 386 221 363V365L67 570Q168 659 168 736Q168 797 104 878Z"/>
<path transform="translate(197.21 1140.88) scale(0.02788 -0.02655)" d="M147 878 307 683Q257 624 230.0 581.0Q203 538 203 494Q203 457 227.0 416.5Q251 376 303 314L287 292Q243 320 205 320Q177 320 163.0 301.5Q149 283 149 257Q149 225 162.5 196.5Q176 168 199 142L186 123Q117 173 84.0 214.0Q51 255 51 303Q51 346 78.0 366.0Q105 386 143 386Q173 386 221 363V365L67 570Q168 659 168 736Q168 797 104 878Z"/>
<path transform="translate(222.21 1122.88) scale(0.02788 -0.02655)" d="M147 878 307 683Q257 624 230.0 581.0Q203 538 203 494Q203 457 227.0 416.5Q251 376 303 314L287 292Q243 320 205 320Q177 320 163.0 301.5Q149 283 149 257Q149 225 162.5 196.5Q176 168 199 142L186 123Q117 173 84.0 214.0Q51 255 51 303Q51 346 78.0 366.0Q105 386 143 386Q173 386 221 363V365L67 570Q168 659 168 736Q168 797 104 878Z"/>
<path transform="translate(263.31 1122.88) scale(0.02788 -0.02655)" d="M147 878 307 683Q257 624 230.0 581.0Q203 538 203 494Q203 457 227.0 416.5Q251 376 303 314L287 292Q243 320 205 320Q177 320 163.0 301.5Q149 283 149 257Q149 225 162.5 196.5Q176 168 199 142L186 123Q117 173 84.0 214.0Q51 255 51 303Q51 346 78.0 366.0Q105 386 143 386Q173 386 221 363V365L67 570Q168 659 168 736Q168 797 104 878Z"/>
<path transform="translate(338.91 1098.88) scale(0.02788 -0.02655)" d="M147 878 307 683Q257 624 230.0 581.0Q203 538 203 494Q203 457 227.0 416.5Q251 376 303 314L287 292Q243 320 205 320Q177 320 163.0 301.5Q149 283 149 257Q149 225 162.5 196.5Q176 168 199 142L186 123Q117 173 84.0 214.0Q51 255 51 303Q51 346 78.0 366.0Q105 386 143 386Q173 386 221 363V365L67 570Q168 659 168 736Q168 797 104 878Z"/>
<path transform="translate(329.61 1122.88) scale(0.02788 -0.02655)" d="M147 878 307 683Q257 624 230.0 581.0Q203 538 203 494Q203 457 227.0 416.5Q251 376 303 314L287 292Q243 320 205 320Q177 320 163.0 301.5Q149 283 149 257Q149 225 162.5 196.5Q176 168 199 142L186 123Q117 173 84.0 214.0Q51 255 51 303Q51 346 78.0 366.0Q105 386 143 386Q173 386 221 363V365L67 570Q168 659 168 736Q168 797 104 878Z"/>
<path transform="translate(378.91 1098.88) scale(0.02788 -0.02655)" d="M147 878 307 683Q257 624 230.0 581.0Q203 538 203 494Q203 457 227.0 416.5Q251 376 303 314L287 292Q243 320 205 320Q177 320 163.0 301.5Q149 283 149 257Q149 225 162.5 196.5Q176 168 199 142L186 123Q117 173 84.0 214.0Q51 255 51 303Q51 346 78.0 366.0Q105 386 143 386Q173 386 221 363V365L67 570Q168 659 168 736Q168 797 104 878Z"/>
<path transform="translate(441.51 1140.88) scale(0.02788 -0.02655)" d="M147 878 307 683Q257 624 230.0 581.0Q203 538 203 494Q203 457 227.0 416.5Q251 376 303 314L287 292Q243 320 205 320Q177 320 163.0 301.5Q149 283 149 257Q149 225 162.5 196.5Q176 168 199 142L186 123Q117 173 84.0 214.0Q51 255 51 303Q51 346 78.0 366.0Q105 386 143 386Q173 386 221 363V365L67 570Q168 659 168 736Q168 797 104 878Z"/>
<path transform="translate(601.41 1115.88) scale(0.02788 -0.02655)" d="M147 878 307 683Q257 624 230.0 581.0Q203 538 203 494Q203 457 227.0 416.5Q251 376 303 314L287 292Q243 320 205 320Q177 320 163.0 301.5Q149 283 149 257Q149 225 162.5 196.5Q176 168 199 142L186 123Q117 173 84.0 214.0Q51 255 51 303Q51 346 78.0 366.0Q105 386 143 386Q173 386 221 363V365L67 570Q168 659 168 736Q168 797 104 878Z"/>
<path transform="translate(694.11 1115.88) scale(0.02788 -0.02655)" d="M147 878 307 683Q257 624 230.0 581.0Q203 538 203 494Q203 457 227.0 416.5Q251 376 303 314L287 292Q243 320 205 320Q177 320 163.0 301.5Q149 283 149 257Q149 225 162.5 196.5Q176 168 199 142L186 123Q117 173 84.0 214.0Q51 255 51 303Q51 346 78.0 366.0Q105 386 143 386Q173 386 221 363V365L67 570Q168 659 168 736Q168 797 104 878Z"/>
<path transform="translate(708.11 1115.88) scale(0.02788 -0.02655)" d="M147 878 307 683Q257 624 230.0 581.0Q203 538 203 494Q203 457 227.0 416.5Q251 376 303 314L287 292Q243 320 205 320Q177 320 163.0 301.5Q149 283 149 257Q149 225 162.5 196.5Q176 168 199 142L186 123Q117 173 84.0 214.0Q51 255 51 303Q51 346 78.0 366.0Q105 386 143 386Q173 386 221 363V365L67 570Q168 659 168 736Q168 797 104 878Z"/>
<path transform="translate(718.61 1115.88) scale(0.02788 -0.02655)" d="M147 878 307 683Q257 624 230.0 581.0Q203 538 203 494Q203 457 227.0 416.5Q251 376 303 314L287 292Q243 320 205 320Q177 320 163.0 301.5Q149 283 149 257Q149 225 162.5 196.5Q176 168 199 142L186 123Q117 173 84.0 214.0Q51 255 51 303Q51 346 78.0 366.0Q105 386 143 386Q173 386 221 363V365L67 570Q168 659 168 736Q168 797 104 878Z"/>
<path transform="translate(739.91 1115.88) scale(0.02788 -0.02655)" d="M147 878 307 683Q257 624 230.0 581.0Q203 538 203 494Q203 457 227.0 416.5Q251 376 303 314L287 292Q243 320 205 320Q177 320 163.0 301.5Q149 283 149 257Q149 225 162.5 196.5Q176 168 199 142L186 123Q117 173 84.0 214.0Q51 255 51 303Q51 346 78.0 366.0Q105 386 143 386Q173 386 221 363V365L67 570Q168 659 168 736Q168 797 104 878Z"/>
<path transform="translate(777.41 1115.88) scale(0.02788 -0.02655)" d="M147 878 307 683Q257 624 230.0 581.0Q203 538 203 494Q203 457 227.0 416.5Q251 376 303 314L287 292Q243 320 205 320Q177 320 163.0 301.5Q149 283 149 257Q149 225 162.5 196.5Q176 168 199 142L186 123Q117 173 84.0 214.0Q51 255 51 303Q51 346 78.0 366.0Q105 386 143 386Q173 386 221 363V365L67 570Q168 659 168 736Q168 797 104 878Z"/>
<path transform="translate(799.21 1115.88) scale(0.02788 -0.02655)" d="M147 878 307 683Q257 624 230.0 581.0Q203 538 203 494Q203 457 227.0 416.5Q251 376 303 314L287 292Q243 320 205 320Q177 320 163.0 301.5Q149 283 149 257Q149 225 162.5 196.5Q176 168 199 142L186 123Q117 173 84.0 214.0Q51 255 51 303Q51 346 78.0 366.0Q105 386 143 386Q173 386 221 363V365L67 570Q168 659 168 736Q168 797 104 878Z"/>
<path d="M64.4 681.2C78.3 674.53 110.1 674.53 124 681.2C110.1 676.47 78.3 676.47 64.4 681.2Z" stroke="#000" stroke-width="0.45"/>
<path d="M132 678.2C168.91 670.49 357.09 670.64 394 678.4C357.09 672.57 168.91 672.43 132 678.2Z" stroke="#000" stroke-width="0.45"/>
<path d="M64.4 751.2C79.26 745.16 115.14 745.38 130 751.6C115.14 747.31 79.26 747.09 64.4 751.2Z" stroke="#000" stroke-width="0.45"/>
<path d="M64.4 758.2C76.92 751.95 103.48 752.25 116 758.8C103.48 754.19 76.92 753.88 64.4 758.2Z" stroke="#000" stroke-width="0.45"/>
<path d="M64.4 800.2C73.18 794.87 88.22 794.87 97 800.2C88.22 796.8 73.18 796.8 64.4 800.2Z" stroke="#000" stroke-width="0.45"/>
<path d="M64.4 825.2C75.05 818.53 95.35 818.53 106 825.2C95.35 820.47 75.05 820.47 64.4 825.2Z" stroke="#000" stroke-width="0.45"/>
<path d="M104 811.2C134.85 802.93 278.15 802.93 309 811.2C278.15 804.87 134.85 804.87 104 811.2Z" stroke="#000" stroke-width="0.45"/>
<path d="M117 825.2C151.22 815.87 319.78 815.87 354 825.2C319.78 817.8 151.22 817.8 117 825.2Z" stroke="#000" stroke-width="0.45"/>
<path d="M64.3 865.9C73.21 859.23 88.59 859.23 97.5 865.9C88.59 861.17 73.21 861.17 64.3 865.9Z" stroke="#000" stroke-width="0.45"/>
<path d="M106 862C178 853.81 586 853.52 658 861.6C586 854.72 178 855.01 106 862Z" stroke="#000" stroke-width="0.45"/>
<path d="M233.5 749.5C239.3 742.83 247.7 742.83 253.5 749.5C247.7 744.77 239.3 744.77 233.5 749.5Z" stroke="#000" stroke-width="0.45"/>
<path d="M64.4 912.3C81.18 918.97 126.22 918.97 143 912.3C126.22 917.03 81.18 917.03 64.4 912.3Z" stroke="#000" stroke-width="0.45"/>
</svg>
</body></html>
